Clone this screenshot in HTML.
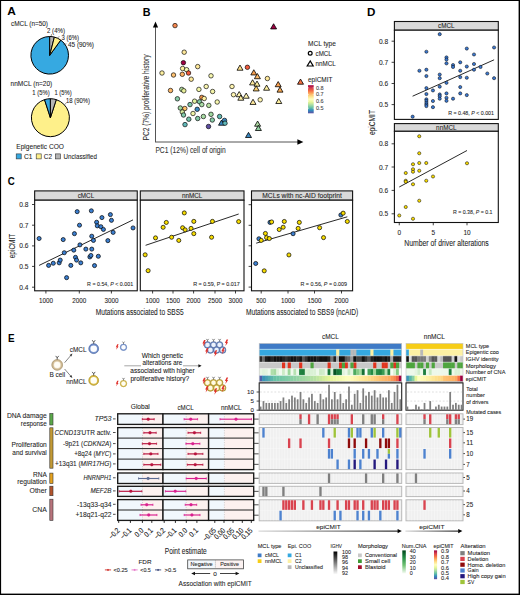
<!DOCTYPE html>
<html><head><meta charset="utf-8"><style>
html,body{margin:0;padding:0;background:#fff;}
svg{display:block;}
text{font-family:"Liberation Sans", sans-serif;}
</style></head><body>
<svg width="520" height="595" viewBox="0 0 520 595" font-family='"Liberation Sans", sans-serif' fill="#1e1e1e">
<rect x="0" y="0" width="520" height="595" fill="#fff"/>
<rect x="0.00" y="0.00" width="520.00" height="1.00" fill="#000"/>
<rect x="0.00" y="0.00" width="1.10" height="595.00" fill="#000"/>
<rect x="518.60" y="0.00" width="1.40" height="595.00" fill="#000"/>
<rect x="0.00" y="593.60" width="520.00" height="1.40" fill="#000"/>
<text x="7.20" y="15.42" font-size="11.20" textLength="8.60" lengthAdjust="spacingAndGlyphs" font-weight="bold" fill="#000">A</text>
<text x="11.00" y="25.88" font-size="7.10" textLength="37.00" lengthAdjust="spacingAndGlyphs" stroke="#1e1e1e" stroke-width="0.08">cMCL (n=50)</text>
<path d="M49.70,55.30 L60.75,40.09 A18.80,18.80 0 1 1 49.70,36.50 Z" fill="#36a9e1" stroke="#000" stroke-width="1.0" stroke-linejoin="round"/>
<path d="M49.70,55.30 L49.70,36.50 A18.80,18.80 0 0 1 54.38,37.09 Z" fill="#b4b4b4" stroke="#000" stroke-width="1.0" stroke-linejoin="round"/>
<path d="M49.70,55.30 L54.38,37.09 A18.80,18.80 0 0 1 60.75,40.09 Z" fill="#fef08a" stroke="#000" stroke-width="1.0" stroke-linejoin="round"/>
<line x1="51.20" y1="36.20" x2="51.50" y2="34.00" stroke="#333" stroke-width="0.5"/>
<line x1="57.50" y1="37.60" x2="59.50" y2="36.60" stroke="#333" stroke-width="0.5"/>
<line x1="63.50" y1="44.60" x2="66.50" y2="43.80" stroke="#333" stroke-width="0.5"/>
<text x="47.00" y="32.69" font-size="7.10" textLength="18.00" lengthAdjust="spacingAndGlyphs" stroke="#1e1e1e" stroke-width="0.08">2 (4%)</text>
<text x="61.50" y="39.69" font-size="7.10" textLength="17.50" lengthAdjust="spacingAndGlyphs" stroke="#1e1e1e" stroke-width="0.08">3 (6%)</text>
<text x="68.00" y="46.98" font-size="7.10" textLength="26.00" lengthAdjust="spacingAndGlyphs" stroke="#1e1e1e" stroke-width="0.08">45 (90%)</text>
<text x="10.60" y="85.89" font-size="7.10" textLength="41.70" lengthAdjust="spacingAndGlyphs" stroke="#1e1e1e" stroke-width="0.08">nnMCL (n=20)</text>
<path d="M50.40,117.70 L56.27,99.63 A19.00,19.00 0 1 1 44.53,99.63 Z" fill="#fef08a" stroke="#000" stroke-width="1.0" stroke-linejoin="round"/>
<path d="M50.40,117.70 L44.53,99.63 A19.00,19.00 0 0 1 50.40,98.70 Z" fill="#36a9e1" stroke="#000" stroke-width="1.0" stroke-linejoin="round"/>
<path d="M50.40,117.70 L50.40,98.70 A19.00,19.00 0 0 1 56.27,99.63 Z" fill="#b4b4b4" stroke="#000" stroke-width="1.0" stroke-linejoin="round"/>
<line x1="64.50" y1="104.80" x2="66.50" y2="102.60" stroke="#333" stroke-width="0.5"/>
<text x="32.30" y="95.48" font-size="7.10" textLength="17.30" lengthAdjust="spacingAndGlyphs" stroke="#1e1e1e" stroke-width="0.08">1 (5%)</text>
<text x="54.40" y="95.48" font-size="7.10" textLength="17.30" lengthAdjust="spacingAndGlyphs" stroke="#1e1e1e" stroke-width="0.08">1 (5%)</text>
<text x="66.00" y="103.19" font-size="7.10" textLength="24.00" lengthAdjust="spacingAndGlyphs" stroke="#1e1e1e" stroke-width="0.08">18 (90%)</text>
<text x="16.30" y="149.09" font-size="7.10" textLength="47.70" lengthAdjust="spacingAndGlyphs" stroke="#1e1e1e" stroke-width="0.08">Epigenetic COO</text>
<rect x="16.20" y="153.90" width="5.00" height="5.00" fill="#36a9e1" stroke="#333" stroke-width="0.6"/>
<text x="24.00" y="159.09" font-size="7.10" textLength="8.50" lengthAdjust="spacingAndGlyphs" stroke="#1e1e1e" stroke-width="0.08">C1</text>
<rect x="36.20" y="153.90" width="5.00" height="5.00" fill="#fef08a" stroke="#333" stroke-width="0.6"/>
<text x="43.80" y="159.09" font-size="7.10" textLength="8.20" lengthAdjust="spacingAndGlyphs" stroke="#1e1e1e" stroke-width="0.08">C2</text>
<rect x="55.40" y="153.90" width="5.00" height="5.00" fill="#b4b4b4" stroke="#333" stroke-width="0.6"/>
<text x="63.50" y="159.09" font-size="7.10" textLength="33.50" lengthAdjust="spacingAndGlyphs" stroke="#1e1e1e" stroke-width="0.08">Unclassified</text>
<text x="142.70" y="15.72" font-size="11.20" textLength="7.80" lengthAdjust="spacingAndGlyphs" font-weight="bold" fill="#000">B</text>
<line x1="155.50" y1="142.00" x2="155.50" y2="25.00" stroke="#555" stroke-width="1.0"/>
<polygon points="155.5,21.6 152.9,27.4 158.1,27.4" fill="#000"/>
<line x1="155.00" y1="142.00" x2="298.50" y2="142.00" stroke="#555" stroke-width="1.0"/>
<polygon points="303.4,142 297.4,139.3 297.4,144.7" fill="#000"/>
<text x="155.40" y="152.74" font-size="8.70" textLength="70.30" lengthAdjust="spacingAndGlyphs" fill="#333" stroke="#333" stroke-width="0.08">PC1 (12%) cell of origin</text>
<text x="146.30" y="100.55" font-size="8.70" text-anchor="middle" textLength="86.00" lengthAdjust="spacingAndGlyphs" fill="#333" stroke="#333" stroke-width="0.08" transform="rotate(-90 146.30 97.50)">PC2 (7%) proliferative history</text>
<circle cx="175.00" cy="25.60" r="2.25" fill="#f4874f" stroke="#000" stroke-width="0.65"/>
<circle cx="184.20" cy="52.20" r="2.25" fill="#fee89a" stroke="#000" stroke-width="0.65"/>
<circle cx="183.40" cy="62.70" r="2.25" fill="#9e0142" stroke="#000" stroke-width="0.65"/>
<circle cx="182.60" cy="68.50" r="2.25" fill="#fef0a0" stroke="#000" stroke-width="0.65"/>
<circle cx="186.60" cy="69.70" r="2.25" fill="#f4f8b0" stroke="#000" stroke-width="0.65"/>
<circle cx="188.50" cy="73.00" r="2.25" fill="#f05a3c" stroke="#000" stroke-width="0.65"/>
<circle cx="197.70" cy="66.60" r="2.25" fill="#fee89a" stroke="#000" stroke-width="0.65"/>
<circle cx="162.00" cy="73.00" r="2.25" fill="#fef0a0" stroke="#000" stroke-width="0.65"/>
<circle cx="173.50" cy="75.00" r="2.25" fill="#fdc070" stroke="#000" stroke-width="0.65"/>
<circle cx="182.30" cy="74.30" r="2.25" fill="#fdb060" stroke="#000" stroke-width="0.65"/>
<circle cx="191.20" cy="79.20" r="2.25" fill="#fee89a" stroke="#000" stroke-width="0.65"/>
<circle cx="211.00" cy="75.80" r="2.25" fill="#f8f8b0" stroke="#000" stroke-width="0.65"/>
<circle cx="170.50" cy="90.50" r="2.25" fill="#fdb868" stroke="#000" stroke-width="0.65"/>
<circle cx="181.80" cy="89.40" r="2.25" fill="#b0dca0" stroke="#000" stroke-width="0.65"/>
<circle cx="183.80" cy="90.80" r="2.25" fill="#e8f09a" stroke="#000" stroke-width="0.65"/>
<circle cx="198.90" cy="89.40" r="2.25" fill="#f4f8a8" stroke="#000" stroke-width="0.65"/>
<circle cx="206.20" cy="86.50" r="2.25" fill="#f8f4b0" stroke="#000" stroke-width="0.65"/>
<circle cx="212.60" cy="91.50" r="2.25" fill="#f4f4a8" stroke="#000" stroke-width="0.65"/>
<circle cx="177.40" cy="98.80" r="2.25" fill="#88cca8" stroke="#000" stroke-width="0.65"/>
<circle cx="201.80" cy="97.40" r="2.25" fill="#f09048" stroke="#000" stroke-width="0.65"/>
<circle cx="204.20" cy="98.50" r="2.25" fill="#fef0a0" stroke="#000" stroke-width="0.65"/>
<circle cx="194.60" cy="101.20" r="2.25" fill="#e0f0a0" stroke="#000" stroke-width="0.65"/>
<circle cx="199.50" cy="101.80" r="2.25" fill="#80c8a4" stroke="#000" stroke-width="0.65"/>
<circle cx="201.80" cy="104.60" r="2.25" fill="#a8dca4" stroke="#000" stroke-width="0.65"/>
<circle cx="190.00" cy="104.60" r="2.25" fill="#78c4a8" stroke="#000" stroke-width="0.65"/>
<circle cx="208.80" cy="105.40" r="2.25" fill="#b8e0a0" stroke="#000" stroke-width="0.65"/>
<circle cx="217.20" cy="102.00" r="2.25" fill="#f8f8b0" stroke="#000" stroke-width="0.65"/>
<circle cx="180.30" cy="108.00" r="2.25" fill="#a0d8a0" stroke="#000" stroke-width="0.65"/>
<circle cx="184.80" cy="108.50" r="2.25" fill="#fdc068" stroke="#000" stroke-width="0.65"/>
<circle cx="197.20" cy="109.30" r="2.25" fill="#3a88c0" stroke="#000" stroke-width="0.65"/>
<circle cx="182.30" cy="112.00" r="2.25" fill="#d8eca0" stroke="#000" stroke-width="0.65"/>
<circle cx="183.50" cy="115.00" r="2.25" fill="#80c8a8" stroke="#000" stroke-width="0.65"/>
<circle cx="193.00" cy="113.50" r="2.25" fill="#f0f4a8" stroke="#000" stroke-width="0.65"/>
<circle cx="188.80" cy="119.20" r="2.25" fill="#70c0a8" stroke="#000" stroke-width="0.65"/>
<circle cx="197.70" cy="118.50" r="2.25" fill="#80c8a4" stroke="#000" stroke-width="0.65"/>
<circle cx="203.40" cy="116.50" r="2.25" fill="#a8dca4" stroke="#000" stroke-width="0.65"/>
<circle cx="211.00" cy="114.30" r="2.25" fill="#a0d8a0" stroke="#000" stroke-width="0.65"/>
<circle cx="212.30" cy="120.00" r="2.25" fill="#88cca8" stroke="#000" stroke-width="0.65"/>
<circle cx="219.60" cy="116.50" r="2.25" fill="#60b8b0" stroke="#000" stroke-width="0.65"/>
<circle cx="185.00" cy="124.60" r="2.25" fill="#60b8b8" stroke="#000" stroke-width="0.65"/>
<circle cx="208.50" cy="126.50" r="2.25" fill="#5e4fa2" stroke="#000" stroke-width="0.65"/>
<circle cx="247.40" cy="67.30" r="2.25" fill="#f05a3c" stroke="#000" stroke-width="0.65"/>
<circle cx="267.40" cy="78.50" r="2.25" fill="#fee89a" stroke="#000" stroke-width="0.65"/>
<circle cx="232.00" cy="86.50" r="2.25" fill="#fef4b0" stroke="#000" stroke-width="0.65"/>
<circle cx="233.50" cy="94.70" r="2.25" fill="#fef4b0" stroke="#000" stroke-width="0.65"/>
<circle cx="260.20" cy="99.80" r="2.25" fill="#fef4b0" stroke="#000" stroke-width="0.65"/>
<polygon points="273.60,23.74 270.60,28.93 276.60,28.93" fill="#9e0142" stroke="#000" stroke-width="0.8" stroke-linejoin="miter"/>
<polygon points="240.00,65.04 237.00,70.23 243.00,70.23" fill="#fee08b" stroke="#000" stroke-width="0.8" stroke-linejoin="miter"/>
<polygon points="253.80,69.74 250.80,74.93 256.80,74.93" fill="#f8a050" stroke="#000" stroke-width="0.8" stroke-linejoin="miter"/>
<polygon points="257.40,73.54 254.40,78.73 260.40,78.73" fill="#fdb868" stroke="#000" stroke-width="0.8" stroke-linejoin="miter"/>
<polygon points="252.60,79.74 249.60,84.93 255.60,84.93" fill="#fee89a" stroke="#000" stroke-width="0.8" stroke-linejoin="miter"/>
<polygon points="257.00,81.04 254.00,86.23 260.00,86.23" fill="#fef0a0" stroke="#000" stroke-width="0.8" stroke-linejoin="miter"/>
<polygon points="256.20,85.74 253.20,90.93 259.20,90.93" fill="#fdd070" stroke="#000" stroke-width="0.8" stroke-linejoin="miter"/>
<polygon points="266.60,85.04 263.60,90.23 269.60,90.23" fill="#fef0a0" stroke="#000" stroke-width="0.8" stroke-linejoin="miter"/>
<polygon points="278.20,81.54 275.20,86.73 281.20,86.73" fill="#f8a050" stroke="#000" stroke-width="0.8" stroke-linejoin="miter"/>
<polygon points="280.00,86.94 277.00,92.13 283.00,92.13" fill="#f8a850" stroke="#000" stroke-width="0.8" stroke-linejoin="miter"/>
<polygon points="239.20,91.54 236.20,96.73 242.20,96.73" fill="#fef4b0" stroke="#000" stroke-width="0.8" stroke-linejoin="miter"/>
<polygon points="240.80,95.04 237.80,100.23 243.80,100.23" fill="#fef0a0" stroke="#000" stroke-width="0.8" stroke-linejoin="miter"/>
<polygon points="246.20,93.04 243.20,98.23 249.20,98.23" fill="#fef4b0" stroke="#000" stroke-width="0.8" stroke-linejoin="miter"/>
<polygon points="253.00,99.24 250.00,104.43 256.00,104.43" fill="#fee89a" stroke="#000" stroke-width="0.8" stroke-linejoin="miter"/>
<polygon points="278.80,98.34 275.80,103.53 281.80,103.53" fill="#fef0a0" stroke="#000" stroke-width="0.8" stroke-linejoin="miter"/>
<polygon points="300.50,79.04 297.50,84.23 303.50,84.23" fill="#f47040" stroke="#000" stroke-width="0.8" stroke-linejoin="miter"/>
<polygon points="221.50,120.04 218.50,125.23 224.50,125.23" fill="#3a88c0" stroke="#000" stroke-width="0.8" stroke-linejoin="miter"/>
<circle cx="224.50" cy="120.40" r="2.25" fill="#3a88c0" stroke="#000" stroke-width="0.65"/>
<circle cx="225.00" cy="123.20" r="2.25" fill="#60b8b8" stroke="#000" stroke-width="0.65"/>
<polygon points="257.60,121.04 254.60,126.23 260.60,126.23" fill="#b0dca4" stroke="#000" stroke-width="0.8" stroke-linejoin="miter"/>
<polygon points="258.40,125.34 255.40,130.53 261.40,130.53" fill="#90d0a0" stroke="#000" stroke-width="0.8" stroke-linejoin="miter"/>
<polygon points="248.50,132.34 245.50,137.53 251.50,137.53" fill="#3a88c0" stroke="#000" stroke-width="0.8" stroke-linejoin="miter"/>
<text x="308.00" y="46.05" font-size="7.00" textLength="27.80" lengthAdjust="spacingAndGlyphs" stroke="#1e1e1e" stroke-width="0.08">MCL type</text>
<circle cx="310.2" cy="53.2" r="1.9" fill="none" stroke="#000" stroke-width="1.2"/>
<text x="315.60" y="55.65" font-size="7.00" textLength="16.20" lengthAdjust="spacingAndGlyphs" stroke="#1e1e1e" stroke-width="0.08">cMCL</text>
<polygon points="310.2,61.0 307.2,66.0 313.2,66.0" fill="none" stroke="#000" stroke-width="1.2"/>
<text x="315.60" y="66.35" font-size="7.00" textLength="20.20" lengthAdjust="spacingAndGlyphs" stroke="#1e1e1e" stroke-width="0.08">nnMCL</text>
<text x="308.00" y="81.95" font-size="7.00" textLength="24.50" lengthAdjust="spacingAndGlyphs" stroke="#1e1e1e" stroke-width="0.08">epiCMIT</text>
<defs><linearGradient id="gspec" x1="0" y1="1" x2="0" y2="0"><stop offset="0.000" stop-color="#5e4fa2"/><stop offset="0.100" stop-color="#3288bd"/><stop offset="0.200" stop-color="#66c2a5"/><stop offset="0.300" stop-color="#abdda4"/><stop offset="0.400" stop-color="#e6f598"/><stop offset="0.500" stop-color="#ffffbf"/><stop offset="0.600" stop-color="#fee08b"/><stop offset="0.700" stop-color="#fdae61"/><stop offset="0.800" stop-color="#f46d43"/><stop offset="0.900" stop-color="#d53e4f"/><stop offset="1.000" stop-color="#9e0142"/></linearGradient></defs>
<rect x="308.00" y="85.20" width="5.70" height="28.10" fill="url(#gspec)"/>
<line x1="308.00" y1="87.80" x2="309.00" y2="87.80" stroke="#fff" stroke-width="0.5"/>
<line x1="312.70" y1="87.80" x2="313.70" y2="87.80" stroke="#fff" stroke-width="0.5"/>
<text x="316.00" y="89.52" font-size="4.90" textLength="7.60" lengthAdjust="spacingAndGlyphs" fill="#444" stroke="#444" stroke-width="0.08">0.8</text>
<line x1="308.00" y1="94.40" x2="309.00" y2="94.40" stroke="#fff" stroke-width="0.5"/>
<line x1="312.70" y1="94.40" x2="313.70" y2="94.40" stroke="#fff" stroke-width="0.5"/>
<text x="316.00" y="96.12" font-size="4.90" textLength="7.60" lengthAdjust="spacingAndGlyphs" fill="#444" stroke="#444" stroke-width="0.08">0.7</text>
<line x1="308.00" y1="101.20" x2="309.00" y2="101.20" stroke="#fff" stroke-width="0.5"/>
<line x1="312.70" y1="101.20" x2="313.70" y2="101.20" stroke="#fff" stroke-width="0.5"/>
<text x="316.00" y="102.92" font-size="4.90" textLength="7.60" lengthAdjust="spacingAndGlyphs" fill="#444" stroke="#444" stroke-width="0.08">0.6</text>
<line x1="308.00" y1="108.20" x2="309.00" y2="108.20" stroke="#fff" stroke-width="0.5"/>
<line x1="312.70" y1="108.20" x2="313.70" y2="108.20" stroke="#fff" stroke-width="0.5"/>
<text x="316.00" y="109.92" font-size="4.90" textLength="7.60" lengthAdjust="spacingAndGlyphs" fill="#444" stroke="#444" stroke-width="0.08">0.5</text>
<text x="7.70" y="184.82" font-size="11.20" textLength="7.00" lengthAdjust="spacingAndGlyphs" font-weight="bold" fill="#000">C</text>
<rect x="34.65" y="190.90" width="102.60" height="9.30" fill="#d9d9d9" stroke="#111" stroke-width="1.1"/>
<rect x="34.65" y="200.20" width="102.60" height="90.60" fill="#fff" stroke="#111" stroke-width="1.1"/>
<text x="85.95" y="198.06" font-size="6.60" text-anchor="middle" textLength="16.50" lengthAdjust="spacingAndGlyphs" stroke="#1e1e1e" stroke-width="0.08">cMCL</text>
<rect x="140.30" y="190.90" width="103.70" height="9.30" fill="#d9d9d9" stroke="#111" stroke-width="1.1"/>
<rect x="140.30" y="200.20" width="103.70" height="90.60" fill="#fff" stroke="#111" stroke-width="1.1"/>
<text x="192.15" y="198.06" font-size="6.60" text-anchor="middle" textLength="20.50" lengthAdjust="spacingAndGlyphs" stroke="#1e1e1e" stroke-width="0.08">nnMCL</text>
<rect x="251.50" y="190.90" width="101.10" height="9.30" fill="#d9d9d9" stroke="#111" stroke-width="1.1"/>
<rect x="251.50" y="200.20" width="101.10" height="90.60" fill="#fff" stroke="#111" stroke-width="1.1"/>
<text x="302.05" y="198.06" font-size="6.60" text-anchor="middle" textLength="79.50" lengthAdjust="spacingAndGlyphs" stroke="#1e1e1e" stroke-width="0.08">MCLs with nc-AID footprint</text>
<line x1="32.00" y1="204.50" x2="34.65" y2="204.50" stroke="#111" stroke-width="0.8"/>
<text x="28.50" y="207.02" font-size="7.20" text-anchor="end" textLength="9.20" lengthAdjust="spacingAndGlyphs" stroke="#1e1e1e" stroke-width="0.08">0.8</text>
<line x1="32.00" y1="225.20" x2="34.65" y2="225.20" stroke="#111" stroke-width="0.8"/>
<text x="28.50" y="227.72" font-size="7.20" text-anchor="end" textLength="9.20" lengthAdjust="spacingAndGlyphs" stroke="#1e1e1e" stroke-width="0.08">0.7</text>
<line x1="32.00" y1="245.90" x2="34.65" y2="245.90" stroke="#111" stroke-width="0.8"/>
<text x="28.50" y="248.42" font-size="7.20" text-anchor="end" textLength="9.20" lengthAdjust="spacingAndGlyphs" stroke="#1e1e1e" stroke-width="0.08">0.6</text>
<line x1="32.00" y1="266.40" x2="34.65" y2="266.40" stroke="#111" stroke-width="0.8"/>
<text x="28.50" y="268.92" font-size="7.20" text-anchor="end" textLength="9.20" lengthAdjust="spacingAndGlyphs" stroke="#1e1e1e" stroke-width="0.08">0.5</text>
<line x1="32.00" y1="287.20" x2="34.65" y2="287.20" stroke="#111" stroke-width="0.8"/>
<text x="28.50" y="289.72" font-size="7.20" text-anchor="end" textLength="9.20" lengthAdjust="spacingAndGlyphs" stroke="#1e1e1e" stroke-width="0.08">0.4</text>
<line x1="248.60" y1="204.70" x2="251.50" y2="204.70" stroke="#111" stroke-width="0.8"/>
<line x1="248.60" y1="225.30" x2="251.50" y2="225.30" stroke="#111" stroke-width="0.8"/>
<line x1="248.60" y1="245.80" x2="251.50" y2="245.80" stroke="#111" stroke-width="0.8"/>
<line x1="248.60" y1="266.40" x2="251.50" y2="266.40" stroke="#111" stroke-width="0.8"/>
<line x1="248.60" y1="287.10" x2="251.50" y2="287.10" stroke="#111" stroke-width="0.8"/>
<text x="11.60" y="249.15" font-size="9.00" text-anchor="middle" textLength="24.50" lengthAdjust="spacingAndGlyphs" stroke="#1e1e1e" stroke-width="0.08" transform="rotate(-90 11.60 246.00)">epiCMIT</text>
<line x1="45.90" y1="290.80" x2="45.90" y2="293.50" stroke="#111" stroke-width="0.8"/>
<text x="45.90" y="303.29" font-size="7.40" text-anchor="middle" textLength="14.00" lengthAdjust="spacingAndGlyphs" stroke="#1e1e1e" stroke-width="0.08">1000</text>
<line x1="79.30" y1="290.80" x2="79.30" y2="293.50" stroke="#111" stroke-width="0.8"/>
<text x="79.30" y="303.29" font-size="7.40" text-anchor="middle" textLength="14.00" lengthAdjust="spacingAndGlyphs" stroke="#1e1e1e" stroke-width="0.08">2000</text>
<line x1="111.40" y1="290.80" x2="111.40" y2="293.50" stroke="#111" stroke-width="0.8"/>
<text x="111.40" y="303.29" font-size="7.40" text-anchor="middle" textLength="14.00" lengthAdjust="spacingAndGlyphs" stroke="#1e1e1e" stroke-width="0.08">3000</text>
<line x1="152.60" y1="290.80" x2="152.60" y2="293.50" stroke="#111" stroke-width="0.8"/>
<text x="152.60" y="303.29" font-size="7.40" text-anchor="middle" textLength="14.00" lengthAdjust="spacingAndGlyphs" stroke="#1e1e1e" stroke-width="0.08">1000</text>
<line x1="173.00" y1="290.80" x2="173.00" y2="293.50" stroke="#111" stroke-width="0.8"/>
<text x="173.00" y="303.29" font-size="7.40" text-anchor="middle" textLength="14.00" lengthAdjust="spacingAndGlyphs" stroke="#1e1e1e" stroke-width="0.08">1500</text>
<line x1="193.60" y1="290.80" x2="193.60" y2="293.50" stroke="#111" stroke-width="0.8"/>
<text x="193.60" y="303.29" font-size="7.40" text-anchor="middle" textLength="14.00" lengthAdjust="spacingAndGlyphs" stroke="#1e1e1e" stroke-width="0.08">2000</text>
<line x1="215.00" y1="290.80" x2="215.00" y2="293.50" stroke="#111" stroke-width="0.8"/>
<text x="215.00" y="303.29" font-size="7.40" text-anchor="middle" textLength="14.00" lengthAdjust="spacingAndGlyphs" stroke="#1e1e1e" stroke-width="0.08">2500</text>
<line x1="235.50" y1="290.80" x2="235.50" y2="293.50" stroke="#111" stroke-width="0.8"/>
<text x="235.50" y="303.29" font-size="7.40" text-anchor="middle" textLength="14.00" lengthAdjust="spacingAndGlyphs" stroke="#1e1e1e" stroke-width="0.08">3000</text>
<line x1="261.20" y1="290.80" x2="261.20" y2="293.50" stroke="#111" stroke-width="0.8"/>
<text x="261.20" y="303.29" font-size="7.40" text-anchor="middle" textLength="9.80" lengthAdjust="spacingAndGlyphs" stroke="#1e1e1e" stroke-width="0.08">500</text>
<line x1="288.00" y1="290.80" x2="288.00" y2="293.50" stroke="#111" stroke-width="0.8"/>
<text x="288.00" y="303.29" font-size="7.40" text-anchor="middle" textLength="14.00" lengthAdjust="spacingAndGlyphs" stroke="#1e1e1e" stroke-width="0.08">1000</text>
<line x1="314.50" y1="290.80" x2="314.50" y2="293.50" stroke="#111" stroke-width="0.8"/>
<text x="314.50" y="303.29" font-size="7.40" text-anchor="middle" textLength="14.00" lengthAdjust="spacingAndGlyphs" stroke="#1e1e1e" stroke-width="0.08">1500</text>
<line x1="341.50" y1="290.80" x2="341.50" y2="293.50" stroke="#111" stroke-width="0.8"/>
<text x="341.50" y="303.29" font-size="7.40" text-anchor="middle" textLength="14.00" lengthAdjust="spacingAndGlyphs" stroke="#1e1e1e" stroke-width="0.08">2000</text>
<text x="95.80" y="314.81" font-size="8.90" textLength="88.00" lengthAdjust="spacingAndGlyphs" stroke="#1e1e1e" stroke-width="0.08">Mutations associated to SBS5</text>
<text x="246.00" y="314.81" font-size="8.90" textLength="112.30" lengthAdjust="spacingAndGlyphs" stroke="#1e1e1e" stroke-width="0.08">Mutations associated to SBS9 (ncAID)</text>
<line x1="39.10" y1="265.40" x2="133.00" y2="219.90" stroke="#111" stroke-width="0.9"/>
<circle cx="39.10" cy="238.52" r="2.05" fill="#3c7fd0" stroke="#000" stroke-width="0.7"/>
<circle cx="48.62" cy="265.39" r="2.05" fill="#3c7fd0" stroke="#000" stroke-width="0.7"/>
<circle cx="53.27" cy="263.27" r="2.05" fill="#3c7fd0" stroke="#000" stroke-width="0.7"/>
<circle cx="59.19" cy="262.85" r="2.05" fill="#3c7fd0" stroke="#000" stroke-width="0.7"/>
<circle cx="60.25" cy="260.10" r="2.05" fill="#3c7fd0" stroke="#000" stroke-width="0.7"/>
<circle cx="63.21" cy="239.58" r="2.05" fill="#3c7fd0" stroke="#000" stroke-width="0.7"/>
<circle cx="64.27" cy="252.70" r="2.05" fill="#3c7fd0" stroke="#000" stroke-width="0.7"/>
<circle cx="66.60" cy="277.66" r="2.05" fill="#3c7fd0" stroke="#000" stroke-width="0.7"/>
<circle cx="70.83" cy="265.39" r="2.05" fill="#3c7fd0" stroke="#000" stroke-width="0.7"/>
<circle cx="73.79" cy="250.16" r="2.05" fill="#3c7fd0" stroke="#000" stroke-width="0.7"/>
<circle cx="74.43" cy="233.66" r="2.05" fill="#3c7fd0" stroke="#000" stroke-width="0.7"/>
<circle cx="75.48" cy="257.35" r="2.05" fill="#3c7fd0" stroke="#000" stroke-width="0.7"/>
<circle cx="76.54" cy="260.10" r="2.05" fill="#3c7fd0" stroke="#000" stroke-width="0.7"/>
<circle cx="77.18" cy="211.66" r="2.05" fill="#3c7fd0" stroke="#000" stroke-width="0.7"/>
<circle cx="79.50" cy="225.19" r="2.05" fill="#3c7fd0" stroke="#000" stroke-width="0.7"/>
<circle cx="79.93" cy="244.87" r="2.05" fill="#3c7fd0" stroke="#000" stroke-width="0.7"/>
<circle cx="80.77" cy="262.85" r="2.05" fill="#3c7fd0" stroke="#000" stroke-width="0.7"/>
<circle cx="85.85" cy="249.10" r="2.05" fill="#3c7fd0" stroke="#000" stroke-width="0.7"/>
<circle cx="89.87" cy="256.93" r="2.05" fill="#3c7fd0" stroke="#000" stroke-width="0.7"/>
<circle cx="90.93" cy="255.45" r="2.05" fill="#3c7fd0" stroke="#000" stroke-width="0.7"/>
<circle cx="91.35" cy="210.81" r="2.05" fill="#3c7fd0" stroke="#000" stroke-width="0.7"/>
<circle cx="91.77" cy="236.20" r="2.05" fill="#3c7fd0" stroke="#000" stroke-width="0.7"/>
<circle cx="91.77" cy="249.10" r="2.05" fill="#3c7fd0" stroke="#000" stroke-width="0.7"/>
<circle cx="93.47" cy="240.43" r="2.05" fill="#3c7fd0" stroke="#000" stroke-width="0.7"/>
<circle cx="94.52" cy="265.60" r="2.05" fill="#3c7fd0" stroke="#000" stroke-width="0.7"/>
<circle cx="96.64" cy="222.23" r="2.05" fill="#3c7fd0" stroke="#000" stroke-width="0.7"/>
<circle cx="97.27" cy="225.83" r="2.05" fill="#3c7fd0" stroke="#000" stroke-width="0.7"/>
<circle cx="98.33" cy="256.29" r="2.05" fill="#3c7fd0" stroke="#000" stroke-width="0.7"/>
<circle cx="100.87" cy="226.68" r="2.05" fill="#3c7fd0" stroke="#000" stroke-width="0.7"/>
<circle cx="101.93" cy="217.58" r="2.05" fill="#3c7fd0" stroke="#000" stroke-width="0.7"/>
<circle cx="103.41" cy="229.43" r="2.05" fill="#3c7fd0" stroke="#000" stroke-width="0.7"/>
<circle cx="107.85" cy="240.64" r="2.05" fill="#3c7fd0" stroke="#000" stroke-width="0.7"/>
<circle cx="110.39" cy="214.62" r="2.05" fill="#3c7fd0" stroke="#000" stroke-width="0.7"/>
<circle cx="111.45" cy="220.33" r="2.05" fill="#3c7fd0" stroke="#000" stroke-width="0.7"/>
<circle cx="113.14" cy="232.39" r="2.05" fill="#3c7fd0" stroke="#000" stroke-width="0.7"/>
<circle cx="133.03" cy="227.94" r="2.05" fill="#3c7fd0" stroke="#000" stroke-width="0.7"/>
<text x="87.10" y="285.69" font-size="5.40" textLength="46.00" lengthAdjust="spacingAndGlyphs" stroke="#1e1e1e" stroke-width="0.08">R = 0.54, <tspan font-style="italic">P</tspan> &lt; 0.001</text>
<line x1="145.60" y1="245.30" x2="238.70" y2="214.00" stroke="#111" stroke-width="0.9"/>
<circle cx="145.15" cy="254.81" r="2.05" fill="#f7dc00" stroke="#000" stroke-width="0.7"/>
<circle cx="148.12" cy="270.68" r="2.05" fill="#f7dc00" stroke="#000" stroke-width="0.7"/>
<circle cx="155.52" cy="237.89" r="2.05" fill="#f7dc00" stroke="#000" stroke-width="0.7"/>
<circle cx="163.14" cy="227.31" r="2.05" fill="#f7dc00" stroke="#000" stroke-width="0.7"/>
<circle cx="166.31" cy="222.44" r="2.05" fill="#f7dc00" stroke="#000" stroke-width="0.7"/>
<circle cx="171.60" cy="237.25" r="2.05" fill="#f7dc00" stroke="#000" stroke-width="0.7"/>
<circle cx="178.79" cy="240.43" r="2.05" fill="#f7dc00" stroke="#000" stroke-width="0.7"/>
<circle cx="182.60" cy="227.73" r="2.05" fill="#f7dc00" stroke="#000" stroke-width="0.7"/>
<circle cx="184.29" cy="212.92" r="2.05" fill="#f7dc00" stroke="#000" stroke-width="0.7"/>
<circle cx="185.14" cy="229.85" r="2.05" fill="#f7dc00" stroke="#000" stroke-width="0.7"/>
<circle cx="191.06" cy="228.37" r="2.05" fill="#f7dc00" stroke="#000" stroke-width="0.7"/>
<circle cx="193.81" cy="221.39" r="2.05" fill="#f7dc00" stroke="#000" stroke-width="0.7"/>
<circle cx="193.81" cy="233.66" r="2.05" fill="#f7dc00" stroke="#000" stroke-width="0.7"/>
<circle cx="211.58" cy="237.25" r="2.05" fill="#f7dc00" stroke="#000" stroke-width="0.7"/>
<circle cx="212.43" cy="221.39" r="2.05" fill="#f7dc00" stroke="#000" stroke-width="0.7"/>
<circle cx="238.66" cy="221.60" r="2.05" fill="#f7dc00" stroke="#000" stroke-width="0.7"/>
<text x="193.20" y="285.69" font-size="5.40" textLength="46.50" lengthAdjust="spacingAndGlyphs" stroke="#1e1e1e" stroke-width="0.08">R = 0.59, P = 0.017</text>
<line x1="256.20" y1="243.20" x2="347.30" y2="216.80" stroke="#111" stroke-width="0.9"/>
<circle cx="255.69" cy="263.47" r="2.05" fill="#3c7fd0" stroke="#000" stroke-width="0.7"/>
<circle cx="258.92" cy="238.77" r="2.05" fill="#3c7fd0" stroke="#000" stroke-width="0.7"/>
<circle cx="270.00" cy="222.39" r="2.05" fill="#3c7fd0" stroke="#000" stroke-width="0.7"/>
<circle cx="293.08" cy="233.70" r="2.05" fill="#3c7fd0" stroke="#000" stroke-width="0.7"/>
<circle cx="340.85" cy="215.00" r="2.05" fill="#3c7fd0" stroke="#000" stroke-width="0.7"/>
<circle cx="261.23" cy="240.39" r="2.05" fill="#f7dc00" stroke="#000" stroke-width="0.7"/>
<circle cx="264.23" cy="270.85" r="2.05" fill="#f7dc00" stroke="#000" stroke-width="0.7"/>
<circle cx="265.39" cy="233.47" r="2.05" fill="#f7dc00" stroke="#000" stroke-width="0.7"/>
<circle cx="266.54" cy="237.62" r="2.05" fill="#f7dc00" stroke="#000" stroke-width="0.7"/>
<circle cx="269.31" cy="238.54" r="2.05" fill="#f7dc00" stroke="#000" stroke-width="0.7"/>
<circle cx="271.62" cy="221.93" r="2.05" fill="#f7dc00" stroke="#000" stroke-width="0.7"/>
<circle cx="279.23" cy="229.54" r="2.05" fill="#f7dc00" stroke="#000" stroke-width="0.7"/>
<circle cx="283.16" cy="227.23" r="2.05" fill="#f7dc00" stroke="#000" stroke-width="0.7"/>
<circle cx="284.31" cy="221.46" r="2.05" fill="#f7dc00" stroke="#000" stroke-width="0.7"/>
<circle cx="288.93" cy="254.93" r="2.05" fill="#f7dc00" stroke="#000" stroke-width="0.7"/>
<circle cx="298.16" cy="228.39" r="2.05" fill="#f7dc00" stroke="#000" stroke-width="0.7"/>
<circle cx="299.31" cy="222.39" r="2.05" fill="#f7dc00" stroke="#000" stroke-width="0.7"/>
<circle cx="319.62" cy="227.70" r="2.05" fill="#f7dc00" stroke="#000" stroke-width="0.7"/>
<circle cx="323.54" cy="237.62" r="2.05" fill="#f7dc00" stroke="#000" stroke-width="0.7"/>
<circle cx="343.16" cy="213.16" r="2.05" fill="#f7dc00" stroke="#000" stroke-width="0.7"/>
<circle cx="347.32" cy="221.46" r="2.05" fill="#f7dc00" stroke="#000" stroke-width="0.7"/>
<text x="300.50" y="285.99" font-size="5.40" textLength="46.40" lengthAdjust="spacingAndGlyphs" stroke="#1e1e1e" stroke-width="0.08">R = 0.56, <tspan font-style="italic">P</tspan> = 0.009</text>
<text x="367.00" y="15.52" font-size="11.20" textLength="8.40" lengthAdjust="spacingAndGlyphs" font-weight="bold" fill="#000">D</text>
<rect x="394.40" y="21.50" width="103.90" height="8.70" fill="#d9d9d9" stroke="#111" stroke-width="1.1"/>
<rect x="394.40" y="30.20" width="103.90" height="89.20" fill="#fff" stroke="#111" stroke-width="1.1"/>
<text x="446.35" y="28.36" font-size="6.60" text-anchor="middle" textLength="16.50" lengthAdjust="spacingAndGlyphs" stroke="#1e1e1e" stroke-width="0.08">cMCL</text>
<rect x="394.40" y="123.60" width="103.90" height="7.70" fill="#d9d9d9" stroke="#111" stroke-width="1.1"/>
<rect x="394.40" y="131.30" width="103.90" height="91.20" fill="#fff" stroke="#111" stroke-width="1.1"/>
<text x="446.35" y="129.96" font-size="6.60" text-anchor="middle" textLength="20.50" lengthAdjust="spacingAndGlyphs" stroke="#1e1e1e" stroke-width="0.08">nnMCL</text>
<line x1="391.60" y1="41.20" x2="394.40" y2="41.20" stroke="#111" stroke-width="0.8"/>
<text x="388.10" y="43.72" font-size="7.20" text-anchor="end" textLength="9.20" lengthAdjust="spacingAndGlyphs" stroke="#1e1e1e" stroke-width="0.08">0.8</text>
<line x1="391.60" y1="62.30" x2="394.40" y2="62.30" stroke="#111" stroke-width="0.8"/>
<text x="388.10" y="64.82" font-size="7.20" text-anchor="end" textLength="9.20" lengthAdjust="spacingAndGlyphs" stroke="#1e1e1e" stroke-width="0.08">0.7</text>
<line x1="391.60" y1="83.50" x2="394.40" y2="83.50" stroke="#111" stroke-width="0.8"/>
<text x="388.10" y="86.02" font-size="7.20" text-anchor="end" textLength="9.20" lengthAdjust="spacingAndGlyphs" stroke="#1e1e1e" stroke-width="0.08">0.6</text>
<line x1="391.60" y1="104.60" x2="394.40" y2="104.60" stroke="#111" stroke-width="0.8"/>
<text x="388.10" y="107.12" font-size="7.20" text-anchor="end" textLength="9.20" lengthAdjust="spacingAndGlyphs" stroke="#1e1e1e" stroke-width="0.08">0.5</text>
<line x1="391.60" y1="143.80" x2="394.40" y2="143.80" stroke="#111" stroke-width="0.8"/>
<text x="388.10" y="146.32" font-size="7.20" text-anchor="end" textLength="9.20" lengthAdjust="spacingAndGlyphs" stroke="#1e1e1e" stroke-width="0.08">0.8</text>
<line x1="391.60" y1="167.00" x2="394.40" y2="167.00" stroke="#111" stroke-width="0.8"/>
<text x="388.10" y="169.52" font-size="7.20" text-anchor="end" textLength="9.20" lengthAdjust="spacingAndGlyphs" stroke="#1e1e1e" stroke-width="0.08">0.7</text>
<line x1="391.60" y1="190.40" x2="394.40" y2="190.40" stroke="#111" stroke-width="0.8"/>
<text x="388.10" y="192.92" font-size="7.20" text-anchor="end" textLength="9.20" lengthAdjust="spacingAndGlyphs" stroke="#1e1e1e" stroke-width="0.08">0.6</text>
<line x1="391.60" y1="213.80" x2="394.40" y2="213.80" stroke="#111" stroke-width="0.8"/>
<text x="388.10" y="216.32" font-size="7.20" text-anchor="end" textLength="9.20" lengthAdjust="spacingAndGlyphs" stroke="#1e1e1e" stroke-width="0.08">0.5</text>
<line x1="399.25" y1="222.50" x2="399.25" y2="225.30" stroke="#111" stroke-width="0.8"/>
<text x="399.25" y="234.59" font-size="7.40" text-anchor="middle" textLength="3.60" lengthAdjust="spacingAndGlyphs" stroke="#1e1e1e" stroke-width="0.08">0</text>
<line x1="433.25" y1="222.50" x2="433.25" y2="225.30" stroke="#111" stroke-width="0.8"/>
<text x="433.25" y="234.59" font-size="7.40" text-anchor="middle" textLength="3.60" lengthAdjust="spacingAndGlyphs" stroke="#1e1e1e" stroke-width="0.08">5</text>
<line x1="467.00" y1="222.50" x2="467.00" y2="225.30" stroke="#111" stroke-width="0.8"/>
<text x="467.00" y="234.59" font-size="7.40" text-anchor="middle" textLength="7.20" lengthAdjust="spacingAndGlyphs" stroke="#1e1e1e" stroke-width="0.08">10</text>
<text x="404.30" y="246.42" font-size="8.90" textLength="84.50" lengthAdjust="spacingAndGlyphs" stroke="#1e1e1e" stroke-width="0.08">Number of driver alterations</text>
<text x="372.10" y="125.65" font-size="9.00" text-anchor="middle" textLength="25.00" lengthAdjust="spacingAndGlyphs" stroke="#1e1e1e" stroke-width="0.08" transform="rotate(-90 372.10 122.50)">epiCMIT</text>
<line x1="412.60" y1="96.20" x2="494.10" y2="59.80" stroke="#111" stroke-width="0.9"/>
<circle cx="439.71" cy="34.17" r="1.60" fill="#3b78d0" stroke="#000" stroke-width="0.5"/>
<circle cx="466.79" cy="48.56" r="1.60" fill="#3b78d0" stroke="#000" stroke-width="0.5"/>
<circle cx="494.08" cy="47.50" r="1.60" fill="#3b78d0" stroke="#000" stroke-width="0.5"/>
<circle cx="426.39" cy="51.73" r="1.60" fill="#3b78d0" stroke="#000" stroke-width="0.5"/>
<circle cx="473.99" cy="54.48" r="1.60" fill="#3b78d0" stroke="#000" stroke-width="0.5"/>
<circle cx="446.48" cy="57.44" r="1.60" fill="#3b78d0" stroke="#000" stroke-width="0.5"/>
<circle cx="446.48" cy="59.56" r="1.60" fill="#3b78d0" stroke="#000" stroke-width="0.5"/>
<circle cx="446.48" cy="63.37" r="1.60" fill="#3b78d0" stroke="#000" stroke-width="0.5"/>
<circle cx="453.04" cy="65.06" r="1.60" fill="#3b78d0" stroke="#000" stroke-width="0.5"/>
<circle cx="453.04" cy="66.96" r="1.60" fill="#3b78d0" stroke="#000" stroke-width="0.5"/>
<circle cx="460.23" cy="62.31" r="1.60" fill="#3b78d0" stroke="#000" stroke-width="0.5"/>
<circle cx="466.79" cy="66.54" r="1.60" fill="#3b78d0" stroke="#000" stroke-width="0.5"/>
<circle cx="473.99" cy="64.00" r="1.60" fill="#3b78d0" stroke="#000" stroke-width="0.5"/>
<circle cx="480.54" cy="66.96" r="1.60" fill="#3b78d0" stroke="#000" stroke-width="0.5"/>
<circle cx="419.41" cy="70.77" r="1.60" fill="#3b78d0" stroke="#000" stroke-width="0.5"/>
<circle cx="426.39" cy="69.71" r="1.60" fill="#3b78d0" stroke="#000" stroke-width="0.5"/>
<circle cx="460.23" cy="70.77" r="1.60" fill="#3b78d0" stroke="#000" stroke-width="0.5"/>
<circle cx="473.99" cy="69.71" r="1.60" fill="#3b78d0" stroke="#000" stroke-width="0.5"/>
<circle cx="487.31" cy="73.52" r="1.60" fill="#3b78d0" stroke="#000" stroke-width="0.5"/>
<circle cx="426.39" cy="76.06" r="1.60" fill="#3b78d0" stroke="#000" stroke-width="0.5"/>
<circle cx="439.71" cy="74.58" r="1.60" fill="#3b78d0" stroke="#000" stroke-width="0.5"/>
<circle cx="439.71" cy="78.18" r="1.60" fill="#3b78d0" stroke="#000" stroke-width="0.5"/>
<circle cx="460.23" cy="77.12" r="1.60" fill="#3b78d0" stroke="#000" stroke-width="0.5"/>
<circle cx="466.79" cy="77.75" r="1.60" fill="#3b78d0" stroke="#000" stroke-width="0.5"/>
<circle cx="494.08" cy="78.18" r="1.60" fill="#3b78d0" stroke="#000" stroke-width="0.5"/>
<circle cx="446.48" cy="82.83" r="1.60" fill="#3b78d0" stroke="#000" stroke-width="0.5"/>
<circle cx="439.71" cy="86.64" r="1.60" fill="#3b78d0" stroke="#000" stroke-width="0.5"/>
<circle cx="426.39" cy="88.12" r="1.60" fill="#3b78d0" stroke="#000" stroke-width="0.5"/>
<circle cx="432.94" cy="90.45" r="1.60" fill="#3b78d0" stroke="#000" stroke-width="0.5"/>
<circle cx="460.23" cy="87.06" r="1.60" fill="#3b78d0" stroke="#000" stroke-width="0.5"/>
<circle cx="426.39" cy="94.04" r="1.60" fill="#3b78d0" stroke="#000" stroke-width="0.5"/>
<circle cx="439.71" cy="94.47" r="1.60" fill="#3b78d0" stroke="#000" stroke-width="0.5"/>
<circle cx="439.71" cy="96.16" r="1.60" fill="#3b78d0" stroke="#000" stroke-width="0.5"/>
<circle cx="446.48" cy="93.41" r="1.60" fill="#3b78d0" stroke="#000" stroke-width="0.5"/>
<circle cx="460.23" cy="93.41" r="1.60" fill="#3b78d0" stroke="#000" stroke-width="0.5"/>
<circle cx="466.79" cy="95.10" r="1.60" fill="#3b78d0" stroke="#000" stroke-width="0.5"/>
<circle cx="426.39" cy="99.33" r="1.60" fill="#3b78d0" stroke="#000" stroke-width="0.5"/>
<circle cx="426.39" cy="101.02" r="1.60" fill="#3b78d0" stroke="#000" stroke-width="0.5"/>
<circle cx="426.39" cy="102.93" r="1.60" fill="#3b78d0" stroke="#000" stroke-width="0.5"/>
<circle cx="426.39" cy="104.62" r="1.60" fill="#3b78d0" stroke="#000" stroke-width="0.5"/>
<circle cx="426.39" cy="106.10" r="1.60" fill="#3b78d0" stroke="#000" stroke-width="0.5"/>
<circle cx="432.94" cy="101.02" r="1.60" fill="#3b78d0" stroke="#000" stroke-width="0.5"/>
<circle cx="439.71" cy="98.70" r="1.60" fill="#3b78d0" stroke="#000" stroke-width="0.5"/>
<circle cx="446.48" cy="97.85" r="1.60" fill="#3b78d0" stroke="#000" stroke-width="0.5"/>
<circle cx="446.48" cy="100.81" r="1.60" fill="#3b78d0" stroke="#000" stroke-width="0.5"/>
<circle cx="453.04" cy="98.70" r="1.60" fill="#3b78d0" stroke="#000" stroke-width="0.5"/>
<circle cx="432.94" cy="107.16" r="1.60" fill="#3b78d0" stroke="#000" stroke-width="0.5"/>
<circle cx="412.64" cy="116.68" r="1.60" fill="#3b78d0" stroke="#000" stroke-width="0.5"/>
<text x="448.20" y="114.89" font-size="5.40" textLength="45.80" lengthAdjust="spacingAndGlyphs" stroke="#1e1e1e" stroke-width="0.08">R = 0.48, <tspan font-style="italic">P</tspan> &lt; 0.001</text>
<line x1="399.25" y1="187.00" x2="467.00" y2="150.50" stroke="#111" stroke-width="0.9"/>
<circle cx="419.25" cy="136.25" r="1.60" fill="#f7da00" stroke="#000" stroke-width="0.5"/>
<circle cx="419.25" cy="153.25" r="1.60" fill="#f7da00" stroke="#000" stroke-width="0.5"/>
<circle cx="413.00" cy="164.25" r="1.60" fill="#f7da00" stroke="#000" stroke-width="0.5"/>
<circle cx="419.25" cy="163.00" r="1.60" fill="#f7da00" stroke="#000" stroke-width="0.5"/>
<circle cx="426.25" cy="163.00" r="1.60" fill="#f7da00" stroke="#000" stroke-width="0.5"/>
<circle cx="413.00" cy="169.25" r="1.60" fill="#f7da00" stroke="#000" stroke-width="0.5"/>
<circle cx="413.00" cy="171.75" r="1.60" fill="#f7da00" stroke="#000" stroke-width="0.5"/>
<circle cx="419.25" cy="170.75" r="1.60" fill="#f7da00" stroke="#000" stroke-width="0.5"/>
<circle cx="405.75" cy="173.00" r="1.60" fill="#f7da00" stroke="#000" stroke-width="0.5"/>
<circle cx="405.75" cy="180.75" r="1.60" fill="#f7da00" stroke="#000" stroke-width="0.5"/>
<circle cx="405.75" cy="181.75" r="1.60" fill="#f7da00" stroke="#000" stroke-width="0.5"/>
<circle cx="426.25" cy="180.75" r="1.60" fill="#f7da00" stroke="#000" stroke-width="0.5"/>
<circle cx="433.00" cy="176.50" r="1.60" fill="#f7da00" stroke="#000" stroke-width="0.5"/>
<circle cx="413.00" cy="184.25" r="1.60" fill="#f7da00" stroke="#000" stroke-width="0.5"/>
<circle cx="419.25" cy="200.75" r="1.60" fill="#f7da00" stroke="#000" stroke-width="0.5"/>
<circle cx="405.75" cy="207.00" r="1.60" fill="#f7da00" stroke="#000" stroke-width="0.5"/>
<circle cx="399.25" cy="215.50" r="1.60" fill="#f7da00" stroke="#000" stroke-width="0.5"/>
<circle cx="413.00" cy="218.75" r="1.60" fill="#f7da00" stroke="#000" stroke-width="0.5"/>
<circle cx="467.00" cy="163.25" r="1.60" fill="#f7da00" stroke="#000" stroke-width="0.5"/>
<text x="453.00" y="213.99" font-size="5.40" textLength="39.50" lengthAdjust="spacingAndGlyphs" stroke="#1e1e1e" stroke-width="0.08">R = 0.38, <tspan font-style="italic">P</tspan> = 0.1</text>
<text x="8.00" y="341.92" font-size="11.20" textLength="6.60" lengthAdjust="spacingAndGlyphs" font-weight="bold" fill="#000">E</text>
<circle cx="57.20" cy="364.90" r="4.50" fill="#fffdf6" stroke="#cfb991" stroke-width="2.20"/>
<circle cx="57.20" cy="364.90" r="5.40" fill="none" stroke="#9c8b6c" stroke-width="0.55"/>
<path d="M57.20,359.50 L57.20,357.90 M57.20,357.90 L55.70,355.90 M57.20,357.90 L58.70,355.90" stroke="#4a4a4a" stroke-width="0.90" fill="none"/>
<circle cx="57.2" cy="364.9" r="3.5" fill="none" stroke="#eadcc0" stroke-width="0.5"/>
<circle cx="93.70" cy="348.70" r="4.20" fill="#fcfdff" stroke="#7592cc" stroke-width="1.80"/>
<circle cx="93.70" cy="348.70" r="4.90" fill="none" stroke="#45609a" stroke-width="0.55"/>
<path d="M93.70,343.80 L93.70,342.20 M93.70,342.20 L92.20,340.20 M93.70,342.20 L95.20,340.20" stroke="#4a4a4a" stroke-width="0.90" fill="none"/>
<circle cx="93.70" cy="380.40" r="4.20" fill="#fffef5" stroke="#dcbc45" stroke-width="1.80"/>
<circle cx="93.70" cy="380.40" r="4.90" fill="none" stroke="#9a8420" stroke-width="0.55"/>
<path d="M93.70,375.50 L93.70,373.90 M93.70,373.90 L92.20,371.90 M93.70,373.90 L95.20,371.90" stroke="#4a4a4a" stroke-width="0.90" fill="none"/>
<text x="69.80" y="352.35" font-size="6.70" textLength="16.70" lengthAdjust="spacingAndGlyphs" stroke="#1e1e1e" stroke-width="0.08">cMCL</text>
<text x="49.40" y="377.15" font-size="6.70" textLength="15.80" lengthAdjust="spacingAndGlyphs" stroke="#1e1e1e" stroke-width="0.08">B cell</text>
<text x="66.30" y="384.05" font-size="6.70" textLength="20.20" lengthAdjust="spacingAndGlyphs" stroke="#1e1e1e" stroke-width="0.08">nnMCL</text>
<line x1="64.60" y1="362.70" x2="71.20" y2="355.00" stroke="#333" stroke-width="0.6"/>
<polygon points="72.4,353.6 69.6,355.0 71.4,356.6" fill="#333"/>
<line x1="64.60" y1="369.00" x2="71.20" y2="376.60" stroke="#333" stroke-width="0.6"/>
<polygon points="72.4,378.0 69.6,376.6 71.4,375.0" fill="#333"/>
<polygon points="117.21,344.28 118.59,344.28 117.64,346.49 118.59,346.49 116.15,349.81 116.84,347.25 115.83,347.25" fill="#e0312c"/>
<circle cx="123.50" cy="347.30" r="2.85" fill="#fcfdff" stroke="#7f9bd2" stroke-width="1.10"/>
<circle cx="123.50" cy="347.30" r="3.20" fill="none" stroke="#6680b8" stroke-width="0.55"/>
<path d="M123.50,344.10 L123.50,342.98 M123.50,342.98 L122.45,341.58 M123.50,342.98 L124.55,341.58" stroke="#4a4a4a" stroke-width="0.63" fill="none"/>
<polygon points="117.21,380.68 118.59,380.68 117.64,382.89 118.59,382.89 116.15,386.20 116.84,383.65 115.83,383.65" fill="#e0312c"/>
<circle cx="123.50" cy="383.60" r="2.85" fill="#fffef5" stroke="#e0c455" stroke-width="1.10"/>
<circle cx="123.50" cy="383.60" r="3.20" fill="none" stroke="#b09a40" stroke-width="0.55"/>
<path d="M123.50,380.40 L123.50,379.28 M123.50,379.28 L122.45,377.88 M123.50,379.28 L124.55,377.88" stroke="#4a4a4a" stroke-width="0.63" fill="none"/>
<line x1="124.30" y1="365.80" x2="141.00" y2="365.80" stroke="#6a6a6a" stroke-width="0.6"/>
<line x1="183.00" y1="365.80" x2="199.00" y2="365.80" stroke="#6a6a6a" stroke-width="0.6"/>
<polygon points="201.6,365.8 198.4,364.2 198.4,367.4" fill="#111"/>
<text x="162.40" y="357.58" font-size="6.80" text-anchor="middle" textLength="41.50" lengthAdjust="spacingAndGlyphs" fill="#1a1a1a" stroke="#1a1a1a" stroke-width="0.08">Which genetic</text>
<text x="162.40" y="365.28" font-size="6.80" text-anchor="middle" textLength="39.80" lengthAdjust="spacingAndGlyphs" fill="#1a1a1a" stroke="#1a1a1a" stroke-width="0.08">alterations are</text>
<text x="162.50" y="372.88" font-size="6.80" text-anchor="middle" textLength="64.30" lengthAdjust="spacingAndGlyphs" fill="#1a1a1a" stroke="#1a1a1a" stroke-width="0.08">associated with higher</text>
<text x="159.80" y="380.58" font-size="6.80" text-anchor="middle" textLength="58.80" lengthAdjust="spacingAndGlyphs" fill="#1a1a1a" stroke="#1a1a1a" stroke-width="0.08">proliferative history?</text>
<circle cx="207.50" cy="344.90" r="2.85" fill="#eef3fb" stroke="#7f9bd2" stroke-width="1.30"/>
<circle cx="207.50" cy="344.90" r="3.30" fill="none" stroke="#4a5c88" stroke-width="0.55"/>
<path d="M207.50,341.60 L207.50,340.40 M207.50,340.40 L206.38,338.90 M207.50,340.40 L208.62,338.90" stroke="#4a4a4a" stroke-width="0.68" fill="none"/>
<circle cx="213.55" cy="344.90" r="2.85" fill="#eef3fb" stroke="#7f9bd2" stroke-width="1.30"/>
<circle cx="213.55" cy="344.90" r="3.30" fill="none" stroke="#4a5c88" stroke-width="0.55"/>
<path d="M213.55,341.60 L213.55,340.40 M213.55,340.40 L212.43,338.90 M213.55,340.40 L214.68,338.90" stroke="#4a4a4a" stroke-width="0.68" fill="none"/>
<circle cx="219.60" cy="344.90" r="2.85" fill="#eef3fb" stroke="#7f9bd2" stroke-width="1.30"/>
<circle cx="219.60" cy="344.90" r="3.30" fill="none" stroke="#4a5c88" stroke-width="0.55"/>
<path d="M219.60,341.60 L219.60,340.40 M219.60,340.40 L218.47,338.90 M219.60,340.40 L220.72,338.90" stroke="#4a4a4a" stroke-width="0.68" fill="none"/>
<circle cx="210.40" cy="350.00" r="2.85" fill="#eef3fb" stroke="#7f9bd2" stroke-width="1.30"/>
<circle cx="210.40" cy="350.00" r="3.30" fill="none" stroke="#4a5c88" stroke-width="0.55"/>
<circle cx="216.60" cy="350.00" r="2.85" fill="#eef3fb" stroke="#7f9bd2" stroke-width="1.30"/>
<circle cx="216.60" cy="350.00" r="3.30" fill="none" stroke="#4a5c88" stroke-width="0.55"/>
<circle cx="222.60" cy="350.00" r="2.85" fill="#eef3fb" stroke="#7f9bd2" stroke-width="1.30"/>
<circle cx="222.60" cy="350.00" r="3.30" fill="none" stroke="#4a5c88" stroke-width="0.55"/>
<polygon points="204.05,339.90 205.68,339.90 204.55,342.50 205.68,342.50 202.80,346.40 203.61,343.40 202.43,343.40" fill="#e0312c"/>
<polygon points="226.55,339.60 228.18,339.60 227.05,342.20 228.18,342.20 225.30,346.10 226.11,343.10 224.93,343.10" fill="#e0312c"/>
<polygon points="206.85,348.00 208.47,348.00 207.35,350.60 208.47,350.60 205.60,354.50 206.41,351.50 205.22,351.50" fill="#e0312c"/>
<polygon points="215.55,350.30 217.18,350.30 216.05,352.90 217.18,352.90 214.30,356.80 215.11,353.80 213.93,353.80" fill="#e0312c"/>
<polygon points="223.05,347.70 224.68,347.70 223.55,350.30 224.68,350.30 221.80,354.20 222.61,351.20 221.43,351.20" fill="#e0312c"/>
<circle cx="207.50" cy="382.80" r="2.85" fill="#fffbe6" stroke="#e0c455" stroke-width="1.30"/>
<circle cx="207.50" cy="382.80" r="3.30" fill="none" stroke="#8a7830" stroke-width="0.55"/>
<path d="M207.50,379.50 L207.50,378.30 M207.50,378.30 L206.38,376.80 M207.50,378.30 L208.62,376.80" stroke="#4a4a4a" stroke-width="0.68" fill="none"/>
<circle cx="213.55" cy="382.80" r="2.85" fill="#fffbe6" stroke="#e0c455" stroke-width="1.30"/>
<circle cx="213.55" cy="382.80" r="3.30" fill="none" stroke="#8a7830" stroke-width="0.55"/>
<path d="M213.55,379.50 L213.55,378.30 M213.55,378.30 L212.43,376.80 M213.55,378.30 L214.68,376.80" stroke="#4a4a4a" stroke-width="0.68" fill="none"/>
<circle cx="219.60" cy="382.80" r="2.85" fill="#fffbe6" stroke="#e0c455" stroke-width="1.30"/>
<circle cx="219.60" cy="382.80" r="3.30" fill="none" stroke="#8a7830" stroke-width="0.55"/>
<path d="M219.60,379.50 L219.60,378.30 M219.60,378.30 L218.47,376.80 M219.60,378.30 L220.72,376.80" stroke="#4a4a4a" stroke-width="0.68" fill="none"/>
<circle cx="210.40" cy="387.90" r="2.85" fill="#fffbe6" stroke="#e0c455" stroke-width="1.30"/>
<circle cx="210.40" cy="387.90" r="3.30" fill="none" stroke="#8a7830" stroke-width="0.55"/>
<circle cx="216.60" cy="387.90" r="2.85" fill="#fffbe6" stroke="#e0c455" stroke-width="1.30"/>
<circle cx="216.60" cy="387.90" r="3.30" fill="none" stroke="#8a7830" stroke-width="0.55"/>
<circle cx="222.60" cy="387.90" r="2.85" fill="#fffbe6" stroke="#e0c455" stroke-width="1.30"/>
<circle cx="222.60" cy="387.90" r="3.30" fill="none" stroke="#8a7830" stroke-width="0.55"/>
<polygon points="204.05,377.80 205.68,377.80 204.55,380.40 205.68,380.40 202.80,384.30 203.61,381.30 202.43,381.30" fill="#e0312c"/>
<polygon points="226.55,377.50 228.18,377.50 227.05,380.10 228.18,380.10 225.30,384.00 226.11,381.00 224.93,381.00" fill="#e0312c"/>
<polygon points="206.85,385.90 208.47,385.90 207.35,388.50 208.47,388.50 205.60,392.40 206.41,389.40 205.22,389.40" fill="#e0312c"/>
<polygon points="215.55,388.20 217.18,388.20 216.05,390.80 217.18,390.80 214.30,394.70 215.11,391.70 213.93,391.70" fill="#e0312c"/>
<polygon points="223.05,385.60 224.68,385.60 223.55,388.20 224.68,388.20 221.80,392.10 222.61,389.10 221.43,389.10" fill="#e0312c"/>
<text x="330.40" y="339.34" font-size="6.40" text-anchor="middle" textLength="16.80" lengthAdjust="spacingAndGlyphs" stroke="#1e1e1e" stroke-width="0.08">cMCL</text>
<text x="434.40" y="338.84" font-size="6.40" text-anchor="middle" textLength="21.20" lengthAdjust="spacingAndGlyphs" stroke="#1e1e1e" stroke-width="0.08">nnMCL</text>
<rect x="259.20" y="343.40" width="142.50" height="5.90" fill="#3f7bc6"/>
<rect x="406.00" y="343.40" width="57.00" height="5.90" fill="#f6cd17"/>
<rect x="259.20" y="349.30" width="142.50" height="6.60" fill="#35a8e0"/>
<rect x="336.15" y="349.30" width="3.15" height="6.60" fill="#fdf1a4"/>
<rect x="350.40" y="349.30" width="3.15" height="6.60" fill="#b9b9b9"/>
<rect x="353.25" y="349.30" width="3.15" height="6.60" fill="#b9b9b9"/>
<rect x="370.35" y="349.30" width="3.15" height="6.60" fill="#fdf1a4"/>
<rect x="390.30" y="349.30" width="3.15" height="6.60" fill="#fdf1a4"/>
<rect x="406.00" y="349.30" width="57.00" height="6.60" fill="#fdf1a4"/>
<rect x="406.00" y="349.30" width="2.85" height="6.60" fill="#35a8e0"/>
<rect x="420.25" y="349.30" width="2.85" height="6.60" fill="#b9b9b9"/>
<rect x="259.20" y="355.90" width="3.20" height="6.30" fill="#2a2a2a"/>
<rect x="262.05" y="355.90" width="3.20" height="6.30" fill="#6a6a6a"/>
<rect x="264.90" y="355.90" width="3.20" height="6.30" fill="#1c1c1c"/>
<rect x="267.75" y="355.90" width="3.20" height="6.30" fill="#111"/>
<rect x="270.60" y="355.90" width="3.20" height="6.30" fill="#262626"/>
<rect x="273.45" y="355.90" width="3.20" height="6.30" fill="#111"/>
<rect x="276.30" y="355.90" width="3.20" height="6.30" fill="#151515"/>
<rect x="279.15" y="355.90" width="3.20" height="6.30" fill="#111"/>
<rect x="282.00" y="355.90" width="3.20" height="6.30" fill="#222"/>
<rect x="284.85" y="355.90" width="3.20" height="6.30" fill="#333"/>
<rect x="287.70" y="355.90" width="3.20" height="6.30" fill="#222"/>
<rect x="290.55" y="355.90" width="3.20" height="6.30" fill="#111"/>
<rect x="293.40" y="355.90" width="3.20" height="6.30" fill="#141414"/>
<rect x="296.25" y="355.90" width="3.20" height="6.30" fill="#262626"/>
<rect x="299.10" y="355.90" width="3.20" height="6.30" fill="#111"/>
<rect x="301.95" y="355.90" width="3.20" height="6.30" fill="#555"/>
<rect x="304.80" y="355.90" width="3.20" height="6.30" fill="#333"/>
<rect x="307.65" y="355.90" width="3.20" height="6.30" fill="#111"/>
<rect x="310.50" y="355.90" width="3.20" height="6.30" fill="#151515"/>
<rect x="313.35" y="355.90" width="3.20" height="6.30" fill="#111"/>
<rect x="316.20" y="355.90" width="3.20" height="6.30" fill="#222"/>
<rect x="319.05" y="355.90" width="3.20" height="6.30" fill="#111"/>
<rect x="321.90" y="355.90" width="3.20" height="6.30" fill="#151515"/>
<rect x="324.75" y="355.90" width="3.20" height="6.30" fill="#111"/>
<rect x="327.60" y="355.90" width="3.20" height="6.30" fill="#222"/>
<rect x="330.45" y="355.90" width="3.20" height="6.30" fill="#777"/>
<rect x="333.30" y="355.90" width="3.20" height="6.30" fill="#222"/>
<rect x="336.15" y="355.90" width="3.20" height="6.30" fill="#aaa"/>
<rect x="339.00" y="355.90" width="3.20" height="6.30" fill="#111"/>
<rect x="341.85" y="355.90" width="3.20" height="6.30" fill="#111"/>
<rect x="344.70" y="355.90" width="3.20" height="6.30" fill="#555"/>
<rect x="347.55" y="355.90" width="3.20" height="6.30" fill="#666"/>
<rect x="350.40" y="355.90" width="3.20" height="6.30" fill="#999"/>
<rect x="353.25" y="355.90" width="3.20" height="6.30" fill="#111"/>
<rect x="356.10" y="355.90" width="3.20" height="6.30" fill="#444"/>
<rect x="358.95" y="355.90" width="3.20" height="6.30" fill="#444"/>
<rect x="361.80" y="355.90" width="3.20" height="6.30" fill="#111"/>
<rect x="364.65" y="355.90" width="3.20" height="6.30" fill="#333"/>
<rect x="367.50" y="355.90" width="3.20" height="6.30" fill="#555"/>
<rect x="370.35" y="355.90" width="3.20" height="6.30" fill="#222"/>
<rect x="373.20" y="355.90" width="3.20" height="6.30" fill="#111"/>
<rect x="376.05" y="355.90" width="3.20" height="6.30" fill="#111"/>
<rect x="378.90" y="355.90" width="3.20" height="6.30" fill="#151515"/>
<rect x="381.75" y="355.90" width="3.20" height="6.30" fill="#222"/>
<rect x="384.60" y="355.90" width="3.20" height="6.30" fill="#111"/>
<rect x="387.45" y="355.90" width="3.20" height="6.30" fill="#222"/>
<rect x="390.30" y="355.90" width="3.20" height="6.30" fill="#aaa"/>
<rect x="393.15" y="355.90" width="3.20" height="6.30" fill="#222"/>
<rect x="396.00" y="355.90" width="3.20" height="6.30" fill="#222"/>
<rect x="398.85" y="355.90" width="2.85" height="6.30" fill="#2a2a2a"/>
<rect x="406.00" y="355.90" width="3.20" height="6.30" fill="#111"/>
<rect x="408.85" y="355.90" width="3.20" height="6.30" fill="#dcdcdc"/>
<rect x="411.70" y="355.90" width="3.20" height="6.30" fill="#555"/>
<rect x="414.55" y="355.90" width="3.20" height="6.30" fill="#555"/>
<rect x="417.40" y="355.90" width="3.20" height="6.30" fill="#777"/>
<rect x="420.25" y="355.90" width="3.20" height="6.30" fill="#777"/>
<rect x="423.10" y="355.90" width="3.20" height="6.30" fill="#7a7a7a"/>
<rect x="425.95" y="355.90" width="3.20" height="6.30" fill="#cfcfcf"/>
<rect x="428.80" y="355.90" width="3.20" height="6.30" fill="#888"/>
<rect x="431.65" y="355.90" width="3.20" height="6.30" fill="#555"/>
<rect x="434.50" y="355.90" width="3.20" height="6.30" fill="#5a5a5a"/>
<rect x="437.35" y="355.90" width="3.20" height="6.30" fill="#d6d6d6"/>
<rect x="440.20" y="355.90" width="3.20" height="6.30" fill="#bbb"/>
<rect x="443.05" y="355.90" width="3.20" height="6.30" fill="#555"/>
<rect x="445.90" y="355.90" width="3.20" height="6.30" fill="#555"/>
<rect x="448.75" y="355.90" width="3.20" height="6.30" fill="#555"/>
<rect x="451.60" y="355.90" width="3.20" height="6.30" fill="#d0d0d0"/>
<rect x="454.45" y="355.90" width="3.20" height="6.30" fill="#151515"/>
<rect x="457.30" y="355.90" width="3.20" height="6.30" fill="#dedede"/>
<rect x="460.15" y="355.90" width="2.85" height="6.30" fill="#c8c8c8"/>
<rect x="259.20" y="362.20" width="142.50" height="6.50" fill="#c9c9c9"/>
<rect x="282.00" y="362.20" width="3.15" height="6.50" fill="#e0341f"/>
<rect x="287.70" y="362.20" width="3.15" height="6.50" fill="#e0341f"/>
<rect x="299.10" y="362.20" width="3.15" height="6.50" fill="#e0341f"/>
<rect x="327.60" y="362.20" width="3.15" height="6.50" fill="#e0341f"/>
<rect x="339.00" y="362.20" width="3.15" height="6.50" fill="#e0341f"/>
<rect x="344.70" y="362.20" width="3.15" height="6.50" fill="#e0341f"/>
<rect x="353.25" y="362.20" width="3.15" height="6.50" fill="#e0341f"/>
<rect x="373.20" y="362.20" width="3.15" height="6.50" fill="#e0341f"/>
<rect x="381.75" y="362.20" width="3.15" height="6.50" fill="#e0341f"/>
<rect x="384.60" y="362.20" width="3.15" height="6.50" fill="#e0341f"/>
<rect x="393.15" y="362.20" width="3.15" height="6.50" fill="#e0341f"/>
<rect x="310.50" y="362.20" width="3.15" height="6.50" fill="#4ea53e"/>
<rect x="341.85" y="362.20" width="3.15" height="6.50" fill="#4ea53e"/>
<rect x="350.40" y="362.20" width="3.15" height="6.50" fill="#4ea53e"/>
<rect x="390.30" y="362.20" width="3.15" height="6.50" fill="#4ea53e"/>
<rect x="396.00" y="362.20" width="3.15" height="6.50" fill="#4ea53e"/>
<rect x="406.00" y="362.20" width="57.00" height="6.50" fill="#c9c9c9"/>
<rect x="406.00" y="362.20" width="3.15" height="6.50" fill="#4ea53e"/>
<rect x="408.85" y="362.20" width="3.15" height="6.50" fill="#4ea53e"/>
<rect x="411.70" y="362.20" width="3.15" height="6.50" fill="#4ea53e"/>
<rect x="417.40" y="362.20" width="3.15" height="6.50" fill="#4ea53e"/>
<rect x="420.25" y="362.20" width="3.15" height="6.50" fill="#4ea53e"/>
<rect x="425.95" y="362.20" width="3.15" height="6.50" fill="#4ea53e"/>
<rect x="431.65" y="362.20" width="3.15" height="6.50" fill="#4ea53e"/>
<rect x="443.05" y="362.20" width="3.15" height="6.50" fill="#4ea53e"/>
<rect x="445.90" y="362.20" width="3.15" height="6.50" fill="#4ea53e"/>
<rect x="448.75" y="362.20" width="3.15" height="6.50" fill="#4ea53e"/>
<rect x="451.60" y="362.20" width="3.15" height="6.50" fill="#4ea53e"/>
<rect x="457.30" y="362.20" width="3.15" height="6.50" fill="#4ea53e"/>
<rect x="460.15" y="362.20" width="2.85" height="6.50" fill="#4ea53e"/>
<rect x="259.20" y="368.70" width="3.20" height="6.70" fill="#e8f6e4"/>
<rect x="262.05" y="368.70" width="3.20" height="6.70" fill="#e0f3dc"/>
<rect x="264.90" y="368.70" width="3.20" height="6.70" fill="#e4f4e0"/>
<rect x="267.75" y="368.70" width="3.20" height="6.70" fill="#eff9ed"/>
<rect x="270.60" y="368.70" width="3.20" height="6.70" fill="#b0dfab"/>
<rect x="273.45" y="368.70" width="3.20" height="6.70" fill="#a6daa2"/>
<rect x="276.30" y="368.70" width="3.20" height="6.70" fill="#e0f3dc"/>
<rect x="279.15" y="368.70" width="3.20" height="6.70" fill="#f1faef"/>
<rect x="282.00" y="368.70" width="3.20" height="6.70" fill="#cdebc6"/>
<rect x="284.85" y="368.70" width="3.20" height="6.70" fill="#edf8ea"/>
<rect x="287.70" y="368.70" width="3.20" height="6.70" fill="#9cd69a"/>
<rect x="290.55" y="368.70" width="3.20" height="6.70" fill="#eff9ed"/>
<rect x="293.40" y="368.70" width="3.20" height="6.70" fill="#b6e2b1"/>
<rect x="296.25" y="368.70" width="3.20" height="6.70" fill="#edf8ea"/>
<rect x="299.10" y="368.70" width="3.20" height="6.70" fill="#1f8240"/>
<rect x="301.95" y="368.70" width="3.20" height="6.70" fill="#1c7d3d"/>
<rect x="304.80" y="368.70" width="3.20" height="6.70" fill="#daf1d5"/>
<rect x="307.65" y="368.70" width="3.20" height="6.70" fill="#d4eecf"/>
<rect x="310.50" y="368.70" width="3.20" height="6.70" fill="#daf1d5"/>
<rect x="313.35" y="368.70" width="3.20" height="6.70" fill="#daf1d5"/>
<rect x="316.20" y="368.70" width="3.20" height="6.70" fill="#edf8ea"/>
<rect x="319.05" y="368.70" width="3.20" height="6.70" fill="#cdebc6"/>
<rect x="321.90" y="368.70" width="3.20" height="6.70" fill="#d1edcb"/>
<rect x="324.75" y="368.70" width="3.20" height="6.70" fill="#edf8ea"/>
<rect x="327.60" y="368.70" width="3.20" height="6.70" fill="#197739"/>
<rect x="330.45" y="368.70" width="3.20" height="6.70" fill="#daf1d5"/>
<rect x="333.30" y="368.70" width="3.20" height="6.70" fill="#075223"/>
<rect x="336.15" y="368.70" width="3.20" height="6.70" fill="#197739"/>
<rect x="339.00" y="368.70" width="3.20" height="6.70" fill="#1c7d3d"/>
<rect x="341.85" y="368.70" width="3.20" height="6.70" fill="#e0f3dc"/>
<rect x="344.70" y="368.70" width="3.20" height="6.70" fill="#edf8ea"/>
<rect x="347.55" y="368.70" width="3.20" height="6.70" fill="#c7e9c0"/>
<rect x="350.40" y="368.70" width="3.20" height="6.70" fill="#e4f4e0"/>
<rect x="353.25" y="368.70" width="3.20" height="6.70" fill="#4da95e"/>
<rect x="356.10" y="368.70" width="3.20" height="6.70" fill="#85cb85"/>
<rect x="358.95" y="368.70" width="3.20" height="6.70" fill="#a6daa2"/>
<rect x="361.80" y="368.70" width="3.20" height="6.70" fill="#156f34"/>
<rect x="364.65" y="368.70" width="3.20" height="6.70" fill="#f7fcf5"/>
<rect x="367.50" y="368.70" width="3.20" height="6.70" fill="#43a259"/>
<rect x="370.35" y="368.70" width="3.20" height="6.70" fill="#238b45"/>
<rect x="373.20" y="368.70" width="3.20" height="6.70" fill="#9cd69a"/>
<rect x="376.05" y="368.70" width="3.20" height="6.70" fill="#238b45"/>
<rect x="378.90" y="368.70" width="3.20" height="6.70" fill="#1f8240"/>
<rect x="381.75" y="368.70" width="3.20" height="6.70" fill="#3a9b53"/>
<rect x="384.60" y="368.70" width="3.20" height="6.70" fill="#b6e2b1"/>
<rect x="387.45" y="368.70" width="3.20" height="6.70" fill="#1f8240"/>
<rect x="390.30" y="368.70" width="3.20" height="6.70" fill="#f7fcf5"/>
<rect x="393.15" y="368.70" width="3.20" height="6.70" fill="#daf1d5"/>
<rect x="396.00" y="368.70" width="3.20" height="6.70" fill="#85cb85"/>
<rect x="398.85" y="368.70" width="2.85" height="6.70" fill="#f7fcf5"/>
<rect x="406.00" y="368.70" width="3.20" height="6.70" fill="#edf8ea"/>
<rect x="408.85" y="368.70" width="3.20" height="6.70" fill="#edf8ea"/>
<rect x="411.70" y="368.70" width="3.20" height="6.70" fill="#edf8ea"/>
<rect x="414.55" y="368.70" width="3.20" height="6.70" fill="#e4f4e0"/>
<rect x="417.40" y="368.70" width="3.20" height="6.70" fill="#d1edcb"/>
<rect x="420.25" y="368.70" width="3.20" height="6.70" fill="#edf8ea"/>
<rect x="423.10" y="368.70" width="3.20" height="6.70" fill="#1c7d3d"/>
<rect x="425.95" y="368.70" width="3.20" height="6.70" fill="#edf8ea"/>
<rect x="428.80" y="368.70" width="3.20" height="6.70" fill="#c7e9c0"/>
<rect x="431.65" y="368.70" width="3.20" height="6.70" fill="#edf8ea"/>
<rect x="434.50" y="368.70" width="3.20" height="6.70" fill="#edf8ea"/>
<rect x="437.35" y="368.70" width="3.20" height="6.70" fill="#edf8ea"/>
<rect x="440.20" y="368.70" width="3.20" height="6.70" fill="#edf8ea"/>
<rect x="443.05" y="368.70" width="3.20" height="6.70" fill="#edf8ea"/>
<rect x="445.90" y="368.70" width="3.20" height="6.70" fill="#edf8ea"/>
<rect x="448.75" y="368.70" width="3.20" height="6.70" fill="#1c7d3d"/>
<rect x="451.60" y="368.70" width="3.20" height="6.70" fill="#edf8ea"/>
<rect x="454.45" y="368.70" width="3.20" height="6.70" fill="#daf1d5"/>
<rect x="457.30" y="368.70" width="3.20" height="6.70" fill="#daf1d5"/>
<rect x="460.15" y="368.70" width="2.85" height="6.70" fill="#edf8ea"/>
<rect x="259.20" y="375.40" width="3.20" height="6.20" fill="#5160aa"/>
<rect x="262.05" y="375.40" width="3.20" height="6.20" fill="#3c94b8"/>
<rect x="264.90" y="375.40" width="3.20" height="6.20" fill="#479fb3"/>
<rect x="267.75" y="375.40" width="3.20" height="6.20" fill="#51abaf"/>
<rect x="270.60" y="375.40" width="3.20" height="6.20" fill="#5cb6aa"/>
<rect x="273.45" y="375.40" width="3.20" height="6.20" fill="#66c2a5"/>
<rect x="276.30" y="375.40" width="3.20" height="6.20" fill="#6cc4a5"/>
<rect x="279.15" y="375.40" width="3.20" height="6.20" fill="#72c6a5"/>
<rect x="282.00" y="375.40" width="3.20" height="6.20" fill="#77c9a5"/>
<rect x="284.85" y="375.40" width="3.20" height="6.20" fill="#7dcba5"/>
<rect x="287.70" y="375.40" width="3.20" height="6.20" fill="#83cda5"/>
<rect x="290.55" y="375.40" width="3.20" height="6.20" fill="#88d0a4"/>
<rect x="293.40" y="375.40" width="3.20" height="6.20" fill="#8fd2a4"/>
<rect x="296.25" y="375.40" width="3.20" height="6.20" fill="#95d4a4"/>
<rect x="299.10" y="375.40" width="3.20" height="6.20" fill="#9bd7a4"/>
<rect x="301.95" y="375.40" width="3.20" height="6.20" fill="#a1d9a4"/>
<rect x="304.80" y="375.40" width="3.20" height="6.20" fill="#a7dba4"/>
<rect x="307.65" y="375.40" width="3.20" height="6.20" fill="#acdea4"/>
<rect x="310.50" y="375.40" width="3.20" height="6.20" fill="#b2e0a3"/>
<rect x="313.35" y="375.40" width="3.20" height="6.20" fill="#b7e2a2"/>
<rect x="316.20" y="375.40" width="3.20" height="6.20" fill="#c0e6a0"/>
<rect x="319.05" y="375.40" width="3.20" height="6.20" fill="#c9e99e"/>
<rect x="321.90" y="375.40" width="3.20" height="6.20" fill="#d3ed9c"/>
<rect x="324.75" y="375.40" width="3.20" height="6.20" fill="#dcf19a"/>
<rect x="327.60" y="375.40" width="3.20" height="6.20" fill="#e5f598"/>
<rect x="330.45" y="375.40" width="3.20" height="6.20" fill="#eaf69e"/>
<rect x="333.30" y="375.40" width="3.20" height="6.20" fill="#eef8a4"/>
<rect x="336.15" y="375.40" width="3.20" height="6.20" fill="#f1faaa"/>
<rect x="339.00" y="375.40" width="3.20" height="6.20" fill="#f5fbaf"/>
<rect x="341.85" y="375.40" width="3.20" height="6.20" fill="#f9fcb5"/>
<rect x="344.70" y="375.40" width="3.20" height="6.20" fill="#fcfebb"/>
<rect x="347.55" y="375.40" width="3.20" height="6.20" fill="#fffdbc"/>
<rect x="350.40" y="375.40" width="3.20" height="6.20" fill="#fff9b5"/>
<rect x="353.25" y="375.40" width="3.20" height="6.20" fill="#fff4ad"/>
<rect x="356.10" y="375.40" width="3.20" height="6.20" fill="#fff0a6"/>
<rect x="358.95" y="375.40" width="3.20" height="6.20" fill="#feec9e"/>
<rect x="361.80" y="375.40" width="3.20" height="6.20" fill="#fee797"/>
<rect x="364.65" y="375.40" width="3.20" height="6.20" fill="#fee38f"/>
<rect x="367.50" y="375.40" width="3.20" height="6.20" fill="#fedd89"/>
<rect x="370.35" y="375.40" width="3.20" height="6.20" fill="#fed683"/>
<rect x="373.20" y="375.40" width="3.20" height="6.20" fill="#fecf7d"/>
<rect x="376.05" y="375.40" width="3.20" height="6.20" fill="#fec977"/>
<rect x="378.90" y="375.40" width="3.20" height="6.20" fill="#fdc272"/>
<rect x="381.75" y="375.40" width="3.20" height="6.20" fill="#fdbb6c"/>
<rect x="384.60" y="375.40" width="3.20" height="6.20" fill="#fdb567"/>
<rect x="387.45" y="375.40" width="3.20" height="6.20" fill="#fdae61"/>
<rect x="390.30" y="375.40" width="3.20" height="6.20" fill="#fa9a58"/>
<rect x="393.15" y="375.40" width="3.20" height="6.20" fill="#f8874f"/>
<rect x="396.00" y="375.40" width="3.20" height="6.20" fill="#ee6445"/>
<rect x="398.85" y="375.40" width="2.85" height="6.20" fill="#9e0142"/>
<rect x="406.00" y="375.40" width="3.20" height="6.20" fill="#3c94b8"/>
<rect x="408.85" y="375.40" width="3.20" height="6.20" fill="#5cb6aa"/>
<rect x="411.70" y="375.40" width="3.20" height="6.20" fill="#88d0a4"/>
<rect x="414.55" y="375.40" width="3.20" height="6.20" fill="#e6f598"/>
<rect x="417.40" y="375.40" width="3.20" height="6.20" fill="#ffffbf"/>
<rect x="420.25" y="375.40" width="3.20" height="6.20" fill="#fff9b5"/>
<rect x="423.10" y="375.40" width="3.20" height="6.20" fill="#fff6af"/>
<rect x="425.95" y="375.40" width="3.20" height="6.20" fill="#fef0a5"/>
<rect x="428.80" y="375.40" width="3.20" height="6.20" fill="#feeca0"/>
<rect x="431.65" y="375.40" width="3.20" height="6.20" fill="#fee695"/>
<rect x="434.50" y="375.40" width="3.20" height="6.20" fill="#fee08b"/>
<rect x="437.35" y="375.40" width="3.20" height="6.20" fill="#fedb87"/>
<rect x="440.20" y="375.40" width="3.20" height="6.20" fill="#fed683"/>
<rect x="443.05" y="375.40" width="3.20" height="6.20" fill="#fdc272"/>
<rect x="445.90" y="375.40" width="3.20" height="6.20" fill="#fdbd6e"/>
<rect x="448.75" y="375.40" width="3.20" height="6.20" fill="#fdb869"/>
<rect x="451.60" y="375.40" width="3.20" height="6.20" fill="#fdb365"/>
<rect x="454.45" y="375.40" width="3.20" height="6.20" fill="#fca85e"/>
<rect x="457.30" y="375.40" width="3.20" height="6.20" fill="#f46d43"/>
<rect x="460.15" y="375.40" width="2.85" height="6.20" fill="#9e0142"/>
<line x1="259.20" y1="349.30" x2="401.70" y2="349.30" stroke="#fff" stroke-width="0.45"/>
<line x1="406.00" y1="349.30" x2="463.00" y2="349.30" stroke="#fff" stroke-width="0.45"/>
<line x1="259.20" y1="355.90" x2="401.70" y2="355.90" stroke="#fff" stroke-width="0.45"/>
<line x1="406.00" y1="355.90" x2="463.00" y2="355.90" stroke="#fff" stroke-width="0.45"/>
<line x1="259.20" y1="362.20" x2="401.70" y2="362.20" stroke="#fff" stroke-width="0.45"/>
<line x1="406.00" y1="362.20" x2="463.00" y2="362.20" stroke="#fff" stroke-width="0.45"/>
<line x1="259.20" y1="368.70" x2="401.70" y2="368.70" stroke="#fff" stroke-width="0.45"/>
<line x1="406.00" y1="368.70" x2="463.00" y2="368.70" stroke="#fff" stroke-width="0.45"/>
<line x1="259.20" y1="375.40" x2="401.70" y2="375.40" stroke="#fff" stroke-width="0.45"/>
<line x1="406.00" y1="375.40" x2="463.00" y2="375.40" stroke="#fff" stroke-width="0.45"/>
<rect x="259.20" y="343.40" width="142.50" height="38.20" fill="none" stroke="#c4c4c4" stroke-width="0.6"/>
<rect x="406.00" y="343.40" width="57.00" height="38.20" fill="none" stroke="#c4c4c4" stroke-width="0.6"/>
<line x1="259.20" y1="382.20" x2="401.70" y2="382.20" stroke="#9a9a9a" stroke-width="1.0"/>
<line x1="406.00" y1="382.20" x2="463.00" y2="382.20" stroke="#9a9a9a" stroke-width="1.0"/>
<text x="465.80" y="347.69" font-size="5.40" textLength="23.40" lengthAdjust="spacingAndGlyphs" stroke="#1e1e1e" stroke-width="0.08">MCL type</text>
<text x="465.80" y="354.19" font-size="5.40" textLength="33.00" lengthAdjust="spacingAndGlyphs" stroke="#1e1e1e" stroke-width="0.08">Epigentic coo</text>
<text x="465.80" y="361.09" font-size="5.40" textLength="32.70" lengthAdjust="spacingAndGlyphs" stroke="#1e1e1e" stroke-width="0.08">IGHV identity</text>
<text x="465.80" y="367.89" font-size="5.40" textLength="30.00" lengthAdjust="spacingAndGlyphs" stroke="#1e1e1e" stroke-width="0.08">Morphology</text>
<text x="465.80" y="374.49" font-size="5.40" textLength="39.60" lengthAdjust="spacingAndGlyphs" stroke="#1e1e1e" stroke-width="0.08">Number of CNA</text>
<text x="465.80" y="381.39" font-size="5.40" textLength="20.40" lengthAdjust="spacingAndGlyphs" stroke="#1e1e1e" stroke-width="0.08">epiCMIT</text>
<rect x="259.20" y="382.90" width="142.50" height="27.30" fill="#fff" stroke="#222" stroke-width="1.1"/>
<line x1="260.00" y1="401.10" x2="400.90" y2="401.10" stroke="#bdbdbd" stroke-width="0.5" stroke-dasharray="1.8,1.8"/>
<line x1="260.00" y1="392.00" x2="400.90" y2="392.00" stroke="#bdbdbd" stroke-width="0.5" stroke-dasharray="1.8,1.8"/>
<rect x="259.75" y="406.56" width="1.75" height="3.64" fill="#7f7f7f"/>
<rect x="262.60" y="401.10" width="1.75" height="9.10" fill="#7f7f7f"/>
<rect x="265.45" y="402.92" width="1.75" height="7.28" fill="#7f7f7f"/>
<rect x="268.30" y="402.92" width="1.75" height="7.28" fill="#7f7f7f"/>
<rect x="271.15" y="402.92" width="1.75" height="7.28" fill="#7f7f7f"/>
<rect x="274.00" y="402.92" width="1.75" height="7.28" fill="#7f7f7f"/>
<rect x="276.85" y="402.92" width="1.75" height="7.28" fill="#7f7f7f"/>
<rect x="279.70" y="401.10" width="1.75" height="9.10" fill="#7f7f7f"/>
<rect x="282.55" y="397.46" width="1.75" height="12.74" fill="#7f7f7f"/>
<rect x="285.40" y="402.92" width="1.75" height="7.28" fill="#7f7f7f"/>
<rect x="288.25" y="399.28" width="1.75" height="10.92" fill="#7f7f7f"/>
<rect x="291.10" y="395.64" width="1.75" height="14.56" fill="#7f7f7f"/>
<rect x="293.95" y="397.46" width="1.75" height="12.74" fill="#7f7f7f"/>
<rect x="296.80" y="399.28" width="1.75" height="10.92" fill="#7f7f7f"/>
<rect x="299.65" y="392.00" width="1.75" height="18.20" fill="#7f7f7f"/>
<rect x="302.50" y="399.28" width="1.75" height="10.92" fill="#7f7f7f"/>
<rect x="305.35" y="402.92" width="1.75" height="7.28" fill="#7f7f7f"/>
<rect x="308.20" y="397.46" width="1.75" height="12.74" fill="#7f7f7f"/>
<rect x="311.05" y="393.82" width="1.75" height="16.38" fill="#7f7f7f"/>
<rect x="313.90" y="401.10" width="1.75" height="9.10" fill="#7f7f7f"/>
<rect x="316.75" y="402.92" width="1.75" height="7.28" fill="#7f7f7f"/>
<rect x="319.60" y="393.82" width="1.75" height="16.38" fill="#7f7f7f"/>
<rect x="322.45" y="399.28" width="1.75" height="10.92" fill="#7f7f7f"/>
<rect x="325.30" y="397.46" width="1.75" height="12.74" fill="#7f7f7f"/>
<rect x="328.15" y="384.72" width="1.75" height="25.48" fill="#7f7f7f"/>
<rect x="331.00" y="399.28" width="1.75" height="10.92" fill="#7f7f7f"/>
<rect x="333.85" y="392.00" width="1.75" height="18.20" fill="#7f7f7f"/>
<rect x="336.70" y="399.28" width="1.75" height="10.92" fill="#7f7f7f"/>
<rect x="339.55" y="393.82" width="1.75" height="16.38" fill="#7f7f7f"/>
<rect x="342.40" y="402.92" width="1.75" height="7.28" fill="#7f7f7f"/>
<rect x="345.25" y="399.28" width="1.75" height="10.92" fill="#7f7f7f"/>
<rect x="348.10" y="386.54" width="1.75" height="23.66" fill="#7f7f7f"/>
<rect x="350.95" y="404.74" width="1.75" height="5.46" fill="#7f7f7f"/>
<rect x="353.80" y="393.82" width="1.75" height="16.38" fill="#7f7f7f"/>
<rect x="356.65" y="390.18" width="1.75" height="20.02" fill="#7f7f7f"/>
<rect x="359.50" y="402.92" width="1.75" height="7.28" fill="#7f7f7f"/>
<rect x="362.35" y="388.36" width="1.75" height="21.84" fill="#7f7f7f"/>
<rect x="365.20" y="395.64" width="1.75" height="14.56" fill="#7f7f7f"/>
<rect x="368.05" y="392.00" width="1.75" height="18.20" fill="#7f7f7f"/>
<rect x="370.90" y="395.64" width="1.75" height="14.56" fill="#7f7f7f"/>
<rect x="373.75" y="390.18" width="1.75" height="20.02" fill="#7f7f7f"/>
<rect x="376.60" y="397.46" width="1.75" height="12.74" fill="#7f7f7f"/>
<rect x="379.45" y="393.82" width="1.75" height="16.38" fill="#7f7f7f"/>
<rect x="382.30" y="397.46" width="1.75" height="12.74" fill="#7f7f7f"/>
<rect x="385.15" y="397.46" width="1.75" height="12.74" fill="#7f7f7f"/>
<rect x="388.00" y="390.18" width="1.75" height="20.02" fill="#7f7f7f"/>
<rect x="390.85" y="402.92" width="1.75" height="7.28" fill="#7f7f7f"/>
<rect x="393.70" y="392.00" width="1.75" height="18.20" fill="#7f7f7f"/>
<rect x="396.55" y="384.72" width="1.75" height="25.48" fill="#7f7f7f"/>
<rect x="399.40" y="399.28" width="1.75" height="10.92" fill="#7f7f7f"/>
<rect x="406.00" y="382.90" width="57.00" height="27.30" fill="#fff" stroke="#222" stroke-width="1.1"/>
<line x1="406.80" y1="401.10" x2="462.20" y2="401.10" stroke="#bdbdbd" stroke-width="0.5" stroke-dasharray="1.8,1.8"/>
<line x1="406.80" y1="392.00" x2="462.20" y2="392.00" stroke="#bdbdbd" stroke-width="0.5" stroke-dasharray="1.8,1.8"/>
<rect x="406.55" y="406.56" width="1.75" height="3.64" fill="#7f7f7f"/>
<rect x="412.25" y="409.47" width="1.75" height="0.73" fill="#7f7f7f"/>
<rect x="415.10" y="404.74" width="1.75" height="5.46" fill="#7f7f7f"/>
<rect x="417.95" y="406.56" width="1.75" height="3.64" fill="#7f7f7f"/>
<rect x="420.80" y="409.47" width="1.75" height="0.73" fill="#7f7f7f"/>
<rect x="423.65" y="402.92" width="1.75" height="7.28" fill="#7f7f7f"/>
<rect x="426.50" y="409.47" width="1.75" height="0.73" fill="#7f7f7f"/>
<rect x="429.35" y="401.10" width="1.75" height="9.10" fill="#7f7f7f"/>
<rect x="432.20" y="409.47" width="1.75" height="0.73" fill="#7f7f7f"/>
<rect x="435.05" y="406.56" width="1.75" height="3.64" fill="#7f7f7f"/>
<rect x="437.90" y="404.74" width="1.75" height="5.46" fill="#7f7f7f"/>
<rect x="440.75" y="406.56" width="1.75" height="3.64" fill="#7f7f7f"/>
<rect x="443.60" y="406.56" width="1.75" height="3.64" fill="#7f7f7f"/>
<rect x="446.45" y="406.56" width="1.75" height="3.64" fill="#7f7f7f"/>
<rect x="449.30" y="392.00" width="1.75" height="18.20" fill="#7f7f7f"/>
<rect x="452.15" y="404.74" width="1.75" height="5.46" fill="#7f7f7f"/>
<rect x="455.00" y="402.92" width="1.75" height="7.28" fill="#7f7f7f"/>
<rect x="457.85" y="404.74" width="1.75" height="5.46" fill="#7f7f7f"/>
<rect x="460.70" y="404.74" width="1.75" height="5.46" fill="#7f7f7f"/>
<line x1="256.60" y1="392.00" x2="259.20" y2="392.00" stroke="#222" stroke-width="0.8"/>
<text x="253.80" y="394.10" font-size="6.00" text-anchor="end" textLength="6.80" lengthAdjust="spacingAndGlyphs" stroke="#1e1e1e" stroke-width="0.08">10</text>
<line x1="256.60" y1="401.10" x2="259.20" y2="401.10" stroke="#222" stroke-width="0.8"/>
<text x="253.80" y="403.20" font-size="6.00" text-anchor="end" textLength="3.40" lengthAdjust="spacingAndGlyphs" stroke="#1e1e1e" stroke-width="0.08">5</text>
<line x1="256.60" y1="410.20" x2="259.20" y2="410.20" stroke="#222" stroke-width="0.8"/>
<text x="253.80" y="412.30" font-size="6.00" text-anchor="end" textLength="3.40" lengthAdjust="spacingAndGlyphs" stroke="#1e1e1e" stroke-width="0.08">0</text>
<text x="466.30" y="390.99" font-size="5.40" textLength="11.40" lengthAdjust="spacingAndGlyphs" stroke="#1e1e1e" stroke-width="0.08">Total</text>
<text x="466.30" y="397.39" font-size="5.40" textLength="18.60" lengthAdjust="spacingAndGlyphs" stroke="#1e1e1e" stroke-width="0.08">number</text>
<text x="466.30" y="403.89" font-size="5.40" textLength="22.20" lengthAdjust="spacingAndGlyphs" stroke="#1e1e1e" stroke-width="0.08">of drivers</text>
<text x="466.30" y="413.59" font-size="5.40" textLength="35.00" lengthAdjust="spacingAndGlyphs" stroke="#1e1e1e" stroke-width="0.08">Mutated cases</text>
<rect x="259.20" y="413.80" width="142.50" height="10.80" fill="#f0f0f0" stroke="#b8b8b8" stroke-width="1.0"/>
<line x1="262.05" y1="414.30" x2="262.05" y2="424.10" stroke="#fbfbfb" stroke-width="0.5"/>
<line x1="264.90" y1="414.30" x2="264.90" y2="424.10" stroke="#fbfbfb" stroke-width="0.5"/>
<line x1="267.75" y1="414.30" x2="267.75" y2="424.10" stroke="#fbfbfb" stroke-width="0.5"/>
<line x1="270.60" y1="414.30" x2="270.60" y2="424.10" stroke="#fbfbfb" stroke-width="0.5"/>
<line x1="273.45" y1="414.30" x2="273.45" y2="424.10" stroke="#fbfbfb" stroke-width="0.5"/>
<line x1="276.30" y1="414.30" x2="276.30" y2="424.10" stroke="#fbfbfb" stroke-width="0.5"/>
<line x1="279.15" y1="414.30" x2="279.15" y2="424.10" stroke="#fbfbfb" stroke-width="0.5"/>
<line x1="282.00" y1="414.30" x2="282.00" y2="424.10" stroke="#fbfbfb" stroke-width="0.5"/>
<line x1="284.85" y1="414.30" x2="284.85" y2="424.10" stroke="#fbfbfb" stroke-width="0.5"/>
<line x1="287.70" y1="414.30" x2="287.70" y2="424.10" stroke="#fbfbfb" stroke-width="0.5"/>
<line x1="290.55" y1="414.30" x2="290.55" y2="424.10" stroke="#fbfbfb" stroke-width="0.5"/>
<line x1="293.40" y1="414.30" x2="293.40" y2="424.10" stroke="#fbfbfb" stroke-width="0.5"/>
<line x1="296.25" y1="414.30" x2="296.25" y2="424.10" stroke="#fbfbfb" stroke-width="0.5"/>
<line x1="299.10" y1="414.30" x2="299.10" y2="424.10" stroke="#fbfbfb" stroke-width="0.5"/>
<line x1="301.95" y1="414.30" x2="301.95" y2="424.10" stroke="#fbfbfb" stroke-width="0.5"/>
<line x1="304.80" y1="414.30" x2="304.80" y2="424.10" stroke="#fbfbfb" stroke-width="0.5"/>
<line x1="307.65" y1="414.30" x2="307.65" y2="424.10" stroke="#fbfbfb" stroke-width="0.5"/>
<line x1="310.50" y1="414.30" x2="310.50" y2="424.10" stroke="#fbfbfb" stroke-width="0.5"/>
<line x1="313.35" y1="414.30" x2="313.35" y2="424.10" stroke="#fbfbfb" stroke-width="0.5"/>
<line x1="316.20" y1="414.30" x2="316.20" y2="424.10" stroke="#fbfbfb" stroke-width="0.5"/>
<line x1="319.05" y1="414.30" x2="319.05" y2="424.10" stroke="#fbfbfb" stroke-width="0.5"/>
<line x1="321.90" y1="414.30" x2="321.90" y2="424.10" stroke="#fbfbfb" stroke-width="0.5"/>
<line x1="324.75" y1="414.30" x2="324.75" y2="424.10" stroke="#fbfbfb" stroke-width="0.5"/>
<line x1="327.60" y1="414.30" x2="327.60" y2="424.10" stroke="#fbfbfb" stroke-width="0.5"/>
<line x1="330.45" y1="414.30" x2="330.45" y2="424.10" stroke="#fbfbfb" stroke-width="0.5"/>
<line x1="333.30" y1="414.30" x2="333.30" y2="424.10" stroke="#fbfbfb" stroke-width="0.5"/>
<line x1="336.15" y1="414.30" x2="336.15" y2="424.10" stroke="#fbfbfb" stroke-width="0.5"/>
<line x1="339.00" y1="414.30" x2="339.00" y2="424.10" stroke="#fbfbfb" stroke-width="0.5"/>
<line x1="341.85" y1="414.30" x2="341.85" y2="424.10" stroke="#fbfbfb" stroke-width="0.5"/>
<line x1="344.70" y1="414.30" x2="344.70" y2="424.10" stroke="#fbfbfb" stroke-width="0.5"/>
<line x1="347.55" y1="414.30" x2="347.55" y2="424.10" stroke="#fbfbfb" stroke-width="0.5"/>
<line x1="350.40" y1="414.30" x2="350.40" y2="424.10" stroke="#fbfbfb" stroke-width="0.5"/>
<line x1="353.25" y1="414.30" x2="353.25" y2="424.10" stroke="#fbfbfb" stroke-width="0.5"/>
<line x1="356.10" y1="414.30" x2="356.10" y2="424.10" stroke="#fbfbfb" stroke-width="0.5"/>
<line x1="358.95" y1="414.30" x2="358.95" y2="424.10" stroke="#fbfbfb" stroke-width="0.5"/>
<line x1="361.80" y1="414.30" x2="361.80" y2="424.10" stroke="#fbfbfb" stroke-width="0.5"/>
<line x1="364.65" y1="414.30" x2="364.65" y2="424.10" stroke="#fbfbfb" stroke-width="0.5"/>
<line x1="367.50" y1="414.30" x2="367.50" y2="424.10" stroke="#fbfbfb" stroke-width="0.5"/>
<line x1="370.35" y1="414.30" x2="370.35" y2="424.10" stroke="#fbfbfb" stroke-width="0.5"/>
<line x1="373.20" y1="414.30" x2="373.20" y2="424.10" stroke="#fbfbfb" stroke-width="0.5"/>
<line x1="376.05" y1="414.30" x2="376.05" y2="424.10" stroke="#fbfbfb" stroke-width="0.5"/>
<line x1="378.90" y1="414.30" x2="378.90" y2="424.10" stroke="#fbfbfb" stroke-width="0.5"/>
<line x1="381.75" y1="414.30" x2="381.75" y2="424.10" stroke="#fbfbfb" stroke-width="0.5"/>
<line x1="384.60" y1="414.30" x2="384.60" y2="424.10" stroke="#fbfbfb" stroke-width="0.5"/>
<line x1="387.45" y1="414.30" x2="387.45" y2="424.10" stroke="#fbfbfb" stroke-width="0.5"/>
<line x1="390.30" y1="414.30" x2="390.30" y2="424.10" stroke="#fbfbfb" stroke-width="0.5"/>
<line x1="393.15" y1="414.30" x2="393.15" y2="424.10" stroke="#fbfbfb" stroke-width="0.5"/>
<line x1="396.00" y1="414.30" x2="396.00" y2="424.10" stroke="#fbfbfb" stroke-width="0.5"/>
<line x1="398.85" y1="414.30" x2="398.85" y2="424.10" stroke="#fbfbfb" stroke-width="0.5"/>
<rect x="299.35" y="414.25" width="2.35" height="4.95" fill="#d9434f"/>
<rect x="299.35" y="419.20" width="2.35" height="4.95" fill="#7f7f7f"/>
<rect x="307.90" y="414.25" width="2.35" height="9.90" fill="#d9434f"/>
<rect x="316.45" y="414.25" width="2.35" height="9.90" fill="#7f7f7f"/>
<rect x="327.85" y="414.25" width="2.35" height="9.90" fill="#d9434f"/>
<rect x="330.70" y="414.25" width="2.35" height="4.95" fill="#d9434f"/>
<rect x="330.70" y="419.20" width="2.35" height="4.95" fill="#7f7f7f"/>
<rect x="333.55" y="414.25" width="2.35" height="4.95" fill="#d9434f"/>
<rect x="333.55" y="419.20" width="2.35" height="4.95" fill="#7f7f7f"/>
<rect x="336.40" y="414.25" width="2.35" height="4.95" fill="#d9434f"/>
<rect x="336.40" y="419.20" width="2.35" height="4.95" fill="#7f7f7f"/>
<rect x="350.65" y="414.25" width="2.35" height="9.90" fill="#d9434f"/>
<rect x="362.05" y="414.25" width="2.35" height="9.90" fill="#7f7f7f"/>
<rect x="370.60" y="414.25" width="2.35" height="9.90" fill="#7f7f7f"/>
<rect x="373.45" y="414.25" width="2.35" height="9.90" fill="#7f7f7f"/>
<rect x="382.00" y="414.25" width="2.35" height="4.95" fill="#d9434f"/>
<rect x="382.00" y="419.20" width="2.35" height="4.95" fill="#7f7f7f"/>
<rect x="396.25" y="414.25" width="2.35" height="9.90" fill="#d9434f"/>
<rect x="259.20" y="427.50" width="142.50" height="42.10" fill="#f0f0f0" stroke="#b8b8b8" stroke-width="1.0"/>
<line x1="262.05" y1="428.00" x2="262.05" y2="469.10" stroke="#fbfbfb" stroke-width="0.5"/>
<line x1="264.90" y1="428.00" x2="264.90" y2="469.10" stroke="#fbfbfb" stroke-width="0.5"/>
<line x1="267.75" y1="428.00" x2="267.75" y2="469.10" stroke="#fbfbfb" stroke-width="0.5"/>
<line x1="270.60" y1="428.00" x2="270.60" y2="469.10" stroke="#fbfbfb" stroke-width="0.5"/>
<line x1="273.45" y1="428.00" x2="273.45" y2="469.10" stroke="#fbfbfb" stroke-width="0.5"/>
<line x1="276.30" y1="428.00" x2="276.30" y2="469.10" stroke="#fbfbfb" stroke-width="0.5"/>
<line x1="279.15" y1="428.00" x2="279.15" y2="469.10" stroke="#fbfbfb" stroke-width="0.5"/>
<line x1="282.00" y1="428.00" x2="282.00" y2="469.10" stroke="#fbfbfb" stroke-width="0.5"/>
<line x1="284.85" y1="428.00" x2="284.85" y2="469.10" stroke="#fbfbfb" stroke-width="0.5"/>
<line x1="287.70" y1="428.00" x2="287.70" y2="469.10" stroke="#fbfbfb" stroke-width="0.5"/>
<line x1="290.55" y1="428.00" x2="290.55" y2="469.10" stroke="#fbfbfb" stroke-width="0.5"/>
<line x1="293.40" y1="428.00" x2="293.40" y2="469.10" stroke="#fbfbfb" stroke-width="0.5"/>
<line x1="296.25" y1="428.00" x2="296.25" y2="469.10" stroke="#fbfbfb" stroke-width="0.5"/>
<line x1="299.10" y1="428.00" x2="299.10" y2="469.10" stroke="#fbfbfb" stroke-width="0.5"/>
<line x1="301.95" y1="428.00" x2="301.95" y2="469.10" stroke="#fbfbfb" stroke-width="0.5"/>
<line x1="304.80" y1="428.00" x2="304.80" y2="469.10" stroke="#fbfbfb" stroke-width="0.5"/>
<line x1="307.65" y1="428.00" x2="307.65" y2="469.10" stroke="#fbfbfb" stroke-width="0.5"/>
<line x1="310.50" y1="428.00" x2="310.50" y2="469.10" stroke="#fbfbfb" stroke-width="0.5"/>
<line x1="313.35" y1="428.00" x2="313.35" y2="469.10" stroke="#fbfbfb" stroke-width="0.5"/>
<line x1="316.20" y1="428.00" x2="316.20" y2="469.10" stroke="#fbfbfb" stroke-width="0.5"/>
<line x1="319.05" y1="428.00" x2="319.05" y2="469.10" stroke="#fbfbfb" stroke-width="0.5"/>
<line x1="321.90" y1="428.00" x2="321.90" y2="469.10" stroke="#fbfbfb" stroke-width="0.5"/>
<line x1="324.75" y1="428.00" x2="324.75" y2="469.10" stroke="#fbfbfb" stroke-width="0.5"/>
<line x1="327.60" y1="428.00" x2="327.60" y2="469.10" stroke="#fbfbfb" stroke-width="0.5"/>
<line x1="330.45" y1="428.00" x2="330.45" y2="469.10" stroke="#fbfbfb" stroke-width="0.5"/>
<line x1="333.30" y1="428.00" x2="333.30" y2="469.10" stroke="#fbfbfb" stroke-width="0.5"/>
<line x1="336.15" y1="428.00" x2="336.15" y2="469.10" stroke="#fbfbfb" stroke-width="0.5"/>
<line x1="339.00" y1="428.00" x2="339.00" y2="469.10" stroke="#fbfbfb" stroke-width="0.5"/>
<line x1="341.85" y1="428.00" x2="341.85" y2="469.10" stroke="#fbfbfb" stroke-width="0.5"/>
<line x1="344.70" y1="428.00" x2="344.70" y2="469.10" stroke="#fbfbfb" stroke-width="0.5"/>
<line x1="347.55" y1="428.00" x2="347.55" y2="469.10" stroke="#fbfbfb" stroke-width="0.5"/>
<line x1="350.40" y1="428.00" x2="350.40" y2="469.10" stroke="#fbfbfb" stroke-width="0.5"/>
<line x1="353.25" y1="428.00" x2="353.25" y2="469.10" stroke="#fbfbfb" stroke-width="0.5"/>
<line x1="356.10" y1="428.00" x2="356.10" y2="469.10" stroke="#fbfbfb" stroke-width="0.5"/>
<line x1="358.95" y1="428.00" x2="358.95" y2="469.10" stroke="#fbfbfb" stroke-width="0.5"/>
<line x1="361.80" y1="428.00" x2="361.80" y2="469.10" stroke="#fbfbfb" stroke-width="0.5"/>
<line x1="364.65" y1="428.00" x2="364.65" y2="469.10" stroke="#fbfbfb" stroke-width="0.5"/>
<line x1="367.50" y1="428.00" x2="367.50" y2="469.10" stroke="#fbfbfb" stroke-width="0.5"/>
<line x1="370.35" y1="428.00" x2="370.35" y2="469.10" stroke="#fbfbfb" stroke-width="0.5"/>
<line x1="373.20" y1="428.00" x2="373.20" y2="469.10" stroke="#fbfbfb" stroke-width="0.5"/>
<line x1="376.05" y1="428.00" x2="376.05" y2="469.10" stroke="#fbfbfb" stroke-width="0.5"/>
<line x1="378.90" y1="428.00" x2="378.90" y2="469.10" stroke="#fbfbfb" stroke-width="0.5"/>
<line x1="381.75" y1="428.00" x2="381.75" y2="469.10" stroke="#fbfbfb" stroke-width="0.5"/>
<line x1="384.60" y1="428.00" x2="384.60" y2="469.10" stroke="#fbfbfb" stroke-width="0.5"/>
<line x1="387.45" y1="428.00" x2="387.45" y2="469.10" stroke="#fbfbfb" stroke-width="0.5"/>
<line x1="390.30" y1="428.00" x2="390.30" y2="469.10" stroke="#fbfbfb" stroke-width="0.5"/>
<line x1="393.15" y1="428.00" x2="393.15" y2="469.10" stroke="#fbfbfb" stroke-width="0.5"/>
<line x1="396.00" y1="428.00" x2="396.00" y2="469.10" stroke="#fbfbfb" stroke-width="0.5"/>
<line x1="398.85" y1="428.00" x2="398.85" y2="469.10" stroke="#fbfbfb" stroke-width="0.5"/>
<line x1="259.70" y1="438.02" x2="401.20" y2="438.02" stroke="#fafafa" stroke-width="0.45"/>
<line x1="259.70" y1="448.55" x2="401.20" y2="448.55" stroke="#fafafa" stroke-width="0.45"/>
<line x1="259.70" y1="459.08" x2="401.20" y2="459.08" stroke="#fafafa" stroke-width="0.45"/>
<rect x="262.30" y="427.95" width="2.35" height="9.63" fill="#4d82cf"/>
<rect x="322.15" y="427.95" width="2.35" height="9.63" fill="#4d82cf"/>
<rect x="333.55" y="427.95" width="2.35" height="9.63" fill="#9fc43a"/>
<rect x="347.80" y="427.95" width="2.35" height="9.63" fill="#4d82cf"/>
<rect x="350.65" y="427.95" width="2.35" height="9.63" fill="#9fc43a"/>
<rect x="356.35" y="427.95" width="2.35" height="9.63" fill="#4d82cf"/>
<rect x="359.20" y="427.95" width="2.35" height="9.63" fill="#4d82cf"/>
<rect x="370.60" y="427.95" width="2.35" height="9.63" fill="#4d82cf"/>
<rect x="373.45" y="427.95" width="2.35" height="9.63" fill="#9fc43a"/>
<rect x="382.00" y="427.95" width="2.35" height="9.63" fill="#4d82cf"/>
<rect x="396.25" y="427.95" width="2.35" height="9.63" fill="#9fc43a"/>
<rect x="399.10" y="427.95" width="2.35" height="9.63" fill="#4d82cf"/>
<rect x="287.95" y="438.47" width="2.35" height="9.63" fill="#d9434f"/>
<rect x="299.35" y="438.47" width="2.35" height="9.63" fill="#d9434f"/>
<rect x="327.85" y="438.47" width="2.35" height="9.63" fill="#d9434f"/>
<rect x="347.80" y="438.47" width="2.35" height="9.63" fill="#8e0b0b"/>
<rect x="353.50" y="438.47" width="2.35" height="9.63" fill="#8e0b0b"/>
<rect x="364.90" y="438.47" width="2.35" height="9.63" fill="#8e0b0b"/>
<rect x="379.15" y="438.47" width="2.35" height="9.63" fill="#8e0b0b"/>
<rect x="384.85" y="438.47" width="2.35" height="9.63" fill="#8e0b0b"/>
<rect x="387.70" y="438.47" width="2.35" height="9.63" fill="#8e0b0b"/>
<rect x="396.25" y="438.47" width="2.35" height="9.63" fill="#d9434f"/>
<rect x="327.85" y="449.00" width="2.35" height="9.63" fill="#4d82cf"/>
<rect x="330.70" y="449.00" width="2.35" height="9.63" fill="#4d82cf"/>
<rect x="353.50" y="449.00" width="2.35" height="9.63" fill="#4d82cf"/>
<rect x="362.05" y="449.00" width="2.35" height="9.63" fill="#4d82cf"/>
<rect x="367.75" y="449.00" width="2.35" height="9.63" fill="#4d82cf"/>
<rect x="376.30" y="449.00" width="2.35" height="9.63" fill="#4d82cf"/>
<rect x="387.70" y="449.00" width="2.35" height="4.81" fill="#9fc43a"/>
<rect x="387.70" y="453.81" width="2.35" height="4.81" fill="#4d82cf"/>
<rect x="396.25" y="449.00" width="2.35" height="9.63" fill="#4d82cf"/>
<rect x="336.40" y="459.53" width="2.35" height="9.63" fill="#4d82cf"/>
<rect x="347.80" y="459.53" width="2.35" height="9.63" fill="#4d82cf"/>
<rect x="353.50" y="459.53" width="2.35" height="9.63" fill="#23187d"/>
<rect x="359.20" y="459.53" width="2.35" height="9.63" fill="#4d82cf"/>
<rect x="373.45" y="459.53" width="2.35" height="9.63" fill="#23187d"/>
<rect x="384.85" y="459.53" width="2.35" height="9.63" fill="#23187d"/>
<rect x="396.25" y="459.53" width="2.35" height="9.63" fill="#23187d"/>
<rect x="259.20" y="473.00" width="142.50" height="10.40" fill="#f0f0f0" stroke="#b8b8b8" stroke-width="1.0"/>
<line x1="262.05" y1="473.50" x2="262.05" y2="482.90" stroke="#fbfbfb" stroke-width="0.5"/>
<line x1="264.90" y1="473.50" x2="264.90" y2="482.90" stroke="#fbfbfb" stroke-width="0.5"/>
<line x1="267.75" y1="473.50" x2="267.75" y2="482.90" stroke="#fbfbfb" stroke-width="0.5"/>
<line x1="270.60" y1="473.50" x2="270.60" y2="482.90" stroke="#fbfbfb" stroke-width="0.5"/>
<line x1="273.45" y1="473.50" x2="273.45" y2="482.90" stroke="#fbfbfb" stroke-width="0.5"/>
<line x1="276.30" y1="473.50" x2="276.30" y2="482.90" stroke="#fbfbfb" stroke-width="0.5"/>
<line x1="279.15" y1="473.50" x2="279.15" y2="482.90" stroke="#fbfbfb" stroke-width="0.5"/>
<line x1="282.00" y1="473.50" x2="282.00" y2="482.90" stroke="#fbfbfb" stroke-width="0.5"/>
<line x1="284.85" y1="473.50" x2="284.85" y2="482.90" stroke="#fbfbfb" stroke-width="0.5"/>
<line x1="287.70" y1="473.50" x2="287.70" y2="482.90" stroke="#fbfbfb" stroke-width="0.5"/>
<line x1="290.55" y1="473.50" x2="290.55" y2="482.90" stroke="#fbfbfb" stroke-width="0.5"/>
<line x1="293.40" y1="473.50" x2="293.40" y2="482.90" stroke="#fbfbfb" stroke-width="0.5"/>
<line x1="296.25" y1="473.50" x2="296.25" y2="482.90" stroke="#fbfbfb" stroke-width="0.5"/>
<line x1="299.10" y1="473.50" x2="299.10" y2="482.90" stroke="#fbfbfb" stroke-width="0.5"/>
<line x1="301.95" y1="473.50" x2="301.95" y2="482.90" stroke="#fbfbfb" stroke-width="0.5"/>
<line x1="304.80" y1="473.50" x2="304.80" y2="482.90" stroke="#fbfbfb" stroke-width="0.5"/>
<line x1="307.65" y1="473.50" x2="307.65" y2="482.90" stroke="#fbfbfb" stroke-width="0.5"/>
<line x1="310.50" y1="473.50" x2="310.50" y2="482.90" stroke="#fbfbfb" stroke-width="0.5"/>
<line x1="313.35" y1="473.50" x2="313.35" y2="482.90" stroke="#fbfbfb" stroke-width="0.5"/>
<line x1="316.20" y1="473.50" x2="316.20" y2="482.90" stroke="#fbfbfb" stroke-width="0.5"/>
<line x1="319.05" y1="473.50" x2="319.05" y2="482.90" stroke="#fbfbfb" stroke-width="0.5"/>
<line x1="321.90" y1="473.50" x2="321.90" y2="482.90" stroke="#fbfbfb" stroke-width="0.5"/>
<line x1="324.75" y1="473.50" x2="324.75" y2="482.90" stroke="#fbfbfb" stroke-width="0.5"/>
<line x1="327.60" y1="473.50" x2="327.60" y2="482.90" stroke="#fbfbfb" stroke-width="0.5"/>
<line x1="330.45" y1="473.50" x2="330.45" y2="482.90" stroke="#fbfbfb" stroke-width="0.5"/>
<line x1="333.30" y1="473.50" x2="333.30" y2="482.90" stroke="#fbfbfb" stroke-width="0.5"/>
<line x1="336.15" y1="473.50" x2="336.15" y2="482.90" stroke="#fbfbfb" stroke-width="0.5"/>
<line x1="339.00" y1="473.50" x2="339.00" y2="482.90" stroke="#fbfbfb" stroke-width="0.5"/>
<line x1="341.85" y1="473.50" x2="341.85" y2="482.90" stroke="#fbfbfb" stroke-width="0.5"/>
<line x1="344.70" y1="473.50" x2="344.70" y2="482.90" stroke="#fbfbfb" stroke-width="0.5"/>
<line x1="347.55" y1="473.50" x2="347.55" y2="482.90" stroke="#fbfbfb" stroke-width="0.5"/>
<line x1="350.40" y1="473.50" x2="350.40" y2="482.90" stroke="#fbfbfb" stroke-width="0.5"/>
<line x1="353.25" y1="473.50" x2="353.25" y2="482.90" stroke="#fbfbfb" stroke-width="0.5"/>
<line x1="356.10" y1="473.50" x2="356.10" y2="482.90" stroke="#fbfbfb" stroke-width="0.5"/>
<line x1="358.95" y1="473.50" x2="358.95" y2="482.90" stroke="#fbfbfb" stroke-width="0.5"/>
<line x1="361.80" y1="473.50" x2="361.80" y2="482.90" stroke="#fbfbfb" stroke-width="0.5"/>
<line x1="364.65" y1="473.50" x2="364.65" y2="482.90" stroke="#fbfbfb" stroke-width="0.5"/>
<line x1="367.50" y1="473.50" x2="367.50" y2="482.90" stroke="#fbfbfb" stroke-width="0.5"/>
<line x1="370.35" y1="473.50" x2="370.35" y2="482.90" stroke="#fbfbfb" stroke-width="0.5"/>
<line x1="373.20" y1="473.50" x2="373.20" y2="482.90" stroke="#fbfbfb" stroke-width="0.5"/>
<line x1="376.05" y1="473.50" x2="376.05" y2="482.90" stroke="#fbfbfb" stroke-width="0.5"/>
<line x1="378.90" y1="473.50" x2="378.90" y2="482.90" stroke="#fbfbfb" stroke-width="0.5"/>
<line x1="381.75" y1="473.50" x2="381.75" y2="482.90" stroke="#fbfbfb" stroke-width="0.5"/>
<line x1="384.60" y1="473.50" x2="384.60" y2="482.90" stroke="#fbfbfb" stroke-width="0.5"/>
<line x1="387.45" y1="473.50" x2="387.45" y2="482.90" stroke="#fbfbfb" stroke-width="0.5"/>
<line x1="390.30" y1="473.50" x2="390.30" y2="482.90" stroke="#fbfbfb" stroke-width="0.5"/>
<line x1="393.15" y1="473.50" x2="393.15" y2="482.90" stroke="#fbfbfb" stroke-width="0.5"/>
<line x1="396.00" y1="473.50" x2="396.00" y2="482.90" stroke="#fbfbfb" stroke-width="0.5"/>
<line x1="398.85" y1="473.50" x2="398.85" y2="482.90" stroke="#fbfbfb" stroke-width="0.5"/>
<rect x="327.85" y="473.45" width="2.35" height="9.50" fill="#7f7f7f"/>
<rect x="364.90" y="473.45" width="2.35" height="9.50" fill="#7f7f7f"/>
<rect x="382.00" y="473.45" width="2.35" height="9.50" fill="#7f7f7f"/>
<rect x="396.25" y="473.45" width="2.35" height="9.50" fill="#7f7f7f"/>
<rect x="259.20" y="486.30" width="142.50" height="10.30" fill="#f0f0f0" stroke="#b8b8b8" stroke-width="1.0"/>
<line x1="262.05" y1="486.80" x2="262.05" y2="496.10" stroke="#fbfbfb" stroke-width="0.5"/>
<line x1="264.90" y1="486.80" x2="264.90" y2="496.10" stroke="#fbfbfb" stroke-width="0.5"/>
<line x1="267.75" y1="486.80" x2="267.75" y2="496.10" stroke="#fbfbfb" stroke-width="0.5"/>
<line x1="270.60" y1="486.80" x2="270.60" y2="496.10" stroke="#fbfbfb" stroke-width="0.5"/>
<line x1="273.45" y1="486.80" x2="273.45" y2="496.10" stroke="#fbfbfb" stroke-width="0.5"/>
<line x1="276.30" y1="486.80" x2="276.30" y2="496.10" stroke="#fbfbfb" stroke-width="0.5"/>
<line x1="279.15" y1="486.80" x2="279.15" y2="496.10" stroke="#fbfbfb" stroke-width="0.5"/>
<line x1="282.00" y1="486.80" x2="282.00" y2="496.10" stroke="#fbfbfb" stroke-width="0.5"/>
<line x1="284.85" y1="486.80" x2="284.85" y2="496.10" stroke="#fbfbfb" stroke-width="0.5"/>
<line x1="287.70" y1="486.80" x2="287.70" y2="496.10" stroke="#fbfbfb" stroke-width="0.5"/>
<line x1="290.55" y1="486.80" x2="290.55" y2="496.10" stroke="#fbfbfb" stroke-width="0.5"/>
<line x1="293.40" y1="486.80" x2="293.40" y2="496.10" stroke="#fbfbfb" stroke-width="0.5"/>
<line x1="296.25" y1="486.80" x2="296.25" y2="496.10" stroke="#fbfbfb" stroke-width="0.5"/>
<line x1="299.10" y1="486.80" x2="299.10" y2="496.10" stroke="#fbfbfb" stroke-width="0.5"/>
<line x1="301.95" y1="486.80" x2="301.95" y2="496.10" stroke="#fbfbfb" stroke-width="0.5"/>
<line x1="304.80" y1="486.80" x2="304.80" y2="496.10" stroke="#fbfbfb" stroke-width="0.5"/>
<line x1="307.65" y1="486.80" x2="307.65" y2="496.10" stroke="#fbfbfb" stroke-width="0.5"/>
<line x1="310.50" y1="486.80" x2="310.50" y2="496.10" stroke="#fbfbfb" stroke-width="0.5"/>
<line x1="313.35" y1="486.80" x2="313.35" y2="496.10" stroke="#fbfbfb" stroke-width="0.5"/>
<line x1="316.20" y1="486.80" x2="316.20" y2="496.10" stroke="#fbfbfb" stroke-width="0.5"/>
<line x1="319.05" y1="486.80" x2="319.05" y2="496.10" stroke="#fbfbfb" stroke-width="0.5"/>
<line x1="321.90" y1="486.80" x2="321.90" y2="496.10" stroke="#fbfbfb" stroke-width="0.5"/>
<line x1="324.75" y1="486.80" x2="324.75" y2="496.10" stroke="#fbfbfb" stroke-width="0.5"/>
<line x1="327.60" y1="486.80" x2="327.60" y2="496.10" stroke="#fbfbfb" stroke-width="0.5"/>
<line x1="330.45" y1="486.80" x2="330.45" y2="496.10" stroke="#fbfbfb" stroke-width="0.5"/>
<line x1="333.30" y1="486.80" x2="333.30" y2="496.10" stroke="#fbfbfb" stroke-width="0.5"/>
<line x1="336.15" y1="486.80" x2="336.15" y2="496.10" stroke="#fbfbfb" stroke-width="0.5"/>
<line x1="339.00" y1="486.80" x2="339.00" y2="496.10" stroke="#fbfbfb" stroke-width="0.5"/>
<line x1="341.85" y1="486.80" x2="341.85" y2="496.10" stroke="#fbfbfb" stroke-width="0.5"/>
<line x1="344.70" y1="486.80" x2="344.70" y2="496.10" stroke="#fbfbfb" stroke-width="0.5"/>
<line x1="347.55" y1="486.80" x2="347.55" y2="496.10" stroke="#fbfbfb" stroke-width="0.5"/>
<line x1="350.40" y1="486.80" x2="350.40" y2="496.10" stroke="#fbfbfb" stroke-width="0.5"/>
<line x1="353.25" y1="486.80" x2="353.25" y2="496.10" stroke="#fbfbfb" stroke-width="0.5"/>
<line x1="356.10" y1="486.80" x2="356.10" y2="496.10" stroke="#fbfbfb" stroke-width="0.5"/>
<line x1="358.95" y1="486.80" x2="358.95" y2="496.10" stroke="#fbfbfb" stroke-width="0.5"/>
<line x1="361.80" y1="486.80" x2="361.80" y2="496.10" stroke="#fbfbfb" stroke-width="0.5"/>
<line x1="364.65" y1="486.80" x2="364.65" y2="496.10" stroke="#fbfbfb" stroke-width="0.5"/>
<line x1="367.50" y1="486.80" x2="367.50" y2="496.10" stroke="#fbfbfb" stroke-width="0.5"/>
<line x1="370.35" y1="486.80" x2="370.35" y2="496.10" stroke="#fbfbfb" stroke-width="0.5"/>
<line x1="373.20" y1="486.80" x2="373.20" y2="496.10" stroke="#fbfbfb" stroke-width="0.5"/>
<line x1="376.05" y1="486.80" x2="376.05" y2="496.10" stroke="#fbfbfb" stroke-width="0.5"/>
<line x1="378.90" y1="486.80" x2="378.90" y2="496.10" stroke="#fbfbfb" stroke-width="0.5"/>
<line x1="381.75" y1="486.80" x2="381.75" y2="496.10" stroke="#fbfbfb" stroke-width="0.5"/>
<line x1="384.60" y1="486.80" x2="384.60" y2="496.10" stroke="#fbfbfb" stroke-width="0.5"/>
<line x1="387.45" y1="486.80" x2="387.45" y2="496.10" stroke="#fbfbfb" stroke-width="0.5"/>
<line x1="390.30" y1="486.80" x2="390.30" y2="496.10" stroke="#fbfbfb" stroke-width="0.5"/>
<line x1="393.15" y1="486.80" x2="393.15" y2="496.10" stroke="#fbfbfb" stroke-width="0.5"/>
<line x1="396.00" y1="486.80" x2="396.00" y2="496.10" stroke="#fbfbfb" stroke-width="0.5"/>
<line x1="398.85" y1="486.80" x2="398.85" y2="496.10" stroke="#fbfbfb" stroke-width="0.5"/>
<rect x="262.30" y="486.75" width="2.35" height="9.40" fill="#7f7f7f"/>
<rect x="265.15" y="486.75" width="2.35" height="9.40" fill="#7f7f7f"/>
<rect x="282.25" y="486.75" width="2.35" height="9.40" fill="#7f7f7f"/>
<rect x="319.30" y="486.75" width="2.35" height="9.40" fill="#7f7f7f"/>
<rect x="259.20" y="499.80" width="142.50" height="21.00" fill="#f0f0f0" stroke="#b8b8b8" stroke-width="1.0"/>
<line x1="262.05" y1="500.30" x2="262.05" y2="520.30" stroke="#fbfbfb" stroke-width="0.5"/>
<line x1="264.90" y1="500.30" x2="264.90" y2="520.30" stroke="#fbfbfb" stroke-width="0.5"/>
<line x1="267.75" y1="500.30" x2="267.75" y2="520.30" stroke="#fbfbfb" stroke-width="0.5"/>
<line x1="270.60" y1="500.30" x2="270.60" y2="520.30" stroke="#fbfbfb" stroke-width="0.5"/>
<line x1="273.45" y1="500.30" x2="273.45" y2="520.30" stroke="#fbfbfb" stroke-width="0.5"/>
<line x1="276.30" y1="500.30" x2="276.30" y2="520.30" stroke="#fbfbfb" stroke-width="0.5"/>
<line x1="279.15" y1="500.30" x2="279.15" y2="520.30" stroke="#fbfbfb" stroke-width="0.5"/>
<line x1="282.00" y1="500.30" x2="282.00" y2="520.30" stroke="#fbfbfb" stroke-width="0.5"/>
<line x1="284.85" y1="500.30" x2="284.85" y2="520.30" stroke="#fbfbfb" stroke-width="0.5"/>
<line x1="287.70" y1="500.30" x2="287.70" y2="520.30" stroke="#fbfbfb" stroke-width="0.5"/>
<line x1="290.55" y1="500.30" x2="290.55" y2="520.30" stroke="#fbfbfb" stroke-width="0.5"/>
<line x1="293.40" y1="500.30" x2="293.40" y2="520.30" stroke="#fbfbfb" stroke-width="0.5"/>
<line x1="296.25" y1="500.30" x2="296.25" y2="520.30" stroke="#fbfbfb" stroke-width="0.5"/>
<line x1="299.10" y1="500.30" x2="299.10" y2="520.30" stroke="#fbfbfb" stroke-width="0.5"/>
<line x1="301.95" y1="500.30" x2="301.95" y2="520.30" stroke="#fbfbfb" stroke-width="0.5"/>
<line x1="304.80" y1="500.30" x2="304.80" y2="520.30" stroke="#fbfbfb" stroke-width="0.5"/>
<line x1="307.65" y1="500.30" x2="307.65" y2="520.30" stroke="#fbfbfb" stroke-width="0.5"/>
<line x1="310.50" y1="500.30" x2="310.50" y2="520.30" stroke="#fbfbfb" stroke-width="0.5"/>
<line x1="313.35" y1="500.30" x2="313.35" y2="520.30" stroke="#fbfbfb" stroke-width="0.5"/>
<line x1="316.20" y1="500.30" x2="316.20" y2="520.30" stroke="#fbfbfb" stroke-width="0.5"/>
<line x1="319.05" y1="500.30" x2="319.05" y2="520.30" stroke="#fbfbfb" stroke-width="0.5"/>
<line x1="321.90" y1="500.30" x2="321.90" y2="520.30" stroke="#fbfbfb" stroke-width="0.5"/>
<line x1="324.75" y1="500.30" x2="324.75" y2="520.30" stroke="#fbfbfb" stroke-width="0.5"/>
<line x1="327.60" y1="500.30" x2="327.60" y2="520.30" stroke="#fbfbfb" stroke-width="0.5"/>
<line x1="330.45" y1="500.30" x2="330.45" y2="520.30" stroke="#fbfbfb" stroke-width="0.5"/>
<line x1="333.30" y1="500.30" x2="333.30" y2="520.30" stroke="#fbfbfb" stroke-width="0.5"/>
<line x1="336.15" y1="500.30" x2="336.15" y2="520.30" stroke="#fbfbfb" stroke-width="0.5"/>
<line x1="339.00" y1="500.30" x2="339.00" y2="520.30" stroke="#fbfbfb" stroke-width="0.5"/>
<line x1="341.85" y1="500.30" x2="341.85" y2="520.30" stroke="#fbfbfb" stroke-width="0.5"/>
<line x1="344.70" y1="500.30" x2="344.70" y2="520.30" stroke="#fbfbfb" stroke-width="0.5"/>
<line x1="347.55" y1="500.30" x2="347.55" y2="520.30" stroke="#fbfbfb" stroke-width="0.5"/>
<line x1="350.40" y1="500.30" x2="350.40" y2="520.30" stroke="#fbfbfb" stroke-width="0.5"/>
<line x1="353.25" y1="500.30" x2="353.25" y2="520.30" stroke="#fbfbfb" stroke-width="0.5"/>
<line x1="356.10" y1="500.30" x2="356.10" y2="520.30" stroke="#fbfbfb" stroke-width="0.5"/>
<line x1="358.95" y1="500.30" x2="358.95" y2="520.30" stroke="#fbfbfb" stroke-width="0.5"/>
<line x1="361.80" y1="500.30" x2="361.80" y2="520.30" stroke="#fbfbfb" stroke-width="0.5"/>
<line x1="364.65" y1="500.30" x2="364.65" y2="520.30" stroke="#fbfbfb" stroke-width="0.5"/>
<line x1="367.50" y1="500.30" x2="367.50" y2="520.30" stroke="#fbfbfb" stroke-width="0.5"/>
<line x1="370.35" y1="500.30" x2="370.35" y2="520.30" stroke="#fbfbfb" stroke-width="0.5"/>
<line x1="373.20" y1="500.30" x2="373.20" y2="520.30" stroke="#fbfbfb" stroke-width="0.5"/>
<line x1="376.05" y1="500.30" x2="376.05" y2="520.30" stroke="#fbfbfb" stroke-width="0.5"/>
<line x1="378.90" y1="500.30" x2="378.90" y2="520.30" stroke="#fbfbfb" stroke-width="0.5"/>
<line x1="381.75" y1="500.30" x2="381.75" y2="520.30" stroke="#fbfbfb" stroke-width="0.5"/>
<line x1="384.60" y1="500.30" x2="384.60" y2="520.30" stroke="#fbfbfb" stroke-width="0.5"/>
<line x1="387.45" y1="500.30" x2="387.45" y2="520.30" stroke="#fbfbfb" stroke-width="0.5"/>
<line x1="390.30" y1="500.30" x2="390.30" y2="520.30" stroke="#fbfbfb" stroke-width="0.5"/>
<line x1="393.15" y1="500.30" x2="393.15" y2="520.30" stroke="#fbfbfb" stroke-width="0.5"/>
<line x1="396.00" y1="500.30" x2="396.00" y2="520.30" stroke="#fbfbfb" stroke-width="0.5"/>
<line x1="398.85" y1="500.30" x2="398.85" y2="520.30" stroke="#fbfbfb" stroke-width="0.5"/>
<line x1="259.70" y1="510.30" x2="401.20" y2="510.30" stroke="#fafafa" stroke-width="0.45"/>
<rect x="282.25" y="500.25" width="2.35" height="9.60" fill="#d9434f"/>
<rect x="285.10" y="500.25" width="2.35" height="9.60" fill="#d9434f"/>
<rect x="287.95" y="500.25" width="2.35" height="9.60" fill="#d9434f"/>
<rect x="290.80" y="500.25" width="2.35" height="9.60" fill="#d9434f"/>
<rect x="293.65" y="500.25" width="2.35" height="9.60" fill="#d9434f"/>
<rect x="302.20" y="500.25" width="2.35" height="9.60" fill="#d9434f"/>
<rect x="310.75" y="500.25" width="2.35" height="9.60" fill="#d9434f"/>
<rect x="319.30" y="500.25" width="2.35" height="9.60" fill="#d9434f"/>
<rect x="322.15" y="500.25" width="2.35" height="9.60" fill="#d9434f"/>
<rect x="327.85" y="500.25" width="2.35" height="9.60" fill="#d9434f"/>
<rect x="336.40" y="500.25" width="2.35" height="9.60" fill="#d9434f"/>
<rect x="344.95" y="500.25" width="2.35" height="9.60" fill="#d9434f"/>
<rect x="347.80" y="500.25" width="2.35" height="9.60" fill="#d9434f"/>
<rect x="353.50" y="500.25" width="2.35" height="9.60" fill="#d9434f"/>
<rect x="356.35" y="500.25" width="2.35" height="9.60" fill="#d9434f"/>
<rect x="362.05" y="500.25" width="2.35" height="9.60" fill="#d9434f"/>
<rect x="370.60" y="500.25" width="2.35" height="9.60" fill="#d9434f"/>
<rect x="373.45" y="500.25" width="2.35" height="9.60" fill="#d9434f"/>
<rect x="376.30" y="500.25" width="2.35" height="9.60" fill="#d9434f"/>
<rect x="382.00" y="500.25" width="2.35" height="9.60" fill="#d9434f"/>
<rect x="384.85" y="500.25" width="2.35" height="9.60" fill="#d9434f"/>
<rect x="387.70" y="500.25" width="2.35" height="9.60" fill="#d9434f"/>
<rect x="393.40" y="500.25" width="2.35" height="9.60" fill="#d9434f"/>
<rect x="396.25" y="500.25" width="2.35" height="9.60" fill="#d9434f"/>
<rect x="279.40" y="510.75" width="2.35" height="9.60" fill="#4d82cf"/>
<rect x="333.55" y="510.75" width="2.35" height="9.60" fill="#4d82cf"/>
<rect x="339.25" y="510.75" width="2.35" height="9.60" fill="#4d82cf"/>
<rect x="356.35" y="510.75" width="2.35" height="9.60" fill="#4d82cf"/>
<rect x="362.05" y="510.75" width="2.35" height="9.60" fill="#4d82cf"/>
<rect x="367.75" y="510.75" width="2.35" height="9.60" fill="#4d82cf"/>
<rect x="379.15" y="510.75" width="2.35" height="9.60" fill="#4d82cf"/>
<rect x="396.25" y="510.75" width="2.35" height="9.60" fill="#4d82cf"/>
<rect x="406.00" y="413.80" width="57.00" height="10.80" fill="#f0f0f0" stroke="#b8b8b8" stroke-width="1.0"/>
<line x1="408.85" y1="414.30" x2="408.85" y2="424.10" stroke="#fbfbfb" stroke-width="0.5"/>
<line x1="411.70" y1="414.30" x2="411.70" y2="424.10" stroke="#fbfbfb" stroke-width="0.5"/>
<line x1="414.55" y1="414.30" x2="414.55" y2="424.10" stroke="#fbfbfb" stroke-width="0.5"/>
<line x1="417.40" y1="414.30" x2="417.40" y2="424.10" stroke="#fbfbfb" stroke-width="0.5"/>
<line x1="420.25" y1="414.30" x2="420.25" y2="424.10" stroke="#fbfbfb" stroke-width="0.5"/>
<line x1="423.10" y1="414.30" x2="423.10" y2="424.10" stroke="#fbfbfb" stroke-width="0.5"/>
<line x1="425.95" y1="414.30" x2="425.95" y2="424.10" stroke="#fbfbfb" stroke-width="0.5"/>
<line x1="428.80" y1="414.30" x2="428.80" y2="424.10" stroke="#fbfbfb" stroke-width="0.5"/>
<line x1="431.65" y1="414.30" x2="431.65" y2="424.10" stroke="#fbfbfb" stroke-width="0.5"/>
<line x1="434.50" y1="414.30" x2="434.50" y2="424.10" stroke="#fbfbfb" stroke-width="0.5"/>
<line x1="437.35" y1="414.30" x2="437.35" y2="424.10" stroke="#fbfbfb" stroke-width="0.5"/>
<line x1="440.20" y1="414.30" x2="440.20" y2="424.10" stroke="#fbfbfb" stroke-width="0.5"/>
<line x1="443.05" y1="414.30" x2="443.05" y2="424.10" stroke="#fbfbfb" stroke-width="0.5"/>
<line x1="445.90" y1="414.30" x2="445.90" y2="424.10" stroke="#fbfbfb" stroke-width="0.5"/>
<line x1="448.75" y1="414.30" x2="448.75" y2="424.10" stroke="#fbfbfb" stroke-width="0.5"/>
<line x1="451.60" y1="414.30" x2="451.60" y2="424.10" stroke="#fbfbfb" stroke-width="0.5"/>
<line x1="454.45" y1="414.30" x2="454.45" y2="424.10" stroke="#fbfbfb" stroke-width="0.5"/>
<line x1="457.30" y1="414.30" x2="457.30" y2="424.10" stroke="#fbfbfb" stroke-width="0.5"/>
<line x1="460.15" y1="414.30" x2="460.15" y2="424.10" stroke="#fbfbfb" stroke-width="0.5"/>
<rect x="423.35" y="414.25" width="2.35" height="4.95" fill="#d9434f"/>
<rect x="423.35" y="419.20" width="2.35" height="4.95" fill="#7f7f7f"/>
<rect x="429.05" y="414.25" width="2.35" height="9.90" fill="#d9434f"/>
<rect x="446.15" y="414.25" width="2.35" height="4.95" fill="#d9434f"/>
<rect x="446.15" y="419.20" width="2.35" height="4.95" fill="#7f7f7f"/>
<rect x="449.00" y="414.25" width="2.35" height="9.90" fill="#d9434f"/>
<rect x="454.70" y="414.25" width="2.35" height="4.95" fill="#d9434f"/>
<rect x="454.70" y="419.20" width="2.35" height="4.95" fill="#7f7f7f"/>
<rect x="457.55" y="414.25" width="2.35" height="4.95" fill="#d9434f"/>
<rect x="457.55" y="419.20" width="2.35" height="4.95" fill="#7f7f7f"/>
<rect x="406.00" y="427.50" width="57.00" height="42.10" fill="#f0f0f0" stroke="#b8b8b8" stroke-width="1.0"/>
<line x1="408.85" y1="428.00" x2="408.85" y2="469.10" stroke="#fbfbfb" stroke-width="0.5"/>
<line x1="411.70" y1="428.00" x2="411.70" y2="469.10" stroke="#fbfbfb" stroke-width="0.5"/>
<line x1="414.55" y1="428.00" x2="414.55" y2="469.10" stroke="#fbfbfb" stroke-width="0.5"/>
<line x1="417.40" y1="428.00" x2="417.40" y2="469.10" stroke="#fbfbfb" stroke-width="0.5"/>
<line x1="420.25" y1="428.00" x2="420.25" y2="469.10" stroke="#fbfbfb" stroke-width="0.5"/>
<line x1="423.10" y1="428.00" x2="423.10" y2="469.10" stroke="#fbfbfb" stroke-width="0.5"/>
<line x1="425.95" y1="428.00" x2="425.95" y2="469.10" stroke="#fbfbfb" stroke-width="0.5"/>
<line x1="428.80" y1="428.00" x2="428.80" y2="469.10" stroke="#fbfbfb" stroke-width="0.5"/>
<line x1="431.65" y1="428.00" x2="431.65" y2="469.10" stroke="#fbfbfb" stroke-width="0.5"/>
<line x1="434.50" y1="428.00" x2="434.50" y2="469.10" stroke="#fbfbfb" stroke-width="0.5"/>
<line x1="437.35" y1="428.00" x2="437.35" y2="469.10" stroke="#fbfbfb" stroke-width="0.5"/>
<line x1="440.20" y1="428.00" x2="440.20" y2="469.10" stroke="#fbfbfb" stroke-width="0.5"/>
<line x1="443.05" y1="428.00" x2="443.05" y2="469.10" stroke="#fbfbfb" stroke-width="0.5"/>
<line x1="445.90" y1="428.00" x2="445.90" y2="469.10" stroke="#fbfbfb" stroke-width="0.5"/>
<line x1="448.75" y1="428.00" x2="448.75" y2="469.10" stroke="#fbfbfb" stroke-width="0.5"/>
<line x1="451.60" y1="428.00" x2="451.60" y2="469.10" stroke="#fbfbfb" stroke-width="0.5"/>
<line x1="454.45" y1="428.00" x2="454.45" y2="469.10" stroke="#fbfbfb" stroke-width="0.5"/>
<line x1="457.30" y1="428.00" x2="457.30" y2="469.10" stroke="#fbfbfb" stroke-width="0.5"/>
<line x1="460.15" y1="428.00" x2="460.15" y2="469.10" stroke="#fbfbfb" stroke-width="0.5"/>
<line x1="406.50" y1="438.02" x2="462.50" y2="438.02" stroke="#fafafa" stroke-width="0.45"/>
<line x1="406.50" y1="448.55" x2="462.50" y2="448.55" stroke="#fafafa" stroke-width="0.45"/>
<line x1="406.50" y1="459.08" x2="462.50" y2="459.08" stroke="#fafafa" stroke-width="0.45"/>
<rect x="429.05" y="427.95" width="2.35" height="9.63" fill="#9fc43a"/>
<rect x="437.60" y="427.95" width="2.35" height="9.63" fill="#9fc43a"/>
<rect x="449.00" y="427.95" width="2.35" height="9.63" fill="#9fc43a"/>
<rect x="449.00" y="438.47" width="2.35" height="9.63" fill="#d9434f"/>
<rect x="423.35" y="449.00" width="2.35" height="9.63" fill="#4d82cf"/>
<rect x="449.00" y="449.00" width="2.35" height="9.63" fill="#4d82cf"/>
<rect x="406.00" y="473.00" width="57.00" height="10.40" fill="#f0f0f0" stroke="#b8b8b8" stroke-width="1.0"/>
<line x1="408.85" y1="473.50" x2="408.85" y2="482.90" stroke="#fbfbfb" stroke-width="0.5"/>
<line x1="411.70" y1="473.50" x2="411.70" y2="482.90" stroke="#fbfbfb" stroke-width="0.5"/>
<line x1="414.55" y1="473.50" x2="414.55" y2="482.90" stroke="#fbfbfb" stroke-width="0.5"/>
<line x1="417.40" y1="473.50" x2="417.40" y2="482.90" stroke="#fbfbfb" stroke-width="0.5"/>
<line x1="420.25" y1="473.50" x2="420.25" y2="482.90" stroke="#fbfbfb" stroke-width="0.5"/>
<line x1="423.10" y1="473.50" x2="423.10" y2="482.90" stroke="#fbfbfb" stroke-width="0.5"/>
<line x1="425.95" y1="473.50" x2="425.95" y2="482.90" stroke="#fbfbfb" stroke-width="0.5"/>
<line x1="428.80" y1="473.50" x2="428.80" y2="482.90" stroke="#fbfbfb" stroke-width="0.5"/>
<line x1="431.65" y1="473.50" x2="431.65" y2="482.90" stroke="#fbfbfb" stroke-width="0.5"/>
<line x1="434.50" y1="473.50" x2="434.50" y2="482.90" stroke="#fbfbfb" stroke-width="0.5"/>
<line x1="437.35" y1="473.50" x2="437.35" y2="482.90" stroke="#fbfbfb" stroke-width="0.5"/>
<line x1="440.20" y1="473.50" x2="440.20" y2="482.90" stroke="#fbfbfb" stroke-width="0.5"/>
<line x1="443.05" y1="473.50" x2="443.05" y2="482.90" stroke="#fbfbfb" stroke-width="0.5"/>
<line x1="445.90" y1="473.50" x2="445.90" y2="482.90" stroke="#fbfbfb" stroke-width="0.5"/>
<line x1="448.75" y1="473.50" x2="448.75" y2="482.90" stroke="#fbfbfb" stroke-width="0.5"/>
<line x1="451.60" y1="473.50" x2="451.60" y2="482.90" stroke="#fbfbfb" stroke-width="0.5"/>
<line x1="454.45" y1="473.50" x2="454.45" y2="482.90" stroke="#fbfbfb" stroke-width="0.5"/>
<line x1="457.30" y1="473.50" x2="457.30" y2="482.90" stroke="#fbfbfb" stroke-width="0.5"/>
<line x1="460.15" y1="473.50" x2="460.15" y2="482.90" stroke="#fbfbfb" stroke-width="0.5"/>
<rect x="414.80" y="473.45" width="2.35" height="9.50" fill="#7f7f7f"/>
<rect x="406.00" y="486.30" width="57.00" height="10.30" fill="#f0f0f0" stroke="#b8b8b8" stroke-width="1.0"/>
<line x1="408.85" y1="486.80" x2="408.85" y2="496.10" stroke="#fbfbfb" stroke-width="0.5"/>
<line x1="411.70" y1="486.80" x2="411.70" y2="496.10" stroke="#fbfbfb" stroke-width="0.5"/>
<line x1="414.55" y1="486.80" x2="414.55" y2="496.10" stroke="#fbfbfb" stroke-width="0.5"/>
<line x1="417.40" y1="486.80" x2="417.40" y2="496.10" stroke="#fbfbfb" stroke-width="0.5"/>
<line x1="420.25" y1="486.80" x2="420.25" y2="496.10" stroke="#fbfbfb" stroke-width="0.5"/>
<line x1="423.10" y1="486.80" x2="423.10" y2="496.10" stroke="#fbfbfb" stroke-width="0.5"/>
<line x1="425.95" y1="486.80" x2="425.95" y2="496.10" stroke="#fbfbfb" stroke-width="0.5"/>
<line x1="428.80" y1="486.80" x2="428.80" y2="496.10" stroke="#fbfbfb" stroke-width="0.5"/>
<line x1="431.65" y1="486.80" x2="431.65" y2="496.10" stroke="#fbfbfb" stroke-width="0.5"/>
<line x1="434.50" y1="486.80" x2="434.50" y2="496.10" stroke="#fbfbfb" stroke-width="0.5"/>
<line x1="437.35" y1="486.80" x2="437.35" y2="496.10" stroke="#fbfbfb" stroke-width="0.5"/>
<line x1="440.20" y1="486.80" x2="440.20" y2="496.10" stroke="#fbfbfb" stroke-width="0.5"/>
<line x1="443.05" y1="486.80" x2="443.05" y2="496.10" stroke="#fbfbfb" stroke-width="0.5"/>
<line x1="445.90" y1="486.80" x2="445.90" y2="496.10" stroke="#fbfbfb" stroke-width="0.5"/>
<line x1="448.75" y1="486.80" x2="448.75" y2="496.10" stroke="#fbfbfb" stroke-width="0.5"/>
<line x1="451.60" y1="486.80" x2="451.60" y2="496.10" stroke="#fbfbfb" stroke-width="0.5"/>
<line x1="454.45" y1="486.80" x2="454.45" y2="496.10" stroke="#fbfbfb" stroke-width="0.5"/>
<line x1="457.30" y1="486.80" x2="457.30" y2="496.10" stroke="#fbfbfb" stroke-width="0.5"/>
<line x1="460.15" y1="486.80" x2="460.15" y2="496.10" stroke="#fbfbfb" stroke-width="0.5"/>
<rect x="406.00" y="499.80" width="57.00" height="21.00" fill="#f0f0f0" stroke="#b8b8b8" stroke-width="1.0"/>
<line x1="408.85" y1="500.30" x2="408.85" y2="520.30" stroke="#fbfbfb" stroke-width="0.5"/>
<line x1="411.70" y1="500.30" x2="411.70" y2="520.30" stroke="#fbfbfb" stroke-width="0.5"/>
<line x1="414.55" y1="500.30" x2="414.55" y2="520.30" stroke="#fbfbfb" stroke-width="0.5"/>
<line x1="417.40" y1="500.30" x2="417.40" y2="520.30" stroke="#fbfbfb" stroke-width="0.5"/>
<line x1="420.25" y1="500.30" x2="420.25" y2="520.30" stroke="#fbfbfb" stroke-width="0.5"/>
<line x1="423.10" y1="500.30" x2="423.10" y2="520.30" stroke="#fbfbfb" stroke-width="0.5"/>
<line x1="425.95" y1="500.30" x2="425.95" y2="520.30" stroke="#fbfbfb" stroke-width="0.5"/>
<line x1="428.80" y1="500.30" x2="428.80" y2="520.30" stroke="#fbfbfb" stroke-width="0.5"/>
<line x1="431.65" y1="500.30" x2="431.65" y2="520.30" stroke="#fbfbfb" stroke-width="0.5"/>
<line x1="434.50" y1="500.30" x2="434.50" y2="520.30" stroke="#fbfbfb" stroke-width="0.5"/>
<line x1="437.35" y1="500.30" x2="437.35" y2="520.30" stroke="#fbfbfb" stroke-width="0.5"/>
<line x1="440.20" y1="500.30" x2="440.20" y2="520.30" stroke="#fbfbfb" stroke-width="0.5"/>
<line x1="443.05" y1="500.30" x2="443.05" y2="520.30" stroke="#fbfbfb" stroke-width="0.5"/>
<line x1="445.90" y1="500.30" x2="445.90" y2="520.30" stroke="#fbfbfb" stroke-width="0.5"/>
<line x1="448.75" y1="500.30" x2="448.75" y2="520.30" stroke="#fbfbfb" stroke-width="0.5"/>
<line x1="451.60" y1="500.30" x2="451.60" y2="520.30" stroke="#fbfbfb" stroke-width="0.5"/>
<line x1="454.45" y1="500.30" x2="454.45" y2="520.30" stroke="#fbfbfb" stroke-width="0.5"/>
<line x1="457.30" y1="500.30" x2="457.30" y2="520.30" stroke="#fbfbfb" stroke-width="0.5"/>
<line x1="460.15" y1="500.30" x2="460.15" y2="520.30" stroke="#fbfbfb" stroke-width="0.5"/>
<line x1="406.50" y1="510.30" x2="462.50" y2="510.30" stroke="#fafafa" stroke-width="0.45"/>
<rect x="423.35" y="500.25" width="2.35" height="9.60" fill="#d9434f"/>
<line x1="463.30" y1="419.10" x2="465.00" y2="419.10" stroke="#222" stroke-width="0.8"/>
<text x="466.30" y="421.41" font-size="6.60" textLength="6.90" lengthAdjust="spacingAndGlyphs" stroke="#1e1e1e" stroke-width="0.08">19</text>
<line x1="463.30" y1="432.60" x2="465.00" y2="432.60" stroke="#222" stroke-width="0.8"/>
<text x="466.30" y="434.91" font-size="6.60" textLength="6.90" lengthAdjust="spacingAndGlyphs" stroke="#1e1e1e" stroke-width="0.08">15</text>
<line x1="463.30" y1="442.80" x2="465.00" y2="442.80" stroke="#222" stroke-width="0.8"/>
<text x="466.30" y="445.11" font-size="6.60" textLength="6.90" lengthAdjust="spacingAndGlyphs" stroke="#1e1e1e" stroke-width="0.08">11</text>
<line x1="463.30" y1="453.60" x2="465.00" y2="453.60" stroke="#222" stroke-width="0.8"/>
<text x="466.30" y="455.91" font-size="6.60" textLength="6.90" lengthAdjust="spacingAndGlyphs" stroke="#1e1e1e" stroke-width="0.08">10</text>
<line x1="463.30" y1="464.40" x2="465.00" y2="464.40" stroke="#222" stroke-width="0.8"/>
<text x="466.30" y="466.71" font-size="6.60" textLength="3.50" lengthAdjust="spacingAndGlyphs" stroke="#1e1e1e" stroke-width="0.08">7</text>
<line x1="463.30" y1="477.50" x2="465.00" y2="477.50" stroke="#222" stroke-width="0.8"/>
<text x="466.30" y="479.81" font-size="6.60" textLength="3.50" lengthAdjust="spacingAndGlyphs" stroke="#1e1e1e" stroke-width="0.08">5</text>
<line x1="463.30" y1="491.00" x2="465.00" y2="491.00" stroke="#222" stroke-width="0.8"/>
<text x="466.30" y="493.31" font-size="6.60" textLength="3.50" lengthAdjust="spacingAndGlyphs" stroke="#1e1e1e" stroke-width="0.08">4</text>
<line x1="463.30" y1="504.60" x2="465.00" y2="504.60" stroke="#222" stroke-width="0.8"/>
<text x="466.30" y="506.91" font-size="6.60" textLength="6.90" lengthAdjust="spacingAndGlyphs" stroke="#1e1e1e" stroke-width="0.08">25</text>
<line x1="463.30" y1="514.80" x2="465.00" y2="514.80" stroke="#222" stroke-width="0.8"/>
<text x="466.30" y="517.11" font-size="6.60" textLength="3.50" lengthAdjust="spacingAndGlyphs" stroke="#1e1e1e" stroke-width="0.08">8</text>
<defs><linearGradient id="garr" x1="0" y1="0" x2="1" y2="0"><stop offset="0" stop-color="#d0d0d0"/><stop offset="1" stop-color="#000"/></linearGradient></defs>
<rect x="258.50" y="530.60" width="139.50" height="1.00" fill="url(#garr)"/>
<polygon points="401.8,531.1 397.6,529.0 397.6,533.2" fill="#000"/>
<rect x="405.40" y="530.60" width="53.00" height="1.00" fill="url(#garr)"/>
<polygon points="462.4,531.1 458.2,529.0 458.2,533.2" fill="#000"/>
<text x="328.50" y="528.57" font-size="6.20" text-anchor="middle" textLength="24.60" lengthAdjust="spacingAndGlyphs" stroke="#1e1e1e" stroke-width="0.08">epiCMIT</text>
<text x="431.90" y="528.57" font-size="6.20" text-anchor="middle" textLength="25.30" lengthAdjust="spacingAndGlyphs" stroke="#1e1e1e" stroke-width="0.08">epiCMIT</text>
<rect x="49.80" y="413.50" width="3.20" height="11.50" fill="#5aa84a" stroke="#333" stroke-width="0.6"/>
<text x="46.80" y="418.25" font-size="7.00" text-anchor="end" textLength="39.90" lengthAdjust="spacingAndGlyphs" stroke="#1e1e1e" stroke-width="0.08">DNA damage</text>
<text x="46.80" y="425.65" font-size="7.00" text-anchor="end" textLength="26.00" lengthAdjust="spacingAndGlyphs" stroke="#1e1e1e" stroke-width="0.08">response</text>
<rect x="49.80" y="427.80" width="3.20" height="40.40" fill="#c39a35" stroke="#333" stroke-width="0.6"/>
<text x="46.80" y="447.05" font-size="7.00" text-anchor="end" textLength="35.30" lengthAdjust="spacingAndGlyphs" stroke="#1e1e1e" stroke-width="0.08">Proliferation</text>
<text x="46.80" y="455.15" font-size="7.00" text-anchor="end" textLength="34.50" lengthAdjust="spacingAndGlyphs" stroke="#1e1e1e" stroke-width="0.08">and survival</text>
<rect x="49.80" y="473.10" width="3.20" height="10.40" fill="#e5a21f" stroke="#333" stroke-width="0.6"/>
<text x="46.80" y="477.15" font-size="7.00" text-anchor="end" textLength="13.80" lengthAdjust="spacingAndGlyphs" stroke="#1e1e1e" stroke-width="0.08">RNA</text>
<text x="46.80" y="484.25" font-size="7.00" text-anchor="end" textLength="29.50" lengthAdjust="spacingAndGlyphs" stroke="#1e1e1e" stroke-width="0.08">regulation</text>
<rect x="49.80" y="486.20" width="3.20" height="9.50" fill="#b4542c" stroke="#333" stroke-width="0.6"/>
<text x="46.80" y="493.45" font-size="7.00" text-anchor="end" textLength="17.30" lengthAdjust="spacingAndGlyphs" stroke="#1e1e1e" stroke-width="0.08">Other</text>
<rect x="49.80" y="499.20" width="3.20" height="21.20" fill="#b8747c" stroke="#333" stroke-width="0.6"/>
<text x="46.80" y="511.95" font-size="7.00" text-anchor="end" textLength="14.50" lengthAdjust="spacingAndGlyphs" stroke="#1e1e1e" stroke-width="0.08">CNA</text>
<text x="111.40" y="421.25" font-size="6.70" text-anchor="end" textLength="17.00" lengthAdjust="spacingAndGlyphs" stroke="#1e1e1e" stroke-width="0.08"><tspan font-style="italic">TP53</tspan></text>
<line x1="113.00" y1="418.90" x2="115.60" y2="418.90" stroke="#222" stroke-width="0.8"/>
<text x="111.40" y="434.85" font-size="6.70" text-anchor="end" textLength="57.00" lengthAdjust="spacingAndGlyphs" stroke="#1e1e1e" stroke-width="0.08"><tspan font-style="italic">CCND1</tspan>3'UTR activ.</text>
<line x1="113.00" y1="432.50" x2="115.60" y2="432.50" stroke="#222" stroke-width="0.8"/>
<text x="111.40" y="445.95" font-size="6.70" text-anchor="end" textLength="48.50" lengthAdjust="spacingAndGlyphs" stroke="#1e1e1e" stroke-width="0.08">-9p21 (<tspan font-style="italic">CDKN2A</tspan>)</text>
<line x1="113.00" y1="443.60" x2="115.60" y2="443.60" stroke="#222" stroke-width="0.8"/>
<text x="111.40" y="456.25" font-size="6.70" text-anchor="end" textLength="37.20" lengthAdjust="spacingAndGlyphs" stroke="#1e1e1e" stroke-width="0.08">+8q24 (<tspan font-style="italic">MYC</tspan>)</text>
<line x1="113.00" y1="453.90" x2="115.60" y2="453.90" stroke="#222" stroke-width="0.8"/>
<text x="111.40" y="466.25" font-size="6.70" text-anchor="end" textLength="56.40" lengthAdjust="spacingAndGlyphs" stroke="#1e1e1e" stroke-width="0.08">+13q31 (<tspan font-style="italic">MIR17HG</tspan>)</text>
<line x1="113.00" y1="463.90" x2="115.60" y2="463.90" stroke="#222" stroke-width="0.8"/>
<text x="111.40" y="480.15" font-size="6.70" text-anchor="end" textLength="28.00" lengthAdjust="spacingAndGlyphs" stroke="#1e1e1e" stroke-width="0.08"><tspan font-style="italic">HNRNPH1</tspan></text>
<line x1="113.00" y1="477.80" x2="115.60" y2="477.80" stroke="#222" stroke-width="0.8"/>
<text x="111.40" y="493.25" font-size="6.70" text-anchor="end" textLength="21.00" lengthAdjust="spacingAndGlyphs" stroke="#1e1e1e" stroke-width="0.08"><tspan font-style="italic">MEF2B</tspan></text>
<line x1="113.00" y1="490.90" x2="115.60" y2="490.90" stroke="#222" stroke-width="0.8"/>
<text x="111.40" y="506.65" font-size="6.70" text-anchor="end" textLength="34.50" lengthAdjust="spacingAndGlyphs" stroke="#1e1e1e" stroke-width="0.08">-13q33-q34</text>
<line x1="113.00" y1="504.30" x2="115.60" y2="504.30" stroke="#222" stroke-width="0.8"/>
<text x="111.40" y="516.64" font-size="6.70" text-anchor="end" textLength="36.00" lengthAdjust="spacingAndGlyphs" stroke="#1e1e1e" stroke-width="0.08">+18q21-q22</text>
<line x1="113.00" y1="514.30" x2="115.60" y2="514.30" stroke="#222" stroke-width="0.8"/>
<rect x="117.70" y="413.80" width="24.80" height="10.60" fill="#f1f8fd"/>
<rect x="142.50" y="413.80" width="20.50" height="10.60" fill="#fcf1ef"/>
<line x1="142.50" y1="413.80" x2="142.50" y2="424.40" stroke="#b0b0b0" stroke-width="0.5" stroke-dasharray="1.2,1.2"/>
<rect x="117.70" y="413.80" width="45.30" height="10.60" fill="none" stroke="#1a1a1a" stroke-width="1.35"/>
<rect x="117.70" y="427.60" width="24.80" height="42.00" fill="#f1f8fd"/>
<rect x="142.50" y="427.60" width="20.50" height="42.00" fill="#fcf1ef"/>
<line x1="142.50" y1="427.60" x2="142.50" y2="469.60" stroke="#b0b0b0" stroke-width="0.5" stroke-dasharray="1.2,1.2"/>
<line x1="117.70" y1="438.10" x2="163.00" y2="438.10" stroke="#222" stroke-width="1.0"/>
<line x1="117.70" y1="448.60" x2="163.00" y2="448.60" stroke="#222" stroke-width="1.0"/>
<line x1="117.70" y1="459.10" x2="163.00" y2="459.10" stroke="#222" stroke-width="1.0"/>
<rect x="117.70" y="427.60" width="45.30" height="42.00" fill="none" stroke="#1a1a1a" stroke-width="1.35"/>
<rect x="117.70" y="473.00" width="24.80" height="10.50" fill="#f1f8fd"/>
<rect x="142.50" y="473.00" width="20.50" height="10.50" fill="#fcf1ef"/>
<line x1="142.50" y1="473.00" x2="142.50" y2="483.50" stroke="#b0b0b0" stroke-width="0.5" stroke-dasharray="1.2,1.2"/>
<rect x="117.70" y="473.00" width="45.30" height="10.50" fill="none" stroke="#1a1a1a" stroke-width="1.35"/>
<rect x="117.70" y="486.30" width="24.80" height="10.10" fill="#f1f8fd"/>
<rect x="142.50" y="486.30" width="20.50" height="10.10" fill="#fcf1ef"/>
<line x1="142.50" y1="486.30" x2="142.50" y2="496.40" stroke="#b0b0b0" stroke-width="0.5" stroke-dasharray="1.2,1.2"/>
<rect x="117.70" y="486.30" width="45.30" height="10.10" fill="none" stroke="#1a1a1a" stroke-width="1.35"/>
<rect x="117.70" y="499.60" width="24.80" height="20.80" fill="#f1f8fd"/>
<rect x="142.50" y="499.60" width="20.50" height="20.80" fill="#fcf1ef"/>
<line x1="142.50" y1="499.60" x2="142.50" y2="520.40" stroke="#b0b0b0" stroke-width="0.5" stroke-dasharray="1.2,1.2"/>
<line x1="117.70" y1="510.00" x2="163.00" y2="510.00" stroke="#222" stroke-width="1.0"/>
<rect x="117.70" y="499.60" width="45.30" height="20.80" fill="none" stroke="#1a1a1a" stroke-width="1.35"/>
<rect x="163.00" y="413.80" width="23.20" height="10.60" fill="#f1f8fd"/>
<rect x="186.20" y="413.80" width="22.40" height="10.60" fill="#fcf1ef"/>
<line x1="186.20" y1="413.80" x2="186.20" y2="424.40" stroke="#b0b0b0" stroke-width="0.5" stroke-dasharray="1.2,1.2"/>
<rect x="163.00" y="413.80" width="45.60" height="10.60" fill="none" stroke="#1a1a1a" stroke-width="1.35"/>
<rect x="163.00" y="427.60" width="23.20" height="42.00" fill="#f1f8fd"/>
<rect x="186.20" y="427.60" width="22.40" height="42.00" fill="#fcf1ef"/>
<line x1="186.20" y1="427.60" x2="186.20" y2="469.60" stroke="#b0b0b0" stroke-width="0.5" stroke-dasharray="1.2,1.2"/>
<line x1="163.00" y1="438.10" x2="208.60" y2="438.10" stroke="#222" stroke-width="1.0"/>
<line x1="163.00" y1="448.60" x2="208.60" y2="448.60" stroke="#222" stroke-width="1.0"/>
<line x1="163.00" y1="459.10" x2="208.60" y2="459.10" stroke="#222" stroke-width="1.0"/>
<rect x="163.00" y="427.60" width="45.60" height="42.00" fill="none" stroke="#1a1a1a" stroke-width="1.35"/>
<rect x="163.00" y="473.00" width="23.20" height="10.50" fill="#f1f8fd"/>
<rect x="186.20" y="473.00" width="22.40" height="10.50" fill="#fcf1ef"/>
<line x1="186.20" y1="473.00" x2="186.20" y2="483.50" stroke="#b0b0b0" stroke-width="0.5" stroke-dasharray="1.2,1.2"/>
<rect x="163.00" y="473.00" width="45.60" height="10.50" fill="none" stroke="#1a1a1a" stroke-width="1.35"/>
<rect x="163.00" y="486.30" width="23.20" height="10.10" fill="#f1f8fd"/>
<rect x="186.20" y="486.30" width="22.40" height="10.10" fill="#fcf1ef"/>
<line x1="186.20" y1="486.30" x2="186.20" y2="496.40" stroke="#b0b0b0" stroke-width="0.5" stroke-dasharray="1.2,1.2"/>
<rect x="163.00" y="486.30" width="45.60" height="10.10" fill="none" stroke="#1a1a1a" stroke-width="1.35"/>
<rect x="163.00" y="499.60" width="23.20" height="20.80" fill="#f1f8fd"/>
<rect x="186.20" y="499.60" width="22.40" height="20.80" fill="#fcf1ef"/>
<line x1="186.20" y1="499.60" x2="186.20" y2="520.40" stroke="#b0b0b0" stroke-width="0.5" stroke-dasharray="1.2,1.2"/>
<line x1="163.00" y1="510.00" x2="208.60" y2="510.00" stroke="#222" stroke-width="1.0"/>
<rect x="163.00" y="499.60" width="45.60" height="20.80" fill="none" stroke="#1a1a1a" stroke-width="1.35"/>
<rect x="208.60" y="413.80" width="15.80" height="10.60" fill="#f1f8fd"/>
<rect x="224.40" y="413.80" width="29.30" height="10.60" fill="#fcf1ef"/>
<line x1="224.40" y1="413.80" x2="224.40" y2="424.40" stroke="#b0b0b0" stroke-width="0.5" stroke-dasharray="1.2,1.2"/>
<rect x="208.60" y="413.80" width="45.10" height="10.60" fill="none" stroke="#1a1a1a" stroke-width="1.35"/>
<rect x="208.60" y="427.60" width="15.80" height="42.00" fill="#f1f8fd"/>
<rect x="224.40" y="427.60" width="29.30" height="42.00" fill="#fcf1ef"/>
<line x1="224.40" y1="427.60" x2="224.40" y2="469.60" stroke="#b0b0b0" stroke-width="0.5" stroke-dasharray="1.2,1.2"/>
<line x1="208.60" y1="438.10" x2="253.70" y2="438.10" stroke="#222" stroke-width="1.0"/>
<line x1="208.60" y1="448.60" x2="253.70" y2="448.60" stroke="#222" stroke-width="1.0"/>
<line x1="208.60" y1="459.10" x2="253.70" y2="459.10" stroke="#222" stroke-width="1.0"/>
<rect x="208.60" y="427.60" width="45.10" height="42.00" fill="none" stroke="#1a1a1a" stroke-width="1.35"/>
<rect x="208.60" y="473.00" width="15.80" height="10.50" fill="#f1f8fd"/>
<rect x="224.40" y="473.00" width="29.30" height="10.50" fill="#fcf1ef"/>
<line x1="224.40" y1="473.00" x2="224.40" y2="483.50" stroke="#b0b0b0" stroke-width="0.5" stroke-dasharray="1.2,1.2"/>
<rect x="208.60" y="473.00" width="45.10" height="10.50" fill="none" stroke="#1a1a1a" stroke-width="1.35"/>
<rect x="208.60" y="486.30" width="15.80" height="10.10" fill="#f1f8fd"/>
<rect x="224.40" y="486.30" width="29.30" height="10.10" fill="#fcf1ef"/>
<line x1="224.40" y1="486.30" x2="224.40" y2="496.40" stroke="#b0b0b0" stroke-width="0.5" stroke-dasharray="1.2,1.2"/>
<rect x="208.60" y="486.30" width="45.10" height="10.10" fill="none" stroke="#1a1a1a" stroke-width="1.35"/>
<rect x="208.60" y="499.60" width="15.80" height="20.80" fill="#f1f8fd"/>
<rect x="224.40" y="499.60" width="29.30" height="20.80" fill="#fcf1ef"/>
<line x1="224.40" y1="499.60" x2="224.40" y2="520.40" stroke="#b0b0b0" stroke-width="0.5" stroke-dasharray="1.2,1.2"/>
<line x1="208.60" y1="510.00" x2="253.70" y2="510.00" stroke="#222" stroke-width="1.0"/>
<rect x="208.60" y="499.60" width="45.10" height="20.80" fill="none" stroke="#1a1a1a" stroke-width="1.35"/>
<line x1="253.70" y1="419.10" x2="258.60" y2="419.10" stroke="#222" stroke-width="0.8"/>
<line x1="253.70" y1="432.85" x2="258.60" y2="432.85" stroke="#222" stroke-width="0.8"/>
<line x1="253.70" y1="443.35" x2="258.60" y2="443.35" stroke="#222" stroke-width="0.8"/>
<line x1="253.70" y1="453.85" x2="258.60" y2="453.85" stroke="#222" stroke-width="0.8"/>
<line x1="253.70" y1="464.35" x2="258.60" y2="464.35" stroke="#222" stroke-width="0.8"/>
<line x1="253.70" y1="478.25" x2="258.60" y2="478.25" stroke="#222" stroke-width="0.8"/>
<line x1="253.70" y1="491.35" x2="258.60" y2="491.35" stroke="#222" stroke-width="0.8"/>
<line x1="253.70" y1="504.80" x2="258.60" y2="504.80" stroke="#222" stroke-width="0.8"/>
<line x1="253.70" y1="515.20" x2="258.60" y2="515.20" stroke="#222" stroke-width="0.8"/>
<line x1="142.30" y1="419.20" x2="154.20" y2="419.20" stroke="#b8123c" stroke-width="1.15"/>
<line x1="142.30" y1="418.10" x2="142.30" y2="420.30" stroke="#b8123c" stroke-width="0.8"/>
<line x1="154.20" y1="418.10" x2="154.20" y2="420.30" stroke="#b8123c" stroke-width="0.8"/>
<circle cx="148.20" cy="419.20" r="1.45" fill="#b8123c" stroke="#b8123c" stroke-width="0.2"/>
<line x1="143.80" y1="432.80" x2="156.20" y2="432.80" stroke="#b8123c" stroke-width="1.15"/>
<line x1="143.80" y1="431.70" x2="143.80" y2="433.90" stroke="#b8123c" stroke-width="0.8"/>
<line x1="156.20" y1="431.70" x2="156.20" y2="433.90" stroke="#b8123c" stroke-width="0.8"/>
<circle cx="150.00" cy="432.80" r="1.45" fill="#b8123c" stroke="#b8123c" stroke-width="0.2"/>
<line x1="142.30" y1="443.70" x2="156.60" y2="443.70" stroke="#b8123c" stroke-width="1.15"/>
<line x1="142.30" y1="442.60" x2="142.30" y2="444.80" stroke="#b8123c" stroke-width="0.8"/>
<line x1="156.60" y1="442.60" x2="156.60" y2="444.80" stroke="#b8123c" stroke-width="0.8"/>
<circle cx="149.50" cy="443.70" r="1.45" fill="#b8123c" stroke="#b8123c" stroke-width="0.2"/>
<line x1="143.80" y1="453.90" x2="158.00" y2="453.90" stroke="#b8123c" stroke-width="1.15"/>
<line x1="143.80" y1="452.80" x2="143.80" y2="455.00" stroke="#b8123c" stroke-width="0.8"/>
<line x1="158.00" y1="452.80" x2="158.00" y2="455.00" stroke="#b8123c" stroke-width="0.8"/>
<circle cx="150.80" cy="453.90" r="1.45" fill="#b8123c" stroke="#b8123c" stroke-width="0.2"/>
<line x1="143.80" y1="464.70" x2="160.80" y2="464.70" stroke="#b8123c" stroke-width="1.15"/>
<line x1="143.80" y1="463.60" x2="143.80" y2="465.80" stroke="#b8123c" stroke-width="0.8"/>
<line x1="160.80" y1="463.60" x2="160.80" y2="465.80" stroke="#b8123c" stroke-width="0.8"/>
<circle cx="151.80" cy="464.70" r="1.45" fill="#b8123c" stroke="#b8123c" stroke-width="0.2"/>
<line x1="138.50" y1="478.50" x2="158.80" y2="478.50" stroke="#5b6b93" stroke-width="1.15"/>
<line x1="138.50" y1="477.40" x2="138.50" y2="479.60" stroke="#5b6b93" stroke-width="0.8"/>
<line x1="158.80" y1="477.40" x2="158.80" y2="479.60" stroke="#5b6b93" stroke-width="0.8"/>
<circle cx="148.10" cy="478.50" r="1.45" fill="#5b6b93" stroke="#5b6b93" stroke-width="0.2"/>
<line x1="119.20" y1="491.30" x2="141.90" y2="491.30" stroke="#b8123c" stroke-width="1.15"/>
<line x1="119.20" y1="490.20" x2="119.20" y2="492.40" stroke="#b8123c" stroke-width="0.8"/>
<line x1="141.90" y1="490.20" x2="141.90" y2="492.40" stroke="#b8123c" stroke-width="0.8"/>
<circle cx="130.80" cy="491.30" r="1.45" fill="#b8123c" stroke="#b8123c" stroke-width="0.2"/>
<line x1="141.00" y1="504.80" x2="152.90" y2="504.80" stroke="#d91f8e" stroke-width="1.15"/>
<line x1="141.00" y1="503.70" x2="141.00" y2="505.90" stroke="#d91f8e" stroke-width="0.8"/>
<line x1="152.90" y1="503.70" x2="152.90" y2="505.90" stroke="#d91f8e" stroke-width="0.8"/>
<circle cx="146.70" cy="504.80" r="1.45" fill="#d91f8e" stroke="#d91f8e" stroke-width="0.2"/>
<line x1="140.00" y1="515.00" x2="156.90" y2="515.00" stroke="#d91f8e" stroke-width="1.15"/>
<line x1="140.00" y1="513.90" x2="140.00" y2="516.10" stroke="#d91f8e" stroke-width="0.8"/>
<line x1="156.90" y1="513.90" x2="156.90" y2="516.10" stroke="#d91f8e" stroke-width="0.8"/>
<circle cx="148.70" cy="515.00" r="1.45" fill="#d91f8e" stroke="#d91f8e" stroke-width="0.2"/>
<line x1="184.10" y1="419.20" x2="197.60" y2="419.20" stroke="#d91f8e" stroke-width="1.15"/>
<line x1="184.10" y1="418.10" x2="184.10" y2="420.30" stroke="#d91f8e" stroke-width="0.8"/>
<line x1="197.60" y1="418.10" x2="197.60" y2="420.30" stroke="#d91f8e" stroke-width="0.8"/>
<circle cx="190.70" cy="419.20" r="1.45" fill="#d91f8e" stroke="#d91f8e" stroke-width="0.2"/>
<line x1="188.00" y1="432.80" x2="200.70" y2="432.80" stroke="#b8123c" stroke-width="1.15"/>
<line x1="188.00" y1="431.70" x2="188.00" y2="433.90" stroke="#b8123c" stroke-width="0.8"/>
<line x1="200.70" y1="431.70" x2="200.70" y2="433.90" stroke="#b8123c" stroke-width="0.8"/>
<circle cx="194.40" cy="432.80" r="1.45" fill="#b8123c" stroke="#b8123c" stroke-width="0.2"/>
<line x1="185.90" y1="443.70" x2="199.90" y2="443.70" stroke="#d91f8e" stroke-width="1.15"/>
<line x1="185.90" y1="442.60" x2="185.90" y2="444.80" stroke="#d91f8e" stroke-width="0.8"/>
<line x1="199.90" y1="442.60" x2="199.90" y2="444.80" stroke="#d91f8e" stroke-width="0.8"/>
<circle cx="192.80" cy="443.70" r="1.45" fill="#d91f8e" stroke="#d91f8e" stroke-width="0.2"/>
<line x1="188.00" y1="453.90" x2="202.90" y2="453.90" stroke="#b8123c" stroke-width="1.15"/>
<line x1="188.00" y1="452.80" x2="188.00" y2="455.00" stroke="#b8123c" stroke-width="0.8"/>
<line x1="202.90" y1="452.80" x2="202.90" y2="455.00" stroke="#b8123c" stroke-width="0.8"/>
<circle cx="195.40" cy="453.90" r="1.45" fill="#b8123c" stroke="#b8123c" stroke-width="0.2"/>
<line x1="187.30" y1="464.70" x2="202.90" y2="464.70" stroke="#b8123c" stroke-width="1.15"/>
<line x1="187.30" y1="463.60" x2="187.30" y2="465.80" stroke="#b8123c" stroke-width="0.8"/>
<line x1="202.90" y1="463.60" x2="202.90" y2="465.80" stroke="#b8123c" stroke-width="0.8"/>
<circle cx="195.20" cy="464.70" r="1.45" fill="#b8123c" stroke="#b8123c" stroke-width="0.2"/>
<line x1="186.20" y1="478.50" x2="206.30" y2="478.50" stroke="#d91f8e" stroke-width="1.15"/>
<line x1="186.20" y1="477.40" x2="186.20" y2="479.60" stroke="#d91f8e" stroke-width="0.8"/>
<line x1="206.30" y1="477.40" x2="206.30" y2="479.60" stroke="#d91f8e" stroke-width="0.8"/>
<circle cx="196.20" cy="478.50" r="1.45" fill="#d91f8e" stroke="#d91f8e" stroke-width="0.2"/>
<line x1="165.40" y1="491.30" x2="185.80" y2="491.30" stroke="#d91f8e" stroke-width="1.15"/>
<line x1="165.40" y1="490.20" x2="165.40" y2="492.40" stroke="#d91f8e" stroke-width="0.8"/>
<line x1="185.80" y1="490.20" x2="185.80" y2="492.40" stroke="#d91f8e" stroke-width="0.8"/>
<circle cx="175.20" cy="491.30" r="1.45" fill="#d91f8e" stroke="#d91f8e" stroke-width="0.2"/>
<line x1="185.20" y1="504.80" x2="196.70" y2="504.80" stroke="#d91f8e" stroke-width="1.15"/>
<line x1="185.20" y1="503.70" x2="185.20" y2="505.90" stroke="#d91f8e" stroke-width="0.8"/>
<line x1="196.70" y1="503.70" x2="196.70" y2="505.90" stroke="#d91f8e" stroke-width="0.8"/>
<circle cx="191.00" cy="504.80" r="1.45" fill="#d91f8e" stroke="#d91f8e" stroke-width="0.2"/>
<line x1="184.20" y1="515.00" x2="200.00" y2="515.00" stroke="#d91f8e" stroke-width="1.15"/>
<line x1="184.20" y1="513.90" x2="184.20" y2="516.10" stroke="#d91f8e" stroke-width="0.8"/>
<line x1="200.00" y1="513.90" x2="200.00" y2="516.10" stroke="#d91f8e" stroke-width="0.8"/>
<circle cx="191.90" cy="515.00" r="1.45" fill="#d91f8e" stroke="#d91f8e" stroke-width="0.2"/>
<line x1="220.00" y1="419.20" x2="251.50" y2="419.20" stroke="#d91f8e" stroke-width="1.15"/>
<line x1="220.00" y1="418.10" x2="220.00" y2="420.30" stroke="#d91f8e" stroke-width="0.8"/>
<line x1="251.50" y1="418.10" x2="251.50" y2="420.30" stroke="#d91f8e" stroke-width="0.8"/>
<circle cx="236.00" cy="419.20" r="1.45" fill="#d91f8e" stroke="#d91f8e" stroke-width="0.2"/>
<text x="140.30" y="409.21" font-size="6.60" text-anchor="middle" textLength="19.00" lengthAdjust="spacingAndGlyphs" stroke="#1e1e1e" stroke-width="0.08">Global</text>
<text x="185.60" y="409.61" font-size="6.60" text-anchor="middle" textLength="16.20" lengthAdjust="spacingAndGlyphs" stroke="#1e1e1e" stroke-width="0.08">cMCL</text>
<text x="231.30" y="410.11" font-size="6.60" text-anchor="middle" textLength="20.60" lengthAdjust="spacingAndGlyphs" stroke="#1e1e1e" stroke-width="0.08">nnMCL</text>
<line x1="118.70" y1="520.40" x2="118.70" y2="522.90" stroke="#111" stroke-width="0.9"/>
<text x="120.30" y="531.00" font-size="7.6" stroke="#1e1e1e" stroke-width="0.15" text-anchor="end" textLength="12.20" lengthAdjust="spacingAndGlyphs" transform="rotate(-45 120.30 531.00)">−0.2</text>
<line x1="130.40" y1="520.40" x2="130.40" y2="522.90" stroke="#111" stroke-width="0.9"/>
<text x="132.00" y="531.00" font-size="7.6" stroke="#1e1e1e" stroke-width="0.15" text-anchor="end" textLength="12.20" lengthAdjust="spacingAndGlyphs" transform="rotate(-45 132.00 531.00)">−0.1</text>
<line x1="142.40" y1="520.40" x2="142.40" y2="522.90" stroke="#111" stroke-width="0.9"/>
<text x="144.00" y="531.00" font-size="7.6" stroke="#1e1e1e" stroke-width="0.15" text-anchor="end" textLength="9.20" lengthAdjust="spacingAndGlyphs" transform="rotate(-45 144.00 531.00)">0.0</text>
<line x1="151.80" y1="520.40" x2="151.80" y2="522.90" stroke="#111" stroke-width="0.9"/>
<text x="153.40" y="531.00" font-size="7.6" stroke="#1e1e1e" stroke-width="0.15" text-anchor="end" textLength="9.20" lengthAdjust="spacingAndGlyphs" transform="rotate(-45 153.40 531.00)">0.1</text>
<line x1="164.20" y1="520.40" x2="164.20" y2="522.90" stroke="#111" stroke-width="0.9"/>
<text x="165.80" y="531.00" font-size="7.6" stroke="#1e1e1e" stroke-width="0.15" text-anchor="end" textLength="12.20" lengthAdjust="spacingAndGlyphs" transform="rotate(-45 165.80 531.00)">−0.2</text>
<line x1="175.40" y1="520.40" x2="175.40" y2="522.90" stroke="#111" stroke-width="0.9"/>
<text x="177.00" y="531.00" font-size="7.6" stroke="#1e1e1e" stroke-width="0.15" text-anchor="end" textLength="12.20" lengthAdjust="spacingAndGlyphs" transform="rotate(-45 177.00 531.00)">−0.1</text>
<line x1="186.30" y1="520.40" x2="186.30" y2="522.90" stroke="#111" stroke-width="0.9"/>
<text x="187.90" y="531.00" font-size="7.6" stroke="#1e1e1e" stroke-width="0.15" text-anchor="end" textLength="9.20" lengthAdjust="spacingAndGlyphs" transform="rotate(-45 187.90 531.00)">0.0</text>
<line x1="196.90" y1="520.40" x2="196.90" y2="522.90" stroke="#111" stroke-width="0.9"/>
<text x="198.50" y="531.00" font-size="7.6" stroke="#1e1e1e" stroke-width="0.15" text-anchor="end" textLength="9.20" lengthAdjust="spacingAndGlyphs" transform="rotate(-45 198.50 531.00)">0.1</text>
<line x1="214.80" y1="520.40" x2="214.80" y2="522.90" stroke="#111" stroke-width="0.9"/>
<text x="216.40" y="531.00" font-size="7.6" stroke="#1e1e1e" stroke-width="0.15" text-anchor="end" textLength="15.20" lengthAdjust="spacingAndGlyphs" transform="rotate(-45 216.40 531.00)">−0.05</text>
<line x1="224.00" y1="520.40" x2="224.00" y2="522.90" stroke="#111" stroke-width="0.9"/>
<text x="225.60" y="531.00" font-size="7.6" stroke="#1e1e1e" stroke-width="0.15" text-anchor="end" textLength="12.20" lengthAdjust="spacingAndGlyphs" transform="rotate(-45 225.60 531.00)">0.00</text>
<line x1="233.00" y1="520.40" x2="233.00" y2="522.90" stroke="#111" stroke-width="0.9"/>
<text x="234.60" y="531.00" font-size="7.6" stroke="#1e1e1e" stroke-width="0.15" text-anchor="end" textLength="12.20" lengthAdjust="spacingAndGlyphs" transform="rotate(-45 234.60 531.00)">0.05</text>
<line x1="242.30" y1="520.40" x2="242.30" y2="522.90" stroke="#111" stroke-width="0.9"/>
<text x="243.90" y="531.00" font-size="7.6" stroke="#1e1e1e" stroke-width="0.15" text-anchor="end" textLength="12.20" lengthAdjust="spacingAndGlyphs" transform="rotate(-45 243.90 531.00)">0.10</text>
<line x1="251.30" y1="520.40" x2="251.30" y2="522.90" stroke="#111" stroke-width="0.9"/>
<text x="252.90" y="531.00" font-size="7.6" stroke="#1e1e1e" stroke-width="0.15" text-anchor="end" textLength="12.20" lengthAdjust="spacingAndGlyphs" transform="rotate(-45 252.90 531.00)">0.15</text>
<text x="164.80" y="554.18" font-size="8.50" textLength="42.00" lengthAdjust="spacingAndGlyphs" stroke="#1e1e1e" stroke-width="0.08">Point estimate</text>
<text x="145.00" y="563.63" font-size="6.10" text-anchor="middle" textLength="13.00" lengthAdjust="spacingAndGlyphs" stroke="#1e1e1e" stroke-width="0.08">FDR</text>
<line x1="104.90" y1="569.90" x2="111.10" y2="569.90" stroke="#d0312d" stroke-width="0.9"/>
<circle cx="108.00" cy="569.90" r="0.90" fill="#d0312d" stroke="#d0312d" stroke-width="0.1"/>
<text x="113.50" y="571.68" font-size="5.10" textLength="14.20" lengthAdjust="spacingAndGlyphs" stroke="#1e1e1e" stroke-width="0.08">&lt;0.25</text>
<line x1="131.50" y1="569.90" x2="137.70" y2="569.90" stroke="#e67ac9" stroke-width="0.9"/>
<circle cx="134.60" cy="569.90" r="0.90" fill="#e67ac9" stroke="#e67ac9" stroke-width="0.1"/>
<text x="140.30" y="571.68" font-size="5.10" textLength="10.50" lengthAdjust="spacingAndGlyphs" stroke="#1e1e1e" stroke-width="0.08">&lt;0.5</text>
<line x1="155.00" y1="569.90" x2="161.20" y2="569.90" stroke="#3d4b7c" stroke-width="0.9"/>
<circle cx="158.10" cy="569.90" r="0.90" fill="#3d4b7c" stroke="#3d4b7c" stroke-width="0.1"/>
<text x="164.60" y="571.68" font-size="5.10" textLength="11.60" lengthAdjust="spacingAndGlyphs" stroke="#1e1e1e" stroke-width="0.08">&gt;0.5</text>
<rect x="187.70" y="559.90" width="27.70" height="8.90" fill="#f3f8fc"/>
<rect x="215.40" y="559.90" width="28.10" height="8.90" fill="#fcf2f1"/>
<rect x="187.70" y="559.90" width="55.80" height="8.90" fill="none" stroke="#444" stroke-width="0.8"/>
<line x1="215.40" y1="560.40" x2="215.40" y2="568.40" stroke="#666" stroke-width="0.5" stroke-dasharray="1,1"/>
<text x="201.60" y="566.22" font-size="5.50" text-anchor="middle" textLength="22.00" lengthAdjust="spacingAndGlyphs" stroke="#1e1e1e" stroke-width="0.08">Negative</text>
<text x="229.60" y="566.22" font-size="5.50" text-anchor="middle" textLength="18.60" lengthAdjust="spacingAndGlyphs" stroke="#1e1e1e" stroke-width="0.08">Positive</text>
<line x1="194.00" y1="573.50" x2="210.20" y2="573.50" stroke="#111" stroke-width="0.8"/>
<polygon points="191.2,573.5 195.0,571.7 195.0,575.3" fill="#111"/>
<line x1="220.00" y1="573.50" x2="236.60" y2="573.50" stroke="#111" stroke-width="0.8"/>
<polygon points="239.4,573.5 235.6,571.7 235.6,575.3" fill="#111"/>
<text x="215.10" y="575.77" font-size="6.20" text-anchor="middle" textLength="3.60" lengthAdjust="spacingAndGlyphs" stroke="#1e1e1e" stroke-width="0.08">0</text>
<text x="178.60" y="586.46" font-size="7.60" textLength="73.20" lengthAdjust="spacingAndGlyphs" stroke="#1e1e1e" stroke-width="0.08">Association with epiCMIT</text>
<text x="257.70" y="548.42" font-size="5.50" textLength="23.80" lengthAdjust="spacingAndGlyphs" stroke="#1e1e1e" stroke-width="0.08">MCL type</text>
<rect x="257.70" y="553.50" width="3.80" height="3.70" fill="#3f7bc6"/>
<text x="265.00" y="557.32" font-size="5.50" textLength="14.00" lengthAdjust="spacingAndGlyphs" stroke="#1e1e1e" stroke-width="0.08">cMCL</text>
<rect x="257.70" y="559.30" width="3.80" height="3.70" fill="#f6cd17"/>
<text x="265.00" y="563.12" font-size="5.50" textLength="17.30" lengthAdjust="spacingAndGlyphs" stroke="#1e1e1e" stroke-width="0.08">nnMCL</text>
<text x="287.70" y="548.42" font-size="5.50" textLength="23.50" lengthAdjust="spacingAndGlyphs" stroke="#1e1e1e" stroke-width="0.08">Epi. COO</text>
<rect x="287.70" y="553.50" width="3.80" height="3.70" fill="#35a8e0"/>
<text x="295.00" y="557.32" font-size="5.50" textLength="6.50" lengthAdjust="spacingAndGlyphs" stroke="#1e1e1e" stroke-width="0.08">C1</text>
<rect x="287.70" y="559.30" width="3.80" height="3.70" fill="#fdf1a4"/>
<text x="295.00" y="563.12" font-size="5.50" textLength="6.50" lengthAdjust="spacingAndGlyphs" stroke="#1e1e1e" stroke-width="0.08">C2</text>
<rect x="287.70" y="565.30" width="3.80" height="3.70" fill="#b9b9b9"/>
<text x="295.00" y="569.12" font-size="5.50" textLength="28.00" lengthAdjust="spacingAndGlyphs" stroke="#1e1e1e" stroke-width="0.08">Unclassified</text>
<text x="330.40" y="548.42" font-size="5.50" textLength="11.60" lengthAdjust="spacingAndGlyphs" stroke="#1e1e1e" stroke-width="0.08">IGHV</text>
<defs><linearGradient id="gighv" x1="0" y1="0" x2="0" y2="1"><stop offset="0" stop-color="#000"/><stop offset="1" stop-color="#fff"/></linearGradient></defs>
<rect x="333.50" y="551.50" width="3.80" height="23.10" fill="url(#gighv)"/>
<text x="342.00" y="553.92" font-size="5.50" textLength="9.00" lengthAdjust="spacingAndGlyphs" stroke="#1e1e1e" stroke-width="0.08">100</text>
<text x="342.00" y="558.82" font-size="5.50" textLength="6.00" lengthAdjust="spacingAndGlyphs" stroke="#1e1e1e" stroke-width="0.08">98</text>
<text x="342.00" y="564.22" font-size="5.50" textLength="6.00" lengthAdjust="spacingAndGlyphs" stroke="#1e1e1e" stroke-width="0.08">96</text>
<text x="342.00" y="569.92" font-size="5.50" textLength="6.00" lengthAdjust="spacingAndGlyphs" stroke="#1e1e1e" stroke-width="0.08">94</text>
<text x="342.00" y="575.12" font-size="5.50" textLength="6.00" lengthAdjust="spacingAndGlyphs" stroke="#1e1e1e" stroke-width="0.08">92</text>
<text x="358.00" y="548.42" font-size="5.50" textLength="30.00" lengthAdjust="spacingAndGlyphs" stroke="#1e1e1e" stroke-width="0.08">Morphology</text>
<rect x="358.00" y="553.50" width="3.80" height="3.70" fill="#c8c8c8"/>
<text x="365.00" y="557.32" font-size="5.50" textLength="32.00" lengthAdjust="spacingAndGlyphs" stroke="#1e1e1e" stroke-width="0.08">Conventional</text>
<rect x="358.00" y="559.30" width="3.80" height="3.70" fill="#3d9a35"/>
<text x="365.00" y="563.02" font-size="5.50" textLength="25.20" lengthAdjust="spacingAndGlyphs" stroke="#1e1e1e" stroke-width="0.08">Small cell</text>
<rect x="358.00" y="565.30" width="3.80" height="3.70" fill="#a40f2c"/>
<text x="365.00" y="569.12" font-size="5.50" textLength="20.50" lengthAdjust="spacingAndGlyphs" stroke="#1e1e1e" stroke-width="0.08">Blastoid</text>
<text x="401.80" y="548.42" font-size="5.50" textLength="24.70" lengthAdjust="spacingAndGlyphs" stroke="#1e1e1e" stroke-width="0.08">Num.CNA</text>
<defs><linearGradient id="gcna" x1="0" y1="0" x2="0" y2="1"><stop offset="0" stop-color="#00441b"/><stop offset="0.3" stop-color="#238b45"/><stop offset="0.65" stop-color="#74c476"/><stop offset="1" stop-color="#f7fcf5"/></linearGradient></defs>
<rect x="402.30" y="550.40" width="3.50" height="23.10" fill="url(#gcna)"/>
<text x="409.70" y="553.42" font-size="5.50" textLength="6.00" lengthAdjust="spacingAndGlyphs" stroke="#1e1e1e" stroke-width="0.08">40</text>
<text x="409.70" y="558.72" font-size="5.50" textLength="6.00" lengthAdjust="spacingAndGlyphs" stroke="#1e1e1e" stroke-width="0.08">30</text>
<text x="409.70" y="564.12" font-size="5.50" textLength="6.00" lengthAdjust="spacingAndGlyphs" stroke="#1e1e1e" stroke-width="0.08">20</text>
<text x="409.70" y="569.52" font-size="5.50" textLength="6.00" lengthAdjust="spacingAndGlyphs" stroke="#1e1e1e" stroke-width="0.08">10</text>
<text x="409.70" y="574.92" font-size="5.50" textLength="3.00" lengthAdjust="spacingAndGlyphs" stroke="#1e1e1e" stroke-width="0.08">0</text>
<text x="433.50" y="548.42" font-size="5.50" textLength="20.00" lengthAdjust="spacingAndGlyphs" stroke="#1e1e1e" stroke-width="0.08">epiCMIT</text>
<rect x="434.00" y="550.40" width="3.10" height="28.80" fill="url(#gspec)"/>
<text x="441.00" y="553.12" font-size="5.50" textLength="8.00" lengthAdjust="spacingAndGlyphs" stroke="#1e1e1e" stroke-width="0.08">0.9</text>
<text x="441.00" y="558.72" font-size="5.50" textLength="8.00" lengthAdjust="spacingAndGlyphs" stroke="#1e1e1e" stroke-width="0.08">0.8</text>
<text x="441.00" y="564.22" font-size="5.50" textLength="8.00" lengthAdjust="spacingAndGlyphs" stroke="#1e1e1e" stroke-width="0.08">0.7</text>
<text x="441.00" y="569.62" font-size="5.50" textLength="8.00" lengthAdjust="spacingAndGlyphs" stroke="#1e1e1e" stroke-width="0.08">0.6</text>
<text x="441.00" y="574.92" font-size="5.50" textLength="8.00" lengthAdjust="spacingAndGlyphs" stroke="#1e1e1e" stroke-width="0.08">0.5</text>
<text x="441.00" y="580.12" font-size="5.50" textLength="8.00" lengthAdjust="spacingAndGlyphs" stroke="#1e1e1e" stroke-width="0.08">0.4</text>
<text x="460.50" y="548.42" font-size="5.50" textLength="25.00" lengthAdjust="spacingAndGlyphs" stroke="#1e1e1e" stroke-width="0.08">Alteration</text>
<rect x="460.30" y="551.10" width="4.40" height="4.20" fill="#7f7f7f"/>
<text x="467.60" y="555.12" font-size="5.50" textLength="22.50" lengthAdjust="spacingAndGlyphs" stroke="#1e1e1e" stroke-width="0.08">Mutation</text>
<rect x="460.30" y="556.80" width="4.40" height="4.20" fill="#d9434f"/>
<text x="467.60" y="560.82" font-size="5.50" textLength="20.70" lengthAdjust="spacingAndGlyphs" stroke="#1e1e1e" stroke-width="0.08">Deletion</text>
<rect x="460.30" y="562.60" width="4.40" height="4.20" fill="#8e0b0b"/>
<text x="467.60" y="566.62" font-size="5.50" textLength="37.70" lengthAdjust="spacingAndGlyphs" stroke="#1e1e1e" stroke-width="0.08">Homo. deletion</text>
<rect x="460.30" y="568.40" width="4.40" height="4.20" fill="#4d82cf"/>
<text x="467.60" y="572.42" font-size="5.50" textLength="11.00" lengthAdjust="spacingAndGlyphs" stroke="#1e1e1e" stroke-width="0.08">Gain</text>
<rect x="460.30" y="574.10" width="4.40" height="4.20" fill="#23187d"/>
<text x="467.60" y="578.12" font-size="5.50" textLength="38.00" lengthAdjust="spacingAndGlyphs" stroke="#1e1e1e" stroke-width="0.08">High copy gain</text>
<rect x="460.30" y="579.90" width="4.40" height="4.20" fill="#9fc43a"/>
<text x="467.60" y="583.92" font-size="5.50" textLength="6.60" lengthAdjust="spacingAndGlyphs" stroke="#1e1e1e" stroke-width="0.08">SV</text>
</svg>
</body></html>
